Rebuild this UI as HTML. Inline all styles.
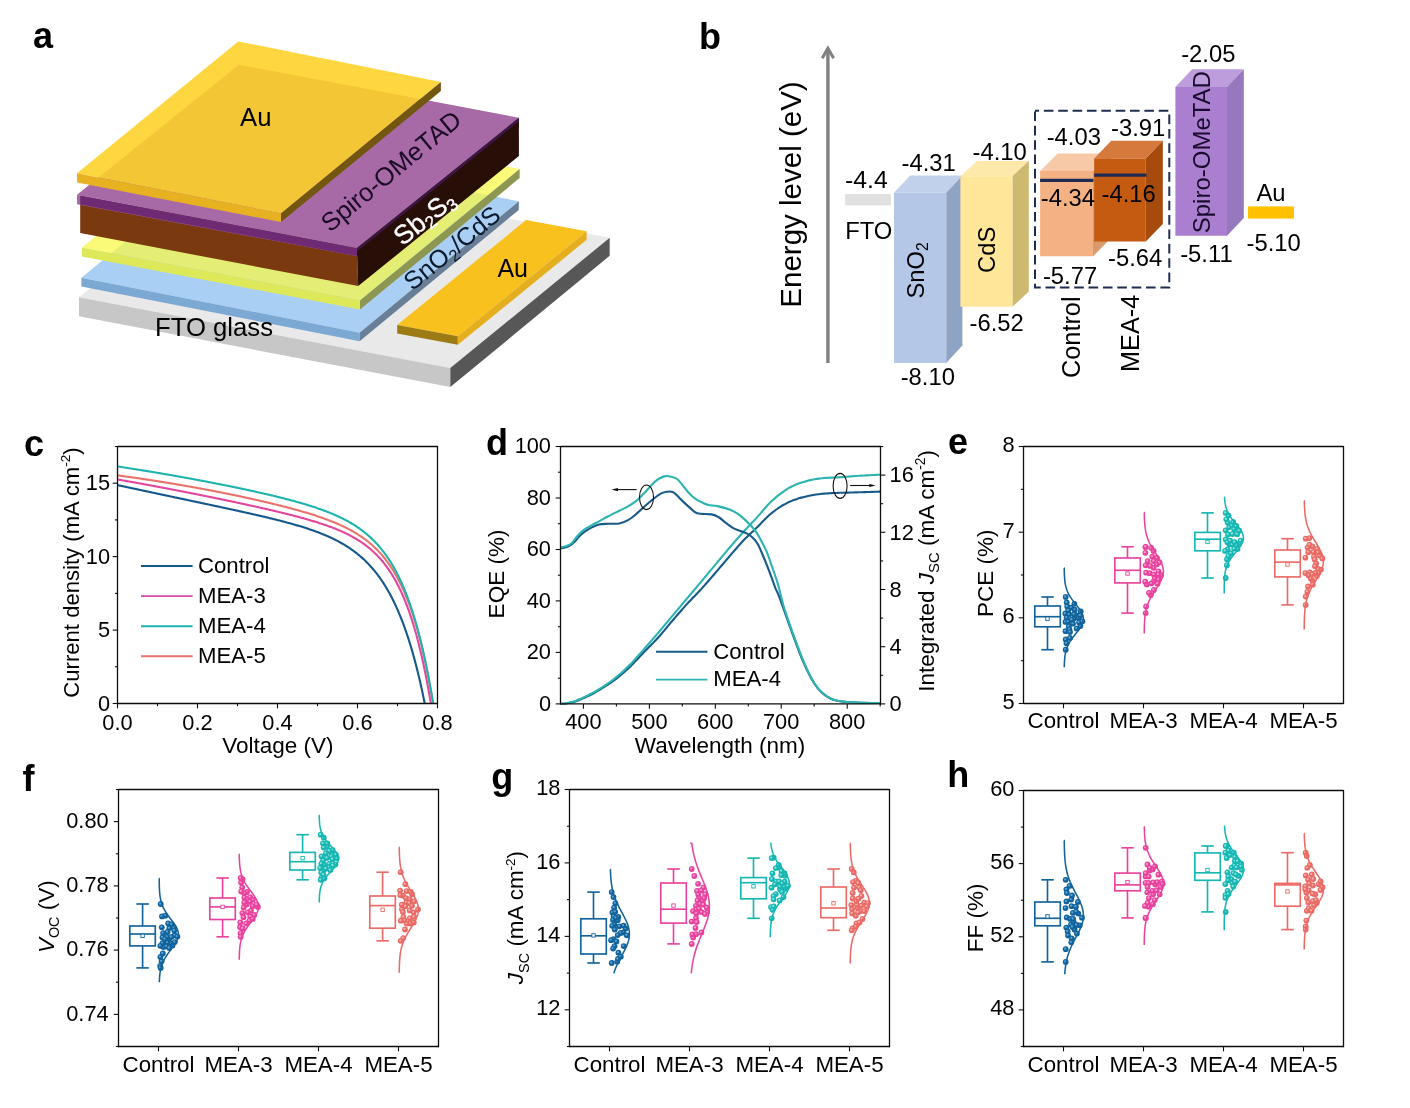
<!DOCTYPE html>
<html lang="en"><head><meta charset="utf-8"><title>Figure</title>
<style>html,body{margin:0;padding:0;background:#fff}body{width:1410px;height:1108px;overflow:hidden}</style>
</head><body>
<svg width="1410" height="1108" viewBox="0 0 1410 1108" font-family='"Liberation Sans", Arial, Helvetica, sans-serif' style="display:block">
<rect width="1410" height="1108" fill="#fff"/>
<g id="panel-a">
<polygon points="79.0,297.3 450.3,368.1 609.7,237.8 238.4,167.0" fill="#e9e9e9" />
<polygon points="79.0,297.3 450.3,368.1 450.3,387.1 79.0,316.3" fill="#c7c7c7" />
<polygon points="450.3,368.1 609.7,237.8 609.7,255.8 450.3,387.1" fill="#575757" />
<polygon points="397.2,325.1 457.8,336.3 586.6,231.3 526.0,220.1" fill="#f9c11e" />
<polygon points="397.2,325.1 457.8,336.3 457.8,344.8 397.2,333.6" fill="#9c7a14" />
<polygon points="457.8,336.3 586.6,231.3 586.6,239.8 457.8,344.8" fill="#e4ae1f" />
<polygon points="81.4,277.8 359.6,332.7 518.8,201.3 240.6,146.4" fill="#a9d0f4" />
<polygon points="81.4,277.8 359.6,332.7 359.6,341.3 81.4,286.4" fill="#7ca8d4" />
<polygon points="359.6,332.7 518.8,201.3 518.8,209.9 359.6,341.3" fill="#687f97" />
<polygon points="82.0,247.5 360.0,300.6 519.6,169.0 241.6,115.9" fill="#f8f84b" fill-opacity="0.75"/>
<polygon points="82.0,247.5 360.0,300.6 360.0,309.6 82.0,256.5" fill="#dde959" />
<polygon points="360.0,300.6 519.6,169.0 519.6,178.0 360.0,309.6" fill="#8d9752" />
<polygon points="80.2,203.0 357.0,254.8 358.2,286.1 80.2,233.0" fill="#7b3910" />
<polygon points="357.0,252.0 518.9,122.5 518.9,156.0 358.2,286.1" fill="#270e06" />
<polygon points="77.0,194.8 357.0,247.9 518.9,117.8 238.9,64.7" fill="#a76aa7" />
<polygon points="77.0,194.8 357.0,247.9 357.0,256.1 77.0,204.2" fill="#a76aa7" />
<polygon points="80.2,195.4 357.0,247.9 357.0,256.1 80.2,204.4" fill="#6e2b74" />
<polygon points="357.0,247.9 518.9,117.8 518.9,126.8 357.0,256.3" fill="#270e06" />
<polygon points="357.0,247.9 518.9,117.8 518.9,121.4 357.0,251.5" fill="#3d1646" />
<polygon points="77.0,173.3 281.0,213.5 440.9,82.0 238.3,41.4" fill="#fdd128" fill-opacity="0.89"/>
<polygon points="77.0,173.3 281.0,213.5 281.0,222.1 77.0,182.5" fill="#e8b122" />
<polygon points="281.0,213.5 440.9,82.0 440.9,91.0 281.0,222.1" fill="#735610" />
<text x="240.0" y="125.7" font-size="25.7" text-anchor="start" fill="#000" >Au</text>
<text x="155.0" y="336.3" font-size="25.7" text-anchor="start" fill="#000" >FTO glass</text>
<text x="497.4" y="277.3" font-size="25.0" text-anchor="start" fill="#000" >Au</text>
<text x="0.0" y="0.0" font-size="25.6" text-anchor="start" fill="#1a0a26" transform="translate(330.0,233.0) rotate(-39.6)" >Spiro-OMeTAD</text>
<text x="0.0" y="0.0" font-size="26.5" text-anchor="start" fill="#fff" transform="translate(402.6,246.4) rotate(-38.3)" stroke="#fff" stroke-width="0.35">Sb<tspan font-size="17.5" dy="4.5">2</tspan><tspan dy="-4.5">&#8203;</tspan>S<tspan font-size="17.5" dy="4.5">3</tspan><tspan dy="-4.5">&#8203;</tspan></text>
<text x="0.0" y="0.0" font-size="25.3" text-anchor="start" fill="#0a1a2c" transform="translate(412.6,291.5) rotate(-39.4)" >SnO<tspan font-size="16.7" dy="4.3">2</tspan><tspan dy="-4.3">&#8203;</tspan>/CdS</text>
</g>
<g id="panel-b">
<line x1="827.9" y1="363" x2="827.9" y2="49.5" stroke="#808080" stroke-width="3.4"/>
<polyline points="822.2,58.2 827.9,48.2 833.6,58.2" fill="none" stroke="#808080" stroke-width="3" stroke-linejoin="miter"/>
<text x="0.0" y="0.0" font-size="29.5" text-anchor="middle" fill="#000" transform="translate(801.0,194.5) rotate(-90.0)" >Energy level (eV)</text>
<rect x="845.2" y="194" width="45.7" height="11.5" fill="#e0e0e0"/>
<text x="845.0" y="188.2" font-size="24.8" text-anchor="start" fill="#000" >-4.4</text>
<text x="845.2" y="239.3" font-size="23.8" text-anchor="start" fill="#000" >FTO</text>
<polygon points="894.0,192.8 946.2,192.8 962.4,175.4 910.2,175.4" fill="#c1d0eb" />
<polygon points="946.2,192.8 962.4,175.4 962.4,345.6 946.2,363.0" fill="#8fa3c5" />
<polygon points="894.0,192.8 946.2,192.8 946.2,363.0 894.0,363.0" fill="#b4c7e7" />
<polygon points="960.4,176.2 1012.4,176.2 1028.8,161.0 976.8,161.0" fill="#fdeaaa" />
<polygon points="1012.4,176.2 1028.8,161.0 1028.8,291.6 1012.4,306.8" fill="#cdb970" />
<polygon points="960.4,176.2 1012.4,176.2 1012.4,306.8 960.4,306.8" fill="#ffe699" />
<polygon points="1040.1,171.1 1093.0,171.1 1110.6,153.5 1057.7,153.5" fill="#f8c9a6" />
<polygon points="1093.0,171.1 1110.6,153.5 1110.6,238.6 1093.0,256.2" fill="#d8996b" />
<polygon points="1040.1,171.1 1093.0,171.1 1093.0,256.2 1040.1,256.2" fill="#f4b183" />
<polygon points="1094.2,158.4 1145.8,158.4 1162.8,140.8 1111.2,140.8" fill="#d5793c" />
<polygon points="1145.8,158.4 1162.8,140.8 1162.8,224.0 1145.8,241.6" fill="#a74b0d" />
<polygon points="1094.2,158.4 1145.8,158.4 1145.8,241.6 1094.2,241.6" fill="#c55a11" />
<polygon points="1175.4,86.9 1227.0,86.9 1243.8,69.3 1192.2,69.3" fill="#bd9ddb" />
<polygon points="1227.0,86.9 1243.8,69.3 1243.8,218.1 1227.0,235.7" fill="#9678be" />
<polygon points="1175.4,86.9 1227.0,86.9 1227.0,235.7 1175.4,235.7" fill="#ab7fd0" />
<line x1="1040.1" y1="180.3" x2="1093.4" y2="180.3" stroke="#1f2a55" stroke-width="3.2"/>
<line x1="1094.2" y1="175.2" x2="1146.4" y2="175.2" stroke="#1f2a55" stroke-width="3.2"/>
<rect x="1247.9" y="206.4" width="46" height="12.2" fill="#ffc000"/>
<rect x="1035" y="110.8" width="134.3" height="176.8" fill="none" stroke="#1f2d4e" stroke-width="2.0" stroke-dasharray="9.6 4.76" stroke-dashoffset="5.5"/>
<text x="901.5" y="170.5" font-size="23.8" text-anchor="start" fill="#000" >-4.31</text>
<text x="972.5" y="159.5" font-size="23.8" text-anchor="start" fill="#000" >-4.10</text>
<text x="969.5" y="331.2" font-size="23.8" text-anchor="start" fill="#000" >-6.52</text>
<text x="900.7" y="384.9" font-size="23.8" text-anchor="start" fill="#000" >-8.10</text>
<text x="1046.7" y="145.3" font-size="23.8" text-anchor="start" fill="#000" >-4.03</text>
<text x="1111.0" y="135.6" font-size="23.8" text-anchor="start" fill="#000" >-3.91</text>
<text x="1040.8" y="205.8" font-size="23.8" text-anchor="start" fill="#000" >-4.34</text>
<text x="1101.6" y="202.0" font-size="23.8" text-anchor="start" fill="#000" >-4.16</text>
<text x="1108.0" y="265.8" font-size="23.8" text-anchor="start" fill="#000" >-5.64</text>
<text x="1042.9" y="283.7" font-size="23.8" text-anchor="start" fill="#000" >-5.77</text>
<text x="1181.2" y="62.1" font-size="23.8" text-anchor="start" fill="#000" >-2.05</text>
<text x="1180.2" y="262.0" font-size="23.8" text-anchor="start" fill="#000" >-5.11</text>
<text x="1246.6" y="250.5" font-size="23.8" text-anchor="start" fill="#000" >-5.10</text>
<text x="1256.5" y="201.2" font-size="23.8" text-anchor="start" fill="#000" >Au</text>
<text x="0.0" y="0.0" font-size="23.8" text-anchor="start" fill="#000" transform="translate(924.0,298.5) rotate(-90.0)" >SnO<tspan font-size="15.7" dy="4.0">2</tspan><tspan dy="-4.0">&#8203;</tspan></text>
<text x="0.0" y="0.0" font-size="23.8" text-anchor="start" fill="#000" transform="translate(994.7,273.0) rotate(-90.0)" >CdS</text>
<text x="0.0" y="0.0" font-size="24.0" text-anchor="start" fill="#1a0a30" transform="translate(1210.4,233.3) rotate(-90.0)" >Spiro-OMeTAD</text>
<text x="0.0" y="0.0" font-size="25.3" text-anchor="start" fill="#000" transform="translate(1080.2,378.0) rotate(-90.0)" >Control</text>
<text x="0.0" y="0.0" font-size="25.3" text-anchor="start" fill="#000" transform="translate(1138.9,372.0) rotate(-90.0)" >MEA-4</text>
</g>
<g id="panel-c">
<path d="M117.50,485.09 L118.30,485.26 L119.10,485.43 L119.91,485.61 L120.71,485.78 L121.51,485.95 L122.31,486.12 L123.11,486.30 L123.92,486.47 L124.72,486.64 L125.52,486.82 L126.32,486.99 L127.12,487.16 L127.93,487.33 L128.73,487.51 L129.53,487.68 L130.33,487.85 L131.13,488.02 L131.94,488.20 L132.74,488.37 L133.54,488.54 L134.34,488.71 L135.14,488.88 L135.95,489.06 L136.75,489.23 L137.55,489.40 L138.35,489.57 L139.15,489.74 L139.96,489.92 L140.76,490.09 L141.56,490.26 L142.36,490.43 L143.16,490.60 L143.97,490.77 L144.77,490.95 L145.57,491.12 L146.37,491.29 L147.17,491.46 L147.98,491.63 L148.78,491.80 L149.58,491.97 L150.38,492.14 L151.18,492.32 L151.99,492.49 L152.79,492.66 L153.59,492.83 L154.39,493.00 L155.19,493.17 L156.00,493.34 L156.80,493.51 L157.60,493.68 L158.40,493.86 L159.20,494.03 L160.01,494.20 L160.81,494.37 L161.61,494.54 L162.41,494.71 L163.21,494.88 L164.02,495.05 L164.82,495.22 L165.62,495.39 L166.42,495.56 L167.22,495.73 L168.03,495.90 L168.83,496.07 L169.63,496.24 L170.43,496.41 L171.23,496.58 L172.04,496.76 L172.84,496.93 L173.64,497.10 L174.44,497.27 L175.24,497.44 L176.05,497.61 L176.85,497.78 L177.65,497.95 L178.45,498.12 L179.25,498.29 L180.06,498.46 L180.86,498.63 L181.66,498.80 L182.46,498.97 L183.26,499.14 L184.07,499.31 L184.87,499.48 L185.67,499.65 L186.47,499.82 L187.27,499.99 L188.08,500.16 L188.88,500.33 L189.68,500.50 L190.48,500.67 L191.28,500.84 L192.09,501.01 L192.89,501.18 L193.69,501.35 L194.49,501.52 L195.29,501.69 L196.10,501.86 L196.90,502.03 L197.70,502.20 L198.50,502.37 L199.30,502.54 L200.11,502.71 L200.91,502.88 L201.71,503.06 L202.51,503.23 L203.31,503.40 L204.12,503.57 L204.92,503.74 L205.72,503.91 L206.52,504.08 L207.32,504.25 L208.13,504.42 L208.93,504.59 L209.73,504.76 L210.53,504.93 L211.33,505.11 L212.14,505.28 L212.94,505.45 L213.74,505.62 L214.54,505.79 L215.34,505.96 L216.15,506.13 L216.95,506.31 L217.75,506.48 L218.55,506.65 L219.35,506.82 L220.16,506.99 L220.96,507.17 L221.76,507.34 L222.56,507.51 L223.36,507.68 L224.17,507.86 L224.97,508.03 L225.77,508.20 L226.57,508.38 L227.37,508.55 L228.18,508.72 L228.98,508.90 L229.78,509.07 L230.58,509.24 L231.38,509.42 L232.19,509.59 L232.99,509.77 L233.79,509.94 L234.59,510.12 L235.39,510.29 L236.20,510.47 L237.00,510.64 L237.80,510.82 L238.60,511.00 L239.40,511.17 L240.21,511.35 L241.01,511.53 L241.81,511.70 L242.61,511.88 L243.41,512.06 L244.22,512.24 L245.02,512.42 L245.82,512.60 L246.62,512.77 L247.42,512.95 L248.23,513.13 L249.03,513.31 L249.83,513.49 L250.63,513.68 L251.43,513.86 L252.24,514.04 L253.04,514.22 L253.84,514.40 L254.64,514.59 L255.44,514.77 L256.25,514.95 L257.05,515.14 L257.85,515.32 L258.65,515.51 L259.45,515.69 L260.26,515.88 L261.06,516.07 L261.86,516.25 L262.66,516.44 L263.46,516.63 L264.27,516.82 L265.07,517.01 L265.87,517.20 L266.67,517.39 L267.47,517.58 L268.28,517.78 L269.08,517.97 L269.88,518.16 L270.68,518.36 L271.48,518.56 L272.29,518.75 L273.09,518.95 L273.89,519.15 L274.69,519.35 L275.49,519.55 L276.30,519.75 L277.10,519.95 L277.90,520.15 L278.70,520.35 L279.51,520.56 L280.31,520.77 L281.11,520.97 L281.91,521.18 L282.71,521.39 L283.52,521.60 L284.32,521.81 L285.12,522.02 L285.92,522.24 L286.72,522.45 L287.53,522.67 L288.33,522.89 L289.13,523.11 L289.93,523.33 L290.73,523.55 L291.54,523.77 L292.34,524.00 L293.14,524.22 L293.94,524.45 L294.74,524.68 L295.55,524.91 L296.35,525.15 L297.15,525.38 L297.95,525.62 L298.75,525.86 L299.56,526.10 L300.36,526.34 L301.16,526.58 L301.96,526.83 L302.76,527.08 L303.57,527.33 L304.37,527.58 L305.17,527.84 L305.97,528.10 L306.77,528.36 L307.58,528.62 L308.38,528.89 L309.18,529.15 L309.98,529.43 L310.78,529.70 L311.59,529.98 L312.39,530.25 L313.19,530.54 L313.99,530.82 L314.79,531.11 L315.60,531.40 L316.40,531.70 L317.20,531.99 L318.00,532.30 L318.80,532.60 L319.61,532.91 L320.41,533.22 L321.21,533.54 L322.01,533.86 L322.81,534.18 L323.62,534.51 L324.42,534.84 L325.22,535.18 L326.02,535.52 L326.82,535.87 L327.63,536.22 L328.43,536.57 L329.23,536.93 L330.03,537.30 L330.83,537.67 L331.64,538.04 L332.44,538.42 L333.24,538.81 L334.04,539.20 L334.84,539.60 L335.65,540.00 L336.45,540.41 L337.25,540.83 L338.05,541.25 L338.85,541.68 L339.66,542.11 L340.46,542.56 L341.26,543.01 L342.06,543.46 L342.86,543.93 L343.67,544.40 L344.47,544.88 L345.27,545.37 L346.07,545.86 L346.87,546.37 L347.68,546.88 L348.48,547.40 L349.28,547.94 L350.08,548.48 L350.88,549.03 L351.69,549.59 L352.49,550.16 L353.29,550.74 L354.09,551.33 L354.89,551.93 L355.70,552.54 L356.50,553.16 L357.30,553.80 L358.10,554.45 L358.90,555.11 L359.71,555.78 L360.51,556.46 L361.31,557.16 L362.11,557.87 L362.91,558.60 L363.72,559.34 L364.52,560.09 L365.32,560.86 L366.12,561.65 L366.92,562.45 L367.73,563.26 L368.53,564.10 L369.33,564.95 L370.13,565.81 L370.93,566.70 L371.74,567.60 L372.54,568.52 L373.34,569.46 L374.14,570.42 L374.94,571.40 L375.75,572.40 L376.55,573.42 L377.35,574.46 L378.15,575.53 L378.95,576.62 L379.76,577.73 L380.56,578.86 L381.36,580.02 L382.16,581.21 L382.96,582.42 L383.77,583.65 L384.57,584.92 L385.37,586.21 L386.17,587.53 L386.97,588.87 L387.78,590.25 L388.58,591.66 L389.38,593.10 L390.18,594.57 L390.98,596.07 L391.79,597.61 L392.59,599.19 L393.39,600.79 L394.19,602.44 L394.99,604.12 L395.80,605.84 L396.60,607.60 L397.40,609.39 L398.20,611.23 L399.00,613.11 L399.81,615.04 L400.61,617.01 L401.41,619.02 L402.21,621.08 L403.01,623.19 L403.82,625.34 L404.62,627.55 L405.42,629.81 L406.22,632.12 L407.02,634.48 L407.83,636.90 L408.63,639.37 L409.43,641.90 L410.23,644.50 L411.03,647.15 L411.84,649.86 L412.64,652.64 L413.44,655.49 L414.24,658.40 L415.04,661.38 L415.85,664.43 L416.65,667.55 L417.45,670.75 L418.25,674.02 L419.05,677.37 L419.86,680.80 L420.66,684.31 L421.46,687.91 L422.26,691.59 L423.06,695.36 L423.87,699.22 L424.67,703.17 L424.75,703.50" fill="none" stroke="#15598c" stroke-width="2.1" stroke-linejoin="round"/>
<path d="M117.50,479.43 L118.30,479.58 L119.10,479.72 L119.91,479.86 L120.71,480.00 L121.51,480.14 L122.31,480.29 L123.11,480.43 L123.92,480.57 L124.72,480.71 L125.52,480.86 L126.32,481.00 L127.12,481.14 L127.93,481.29 L128.73,481.43 L129.53,481.58 L130.33,481.72 L131.13,481.86 L131.94,482.01 L132.74,482.15 L133.54,482.30 L134.34,482.44 L135.14,482.59 L135.95,482.73 L136.75,482.88 L137.55,483.03 L138.35,483.17 L139.15,483.32 L139.96,483.46 L140.76,483.61 L141.56,483.76 L142.36,483.90 L143.16,484.05 L143.97,484.20 L144.77,484.35 L145.57,484.49 L146.37,484.64 L147.17,484.79 L147.98,484.94 L148.78,485.09 L149.58,485.24 L150.38,485.38 L151.18,485.53 L151.99,485.68 L152.79,485.83 L153.59,485.98 L154.39,486.13 L155.19,486.28 L156.00,486.43 L156.80,486.58 L157.60,486.73 L158.40,486.88 L159.20,487.03 L160.01,487.18 L160.81,487.33 L161.61,487.48 L162.41,487.64 L163.21,487.79 L164.02,487.94 L164.82,488.09 L165.62,488.24 L166.42,488.40 L167.22,488.55 L168.03,488.70 L168.83,488.85 L169.63,489.01 L170.43,489.16 L171.23,489.31 L172.04,489.47 L172.84,489.62 L173.64,489.78 L174.44,489.93 L175.24,490.08 L176.05,490.24 L176.85,490.39 L177.65,490.55 L178.45,490.70 L179.25,490.86 L180.06,491.01 L180.86,491.17 L181.66,491.33 L182.46,491.48 L183.26,491.64 L184.07,491.79 L184.87,491.95 L185.67,492.11 L186.47,492.27 L187.27,492.42 L188.08,492.58 L188.88,492.74 L189.68,492.90 L190.48,493.05 L191.28,493.21 L192.09,493.37 L192.89,493.53 L193.69,493.69 L194.49,493.85 L195.29,494.01 L196.10,494.17 L196.90,494.32 L197.70,494.48 L198.50,494.64 L199.30,494.80 L200.11,494.97 L200.91,495.13 L201.71,495.29 L202.51,495.45 L203.31,495.61 L204.12,495.77 L204.92,495.93 L205.72,496.09 L206.52,496.26 L207.32,496.42 L208.13,496.58 L208.93,496.74 L209.73,496.91 L210.53,497.07 L211.33,497.23 L212.14,497.40 L212.94,497.56 L213.74,497.72 L214.54,497.89 L215.34,498.05 L216.15,498.22 L216.95,498.38 L217.75,498.55 L218.55,498.71 L219.35,498.88 L220.16,499.04 L220.96,499.21 L221.76,499.37 L222.56,499.54 L223.36,499.71 L224.17,499.87 L224.97,500.04 L225.77,500.21 L226.57,500.38 L227.37,500.54 L228.18,500.71 L228.98,500.88 L229.78,501.05 L230.58,501.22 L231.38,501.39 L232.19,501.56 L232.99,501.73 L233.79,501.90 L234.59,502.07 L235.39,502.24 L236.20,502.41 L237.00,502.58 L237.80,502.75 L238.60,502.92 L239.40,503.09 L240.21,503.27 L241.01,503.44 L241.81,503.61 L242.61,503.78 L243.41,503.96 L244.22,504.13 L245.02,504.31 L245.82,504.48 L246.62,504.65 L247.42,504.83 L248.23,505.00 L249.03,505.18 L249.83,505.36 L250.63,505.53 L251.43,505.71 L252.24,505.89 L253.04,506.06 L253.84,506.24 L254.64,506.42 L255.44,506.60 L256.25,506.77 L257.05,506.95 L257.85,507.13 L258.65,507.31 L259.45,507.49 L260.26,507.67 L261.06,507.86 L261.86,508.04 L262.66,508.22 L263.46,508.40 L264.27,508.58 L265.07,508.77 L265.87,508.95 L266.67,509.14 L267.47,509.32 L268.28,509.51 L269.08,509.69 L269.88,509.88 L270.68,510.06 L271.48,510.25 L272.29,510.44 L273.09,510.63 L273.89,510.82 L274.69,511.01 L275.49,511.20 L276.30,511.39 L277.10,511.58 L277.90,511.77 L278.70,511.96 L279.51,512.16 L280.31,512.35 L281.11,512.54 L281.91,512.74 L282.71,512.94 L283.52,513.13 L284.32,513.33 L285.12,513.53 L285.92,513.73 L286.72,513.93 L287.53,514.13 L288.33,514.33 L289.13,514.53 L289.93,514.73 L290.73,514.94 L291.54,515.14 L292.34,515.35 L293.14,515.56 L293.94,515.76 L294.74,515.97 L295.55,516.18 L296.35,516.39 L297.15,516.61 L297.95,516.82 L298.75,517.03 L299.56,517.25 L300.36,517.47 L301.16,517.69 L301.96,517.90 L302.76,518.13 L303.57,518.35 L304.37,518.57 L305.17,518.80 L305.97,519.02 L306.77,519.25 L307.58,519.48 L308.38,519.71 L309.18,519.94 L309.98,520.18 L310.78,520.41 L311.59,520.65 L312.39,520.89 L313.19,521.13 L313.99,521.37 L314.79,521.62 L315.60,521.87 L316.40,522.12 L317.20,522.37 L318.00,522.62 L318.80,522.88 L319.61,523.13 L320.41,523.39 L321.21,523.66 L322.01,523.92 L322.81,524.19 L323.62,524.46 L324.42,524.73 L325.22,525.01 L326.02,525.29 L326.82,525.57 L327.63,525.86 L328.43,526.14 L329.23,526.44 L330.03,526.73 L330.83,527.03 L331.64,527.33 L332.44,527.64 L333.24,527.94 L334.04,528.26 L334.84,528.57 L335.65,528.89 L336.45,529.22 L337.25,529.55 L338.05,529.88 L338.85,530.22 L339.66,530.56 L340.46,530.91 L341.26,531.26 L342.06,531.62 L342.86,531.98 L343.67,532.35 L344.47,532.73 L345.27,533.11 L346.07,533.49 L346.87,533.88 L347.68,534.28 L348.48,534.68 L349.28,535.10 L350.08,535.51 L350.88,535.94 L351.69,536.37 L352.49,536.81 L353.29,537.26 L354.09,537.71 L354.89,538.17 L355.70,538.64 L356.50,539.12 L357.30,539.61 L358.10,540.11 L358.90,540.62 L359.71,541.13 L360.51,541.66 L361.31,542.20 L362.11,542.75 L362.91,543.31 L363.72,543.87 L364.52,544.46 L365.32,545.05 L366.12,545.65 L366.92,546.27 L367.73,546.90 L368.53,547.55 L369.33,548.21 L370.13,548.88 L370.93,549.57 L371.74,550.27 L372.54,550.99 L373.34,551.72 L374.14,552.47 L374.94,553.24 L375.75,554.02 L376.55,554.82 L377.35,555.64 L378.15,556.48 L378.95,557.34 L379.76,558.22 L380.56,559.12 L381.36,560.05 L382.16,560.99 L382.96,561.96 L383.77,562.95 L384.57,563.96 L385.37,565.00 L386.17,566.07 L386.97,567.16 L387.78,568.28 L388.58,569.43 L389.38,570.60 L390.18,571.81 L390.98,573.04 L391.79,574.31 L392.59,575.61 L393.39,576.95 L394.19,578.31 L394.99,579.72 L395.80,581.16 L396.60,582.64 L397.40,584.16 L398.20,585.71 L399.00,587.31 L399.81,588.96 L400.61,590.64 L401.41,592.37 L402.21,594.15 L403.01,595.97 L403.82,597.85 L404.62,599.78 L405.42,601.75 L406.22,603.79 L407.02,605.87 L407.83,608.02 L408.63,610.22 L409.43,612.49 L410.23,614.82 L411.03,617.21 L411.84,619.67 L412.64,622.20 L413.44,624.79 L414.24,627.47 L415.04,630.21 L415.85,633.04 L416.65,635.94 L417.45,638.92 L418.25,641.99 L419.05,645.15 L419.86,648.40 L420.66,651.74 L421.46,655.17 L422.26,658.70 L423.06,662.34 L423.87,666.08 L424.67,669.92 L425.47,673.88 L426.27,677.95 L427.07,682.14 L427.88,686.44 L428.68,690.88 L429.48,695.44 L430.28,700.13 L430.86,703.50" fill="none" stroke="#e2479d" stroke-width="2.1" stroke-linejoin="round"/>
<path d="M117.50,475.36 L118.30,475.47 L119.10,475.58 L119.91,475.69 L120.71,475.79 L121.51,475.90 L122.31,476.01 L123.11,476.12 L123.92,476.23 L124.72,476.34 L125.52,476.45 L126.32,476.56 L127.12,476.68 L127.93,476.79 L128.73,476.90 L129.53,477.01 L130.33,477.13 L131.13,477.24 L131.94,477.35 L132.74,477.47 L133.54,477.58 L134.34,477.70 L135.14,477.81 L135.95,477.93 L136.75,478.04 L137.55,478.16 L138.35,478.28 L139.15,478.40 L139.96,478.51 L140.76,478.63 L141.56,478.75 L142.36,478.87 L143.16,478.99 L143.97,479.11 L144.77,479.23 L145.57,479.35 L146.37,479.47 L147.17,479.59 L147.98,479.71 L148.78,479.84 L149.58,479.96 L150.38,480.08 L151.18,480.20 L151.99,480.33 L152.79,480.45 L153.59,480.58 L154.39,480.70 L155.19,480.83 L156.00,480.95 L156.80,481.08 L157.60,481.20 L158.40,481.33 L159.20,481.46 L160.01,481.59 L160.81,481.71 L161.61,481.84 L162.41,481.97 L163.21,482.10 L164.02,482.23 L164.82,482.36 L165.62,482.49 L166.42,482.62 L167.22,482.75 L168.03,482.88 L168.83,483.01 L169.63,483.15 L170.43,483.28 L171.23,483.41 L172.04,483.55 L172.84,483.68 L173.64,483.81 L174.44,483.95 L175.24,484.08 L176.05,484.22 L176.85,484.36 L177.65,484.49 L178.45,484.63 L179.25,484.77 L180.06,484.90 L180.86,485.04 L181.66,485.18 L182.46,485.32 L183.26,485.46 L184.07,485.60 L184.87,485.74 L185.67,485.88 L186.47,486.02 L187.27,486.16 L188.08,486.30 L188.88,486.44 L189.68,486.58 L190.48,486.73 L191.28,486.87 L192.09,487.01 L192.89,487.16 L193.69,487.30 L194.49,487.45 L195.29,487.59 L196.10,487.74 L196.90,487.88 L197.70,488.03 L198.50,488.18 L199.30,488.32 L200.11,488.47 L200.91,488.62 L201.71,488.77 L202.51,488.92 L203.31,489.07 L204.12,489.22 L204.92,489.37 L205.72,489.52 L206.52,489.67 L207.32,489.82 L208.13,489.97 L208.93,490.12 L209.73,490.28 L210.53,490.43 L211.33,490.58 L212.14,490.74 L212.94,490.89 L213.74,491.04 L214.54,491.20 L215.34,491.36 L216.15,491.51 L216.95,491.67 L217.75,491.82 L218.55,491.98 L219.35,492.14 L220.16,492.30 L220.96,492.46 L221.76,492.62 L222.56,492.78 L223.36,492.94 L224.17,493.10 L224.97,493.26 L225.77,493.42 L226.57,493.58 L227.37,493.74 L228.18,493.90 L228.98,494.07 L229.78,494.23 L230.58,494.39 L231.38,494.56 L232.19,494.72 L232.99,494.89 L233.79,495.06 L234.59,495.22 L235.39,495.39 L236.20,495.56 L237.00,495.72 L237.80,495.89 L238.60,496.06 L239.40,496.23 L240.21,496.40 L241.01,496.57 L241.81,496.74 L242.61,496.91 L243.41,497.08 L244.22,497.26 L245.02,497.43 L245.82,497.60 L246.62,497.78 L247.42,497.95 L248.23,498.13 L249.03,498.30 L249.83,498.48 L250.63,498.65 L251.43,498.83 L252.24,499.01 L253.04,499.19 L253.84,499.36 L254.64,499.54 L255.44,499.72 L256.25,499.90 L257.05,500.08 L257.85,500.27 L258.65,500.45 L259.45,500.63 L260.26,500.81 L261.06,501.00 L261.86,501.18 L262.66,501.37 L263.46,501.55 L264.27,501.74 L265.07,501.93 L265.87,502.12 L266.67,502.30 L267.47,502.49 L268.28,502.68 L269.08,502.87 L269.88,503.06 L270.68,503.26 L271.48,503.45 L272.29,503.64 L273.09,503.84 L273.89,504.03 L274.69,504.23 L275.49,504.42 L276.30,504.62 L277.10,504.82 L277.90,505.02 L278.70,505.22 L279.51,505.42 L280.31,505.62 L281.11,505.82 L281.91,506.02 L282.71,506.23 L283.52,506.43 L284.32,506.64 L285.12,506.85 L285.92,507.05 L286.72,507.26 L287.53,507.47 L288.33,507.68 L289.13,507.89 L289.93,508.11 L290.73,508.32 L291.54,508.53 L292.34,508.75 L293.14,508.97 L293.94,509.19 L294.74,509.41 L295.55,509.63 L296.35,509.85 L297.15,510.07 L297.95,510.30 L298.75,510.52 L299.56,510.75 L300.36,510.98 L301.16,511.21 L301.96,511.44 L302.76,511.67 L303.57,511.90 L304.37,512.14 L305.17,512.38 L305.97,512.61 L306.77,512.85 L307.58,513.10 L308.38,513.34 L309.18,513.59 L309.98,513.83 L310.78,514.08 L311.59,514.33 L312.39,514.59 L313.19,514.84 L313.99,515.10 L314.79,515.36 L315.60,515.62 L316.40,515.88 L317.20,516.14 L318.00,516.41 L318.80,516.68 L319.61,516.95 L320.41,517.23 L321.21,517.51 L322.01,517.79 L322.81,518.07 L323.62,518.35 L324.42,518.64 L325.22,518.93 L326.02,519.22 L326.82,519.52 L327.63,519.82 L328.43,520.12 L329.23,520.43 L330.03,520.74 L330.83,521.05 L331.64,521.37 L332.44,521.68 L333.24,522.01 L334.04,522.34 L334.84,522.67 L335.65,523.00 L336.45,523.34 L337.25,523.68 L338.05,524.03 L338.85,524.38 L339.66,524.74 L340.46,525.10 L341.26,525.47 L342.06,525.84 L342.86,526.21 L343.67,526.59 L344.47,526.98 L345.27,527.37 L346.07,527.77 L346.87,528.17 L347.68,528.58 L348.48,529.00 L349.28,529.42 L350.08,529.85 L350.88,530.29 L351.69,530.73 L352.49,531.18 L353.29,531.64 L354.09,532.10 L354.89,532.57 L355.70,533.05 L356.50,533.54 L357.30,534.04 L358.10,534.54 L358.90,535.06 L359.71,535.58 L360.51,536.11 L361.31,536.66 L362.11,537.21 L362.91,537.77 L363.72,538.35 L364.52,538.93 L365.32,539.53 L366.12,540.13 L366.92,540.75 L367.73,541.39 L368.53,542.03 L369.33,542.69 L370.13,543.36 L370.93,544.04 L371.74,544.74 L372.54,545.45 L373.34,546.18 L374.14,546.92 L374.94,547.68 L375.75,548.46 L376.55,549.25 L377.35,550.06 L378.15,550.89 L378.95,551.73 L379.76,552.60 L380.56,553.48 L381.36,554.39 L382.16,555.31 L382.96,556.26 L383.77,557.23 L384.57,558.22 L385.37,559.23 L386.17,560.27 L386.97,561.33 L387.78,562.42 L388.58,563.54 L389.38,564.68 L390.18,565.85 L390.98,567.04 L391.79,568.27 L392.59,569.53 L393.39,570.82 L394.19,572.14 L394.99,573.49 L395.80,574.88 L396.60,576.30 L397.40,577.76 L398.20,579.26 L399.00,580.79 L399.81,582.36 L400.61,583.98 L401.41,585.63 L402.21,587.33 L403.01,589.08 L403.82,590.87 L404.62,592.70 L405.42,594.59 L406.22,596.52 L407.02,598.51 L407.83,600.55 L408.63,602.64 L409.43,604.79 L410.23,607.00 L411.03,609.27 L411.84,611.60 L412.64,613.99 L413.44,616.45 L414.24,618.98 L415.04,621.57 L415.85,624.24 L416.65,626.98 L417.45,629.79 L418.25,632.69 L419.05,635.66 L419.86,638.72 L420.66,641.86 L421.46,645.09 L422.26,648.41 L423.06,651.82 L423.87,655.33 L424.67,658.94 L425.47,662.65 L426.27,666.46 L427.07,670.38 L427.88,674.42 L428.68,678.57 L429.48,682.83 L430.28,687.22 L431.08,691.74 L431.89,696.38 L432.69,701.16 L433.09,703.50" fill="none" stroke="#e9726b" stroke-width="2.1" stroke-linejoin="round"/>
<path d="M117.50,466.46 L118.30,466.58 L119.10,466.70 L119.91,466.82 L120.71,466.95 L121.51,467.07 L122.31,467.19 L123.11,467.31 L123.92,467.44 L124.72,467.56 L125.52,467.68 L126.32,467.81 L127.12,467.93 L127.93,468.06 L128.73,468.18 L129.53,468.31 L130.33,468.43 L131.13,468.56 L131.94,468.68 L132.74,468.81 L133.54,468.93 L134.34,469.06 L135.14,469.19 L135.95,469.32 L136.75,469.44 L137.55,469.57 L138.35,469.70 L139.15,469.83 L139.96,469.96 L140.76,470.08 L141.56,470.21 L142.36,470.34 L143.16,470.47 L143.97,470.60 L144.77,470.73 L145.57,470.86 L146.37,470.99 L147.17,471.13 L147.98,471.26 L148.78,471.39 L149.58,471.52 L150.38,471.65 L151.18,471.79 L151.99,471.92 L152.79,472.05 L153.59,472.18 L154.39,472.32 L155.19,472.45 L156.00,472.59 L156.80,472.72 L157.60,472.86 L158.40,472.99 L159.20,473.13 L160.01,473.26 L160.81,473.40 L161.61,473.53 L162.41,473.67 L163.21,473.81 L164.02,473.95 L164.82,474.08 L165.62,474.22 L166.42,474.36 L167.22,474.50 L168.03,474.64 L168.83,474.77 L169.63,474.91 L170.43,475.05 L171.23,475.19 L172.04,475.33 L172.84,475.47 L173.64,475.61 L174.44,475.75 L175.24,475.90 L176.05,476.04 L176.85,476.18 L177.65,476.32 L178.45,476.46 L179.25,476.61 L180.06,476.75 L180.86,476.89 L181.66,477.04 L182.46,477.18 L183.26,477.32 L184.07,477.47 L184.87,477.61 L185.67,477.76 L186.47,477.90 L187.27,478.05 L188.08,478.20 L188.88,478.34 L189.68,478.49 L190.48,478.64 L191.28,478.78 L192.09,478.93 L192.89,479.08 L193.69,479.23 L194.49,479.37 L195.29,479.52 L196.10,479.67 L196.90,479.82 L197.70,479.97 L198.50,480.12 L199.30,480.27 L200.11,480.42 L200.91,480.57 L201.71,480.72 L202.51,480.88 L203.31,481.03 L204.12,481.18 L204.92,481.33 L205.72,481.49 L206.52,481.64 L207.32,481.79 L208.13,481.95 L208.93,482.10 L209.73,482.25 L210.53,482.41 L211.33,482.56 L212.14,482.72 L212.94,482.88 L213.74,483.03 L214.54,483.19 L215.34,483.35 L216.15,483.50 L216.95,483.66 L217.75,483.82 L218.55,483.98 L219.35,484.13 L220.16,484.29 L220.96,484.45 L221.76,484.61 L222.56,484.77 L223.36,484.93 L224.17,485.09 L224.97,485.25 L225.77,485.42 L226.57,485.58 L227.37,485.74 L228.18,485.90 L228.98,486.07 L229.78,486.23 L230.58,486.39 L231.38,486.56 L232.19,486.72 L232.99,486.89 L233.79,487.05 L234.59,487.22 L235.39,487.38 L236.20,487.55 L237.00,487.72 L237.80,487.89 L238.60,488.05 L239.40,488.22 L240.21,488.39 L241.01,488.56 L241.81,488.73 L242.61,488.90 L243.41,489.07 L244.22,489.24 L245.02,489.41 L245.82,489.58 L246.62,489.76 L247.42,489.93 L248.23,490.10 L249.03,490.28 L249.83,490.45 L250.63,490.63 L251.43,490.80 L252.24,490.98 L253.04,491.15 L253.84,491.33 L254.64,491.51 L255.44,491.69 L256.25,491.86 L257.05,492.04 L257.85,492.22 L258.65,492.40 L259.45,492.58 L260.26,492.76 L261.06,492.95 L261.86,493.13 L262.66,493.31 L263.46,493.50 L264.27,493.68 L265.07,493.87 L265.87,494.05 L266.67,494.24 L267.47,494.43 L268.28,494.61 L269.08,494.80 L269.88,494.99 L270.68,495.18 L271.48,495.37 L272.29,495.56 L273.09,495.76 L273.89,495.95 L274.69,496.14 L275.49,496.34 L276.30,496.53 L277.10,496.73 L277.90,496.93 L278.70,497.12 L279.51,497.32 L280.31,497.52 L281.11,497.72 L281.91,497.93 L282.71,498.13 L283.52,498.33 L284.32,498.54 L285.12,498.74 L285.92,498.95 L286.72,499.16 L287.53,499.36 L288.33,499.57 L289.13,499.79 L289.93,500.00 L290.73,500.21 L291.54,500.43 L292.34,500.64 L293.14,500.86 L293.94,501.08 L294.74,501.30 L295.55,501.52 L296.35,501.74 L297.15,501.96 L297.95,502.19 L298.75,502.42 L299.56,502.65 L300.36,502.88 L301.16,503.11 L301.96,503.34 L302.76,503.57 L303.57,503.81 L304.37,504.05 L305.17,504.29 L305.97,504.53 L306.77,504.77 L307.58,505.02 L308.38,505.27 L309.18,505.52 L309.98,505.77 L310.78,506.02 L311.59,506.28 L312.39,506.53 L313.19,506.79 L313.99,507.06 L314.79,507.32 L315.60,507.59 L316.40,507.86 L317.20,508.13 L318.00,508.41 L318.80,508.68 L319.61,508.96 L320.41,509.25 L321.21,509.53 L322.01,509.82 L322.81,510.11 L323.62,510.41 L324.42,510.71 L325.22,511.01 L326.02,511.31 L326.82,511.62 L327.63,511.93 L328.43,512.25 L329.23,512.57 L330.03,512.89 L330.83,513.22 L331.64,513.55 L332.44,513.88 L333.24,514.22 L334.04,514.57 L334.84,514.91 L335.65,515.27 L336.45,515.62 L337.25,515.99 L338.05,516.35 L338.85,516.72 L339.66,517.10 L340.46,517.49 L341.26,517.87 L342.06,518.27 L342.86,518.67 L343.67,519.07 L344.47,519.48 L345.27,519.90 L346.07,520.33 L346.87,520.76 L347.68,521.20 L348.48,521.64 L349.28,522.09 L350.08,522.55 L350.88,523.02 L351.69,523.49 L352.49,523.98 L353.29,524.47 L354.09,524.97 L354.89,525.48 L355.70,525.99 L356.50,526.52 L357.30,527.05 L358.10,527.60 L358.90,528.15 L359.71,528.72 L360.51,529.30 L361.31,529.88 L362.11,530.48 L362.91,531.09 L363.72,531.71 L364.52,532.34 L365.32,532.99 L366.12,533.64 L366.92,534.31 L367.73,535.00 L368.53,535.70 L369.33,536.41 L370.13,537.13 L370.93,537.87 L371.74,538.63 L372.54,539.40 L373.34,540.19 L374.14,541.00 L374.94,541.82 L375.75,542.66 L376.55,543.52 L377.35,544.39 L378.15,545.29 L378.95,546.20 L379.76,547.14 L380.56,548.09 L381.36,549.07 L382.16,550.07 L382.96,551.09 L383.77,552.13 L384.57,553.20 L385.37,554.30 L386.17,555.41 L386.97,556.56 L387.78,557.73 L388.58,558.92 L389.38,560.15 L390.18,561.40 L390.98,562.69 L391.79,564.00 L392.59,565.35 L393.39,566.72 L394.19,568.13 L394.99,569.58 L395.80,571.06 L396.60,572.57 L397.40,574.12 L398.20,575.71 L399.00,577.34 L399.81,579.01 L400.61,580.72 L401.41,582.48 L402.21,584.27 L403.01,586.11 L403.82,588.00 L404.62,589.94 L405.42,591.92 L406.22,593.95 L407.02,596.04 L407.83,598.17 L408.63,600.37 L409.43,602.61 L410.23,604.92 L411.03,607.28 L411.84,609.71 L412.64,612.19 L413.44,614.75 L414.24,617.36 L415.04,620.05 L415.85,622.80 L416.65,625.63 L417.45,628.53 L418.25,631.51 L419.05,634.56 L419.86,637.70 L420.66,640.91 L421.46,644.21 L422.26,647.60 L423.06,651.08 L423.87,654.65 L424.67,658.31 L425.47,662.08 L426.27,665.94 L427.07,669.90 L427.88,673.97 L428.68,678.15 L429.48,682.44 L430.28,686.85 L431.08,691.37 L431.89,696.02 L432.69,700.79 L433.15,703.50" fill="none" stroke="#1eb4ae" stroke-width="2.1" stroke-linejoin="round"/>
<line x1="117.5" y1="445.9" x2="117.5" y2="704.1" stroke="#0d0d0d" stroke-width="1.3"/>
<line x1="437.5" y1="445.9" x2="437.5" y2="704.1" stroke="#0d0d0d" stroke-width="1.3"/>
<line x1="117.5" y1="446.5" x2="437.5" y2="446.5" stroke="#0d0d0d" stroke-width="1.3"/>
<line x1="117.5" y1="703.5" x2="437.5" y2="703.5" stroke="#0d0d0d" stroke-width="1.3"/>
<line x1="117.5" y1="703.5" x2="117.5" y2="708.3" stroke="#0d0d0d" stroke-width="1.1"/>
<text x="117.5" y="729.5" font-size="21.8" text-anchor="middle" fill="#000" >0.0</text>
<line x1="157.5" y1="703.5" x2="157.5" y2="706.1" stroke="#0d0d0d" stroke-width="1.1"/>
<line x1="197.5" y1="703.5" x2="197.5" y2="708.3" stroke="#0d0d0d" stroke-width="1.1"/>
<text x="197.5" y="729.5" font-size="21.8" text-anchor="middle" fill="#000" >0.2</text>
<line x1="237.5" y1="703.5" x2="237.5" y2="706.1" stroke="#0d0d0d" stroke-width="1.1"/>
<line x1="277.5" y1="703.5" x2="277.5" y2="708.3" stroke="#0d0d0d" stroke-width="1.1"/>
<text x="277.5" y="729.5" font-size="21.8" text-anchor="middle" fill="#000" >0.4</text>
<line x1="317.5" y1="703.5" x2="317.5" y2="706.1" stroke="#0d0d0d" stroke-width="1.1"/>
<line x1="357.5" y1="703.5" x2="357.5" y2="708.3" stroke="#0d0d0d" stroke-width="1.1"/>
<text x="357.5" y="729.5" font-size="21.8" text-anchor="middle" fill="#000" >0.6</text>
<line x1="397.5" y1="703.5" x2="397.5" y2="706.1" stroke="#0d0d0d" stroke-width="1.1"/>
<line x1="437.5" y1="703.5" x2="437.5" y2="708.3" stroke="#0d0d0d" stroke-width="1.1"/>
<text x="437.5" y="729.5" font-size="21.8" text-anchor="middle" fill="#000" >0.8</text>
<line x1="117.5" y1="703.5" x2="112.7" y2="703.5" stroke="#0d0d0d" stroke-width="1.1"/>
<text x="110.1" y="710.7" font-size="21.8" text-anchor="end" fill="#000" >0</text>
<line x1="117.5" y1="666.8" x2="114.9" y2="666.8" stroke="#0d0d0d" stroke-width="1.1"/>
<line x1="117.5" y1="630.1" x2="112.7" y2="630.1" stroke="#0d0d0d" stroke-width="1.1"/>
<text x="110.1" y="637.3" font-size="21.8" text-anchor="end" fill="#000" >5</text>
<line x1="117.5" y1="593.4" x2="114.9" y2="593.4" stroke="#0d0d0d" stroke-width="1.1"/>
<line x1="117.5" y1="556.6" x2="112.7" y2="556.6" stroke="#0d0d0d" stroke-width="1.1"/>
<text x="110.1" y="563.8" font-size="21.8" text-anchor="end" fill="#000" >10</text>
<line x1="117.5" y1="519.9" x2="114.9" y2="519.9" stroke="#0d0d0d" stroke-width="1.1"/>
<line x1="117.5" y1="483.2" x2="112.7" y2="483.2" stroke="#0d0d0d" stroke-width="1.1"/>
<text x="110.1" y="490.4" font-size="21.8" text-anchor="end" fill="#000" >15</text>
<line x1="117.5" y1="446.5" x2="114.9" y2="446.5" stroke="#0d0d0d" stroke-width="1.1"/>
<text x="277.8" y="752.8" font-size="22.5" text-anchor="middle" fill="#000" >Voltage (V)</text>
<text x="0.0" y="0.0" font-size="22.1" text-anchor="middle" fill="#000" transform="translate(78.7,572.5) rotate(-90.0)" >Current density (mA cm<tspan font-size="13.7" dy="-8.8">-2</tspan><tspan dy="8.8">&#8203;</tspan>)</text>
<line x1="141" y1="566.0" x2="192.6" y2="566.0" stroke="#15598c" stroke-width="1.9"/>
<text x="198.0" y="573.0" font-size="22.2" text-anchor="start" fill="#000" >Control</text>
<line x1="141" y1="596.1" x2="192.6" y2="596.1" stroke="#e2479d" stroke-width="1.9"/>
<text x="198.0" y="603.1" font-size="22.2" text-anchor="start" fill="#000" >MEA-3</text>
<line x1="141" y1="626.2" x2="192.6" y2="626.2" stroke="#1eb4ae" stroke-width="1.9"/>
<text x="198.0" y="633.2" font-size="22.2" text-anchor="start" fill="#000" >MEA-4</text>
<line x1="141" y1="656.3" x2="192.6" y2="656.3" stroke="#e9726b" stroke-width="1.9"/>
<text x="198.0" y="663.3" font-size="22.2" text-anchor="start" fill="#000" >MEA-5</text>
</g>
<g id="panel-d">
<clipPath id="clipd"><rect x="560.5" y="446.5" width="320.0" height="258.4"/></clipPath>
<g clip-path="url(#clipd)">
<path d="M560.50,703.90 C560.95,703.88 562.29,703.84 563.19,703.77 C564.09,703.70 564.98,703.59 565.88,703.47 C566.77,703.35 567.67,703.21 568.57,703.06 C569.46,702.91 570.36,702.76 571.26,702.58 C572.15,702.40 573.05,702.22 573.95,701.98 C574.84,701.73 575.74,701.43 576.63,701.11 C577.53,700.78 578.43,700.42 579.32,700.04 C580.22,699.67 581.12,699.26 582.01,698.86 C582.91,698.46 583.81,698.04 584.70,697.63 C585.60,697.22 586.49,696.83 587.39,696.41 C588.29,695.99 589.18,695.56 590.08,695.11 C590.98,694.65 591.87,694.18 592.77,693.70 C593.67,693.22 594.56,692.73 595.46,692.23 C596.35,691.72 597.25,691.21 598.15,690.68 C599.04,690.16 599.94,689.64 600.84,689.10 C601.73,688.56 602.63,688.02 603.53,687.46 C604.42,686.90 605.32,686.33 606.21,685.74 C607.11,685.16 608.01,684.56 608.90,683.95 C609.80,683.34 610.70,682.72 611.59,682.08 C612.49,681.45 613.39,680.80 614.28,680.13 C615.18,679.47 616.07,678.79 616.97,678.10 C617.87,677.40 618.76,676.69 619.66,675.96 C620.56,675.23 621.45,674.48 622.35,673.71 C623.25,672.95 624.14,672.17 625.04,671.38 C625.93,670.58 626.83,669.78 627.73,668.95 C628.62,668.13 629.52,667.30 630.42,666.43 C631.31,665.56 632.21,664.66 633.11,663.74 C634.00,662.81 634.90,661.86 635.79,660.90 C636.69,659.94 637.59,658.96 638.48,657.99 C639.38,657.02 640.28,656.04 641.17,655.08 C642.07,654.12 642.96,653.17 643.86,652.24 C644.76,651.31 645.65,650.40 646.55,649.50 C647.45,648.59 648.34,647.71 649.24,646.81 C650.14,645.91 651.03,645.03 651.93,644.12 C652.82,643.22 653.72,642.31 654.62,641.38 C655.51,640.45 656.41,639.51 657.31,638.54 C658.20,637.56 659.10,636.56 660.00,635.54 C660.89,634.52 661.79,633.46 662.68,632.40 C663.58,631.34 664.48,630.26 665.37,629.18 C666.27,628.10 667.17,627.00 668.06,625.92 C668.96,624.84 669.86,623.76 670.75,622.69 C671.65,621.63 672.54,620.59 673.44,619.54 C674.34,618.49 675.23,617.45 676.13,616.41 C677.03,615.36 677.92,614.32 678.82,613.28 C679.72,612.25 680.61,611.21 681.51,610.19 C682.40,609.16 683.30,608.14 684.20,607.14 C685.09,606.13 685.99,605.13 686.89,604.14 C687.78,603.16 688.68,602.20 689.58,601.25 C690.47,600.30 691.37,599.37 692.26,598.44 C693.16,597.51 694.06,596.60 694.95,595.67 C695.85,594.74 696.75,593.82 697.64,592.88 C698.54,591.94 699.44,591.00 700.33,590.03 C701.23,589.06 702.12,588.06 703.02,587.07 C703.92,586.07 704.81,585.05 705.71,584.03 C706.61,583.01 707.50,581.98 708.40,580.95 C709.30,579.92 710.19,578.88 711.09,577.84 C711.98,576.80 712.88,575.76 713.78,574.72 C714.67,573.68 715.57,572.64 716.47,571.60 C717.36,570.55 718.26,569.50 719.16,568.44 C720.05,567.39 720.95,566.33 721.84,565.27 C722.74,564.21 723.64,563.15 724.53,562.10 C725.43,561.04 726.33,559.99 727.22,558.95 C728.12,557.90 729.02,556.87 729.91,555.83 C730.81,554.78 731.70,553.73 732.60,552.69 C733.50,551.64 734.39,550.58 735.29,549.54 C736.19,548.50 737.08,547.46 737.98,546.44 C738.88,545.42 739.77,544.41 740.67,543.43 C741.56,542.44 742.46,541.48 743.36,540.54 C744.25,539.60 745.15,538.70 746.05,537.81 C746.94,536.92 747.84,536.06 748.74,535.21 C749.63,534.35 750.53,533.51 751.42,532.67 C752.32,531.82 753.22,530.99 754.11,530.14 C755.01,529.29 755.91,528.45 756.80,527.57 C757.70,526.70 758.60,525.81 759.49,524.90 C760.39,523.99 761.28,523.03 762.18,522.10 C763.08,521.17 763.97,520.21 764.87,519.31 C765.77,518.40 766.66,517.50 767.56,516.67 C768.46,515.83 769.35,515.06 770.25,514.29 C771.14,513.53 772.04,512.79 772.94,512.07 C773.83,511.36 774.73,510.65 775.63,509.98 C776.52,509.32 777.42,508.67 778.32,508.06 C779.21,507.45 780.11,506.89 781.00,506.34 C781.90,505.79 782.80,505.27 783.69,504.77 C784.59,504.27 785.49,503.78 786.38,503.32 C787.28,502.86 788.18,502.42 789.07,502.01 C789.97,501.60 790.86,501.21 791.76,500.85 C792.66,500.49 793.55,500.16 794.45,499.84 C795.35,499.52 796.24,499.22 797.14,498.93 C798.04,498.64 798.93,498.36 799.83,498.11 C800.72,497.85 801.62,497.60 802.52,497.37 C803.41,497.14 804.31,496.93 805.21,496.71 C806.10,496.50 807.00,496.28 807.89,496.08 C808.79,495.88 809.69,495.68 810.58,495.49 C811.48,495.30 812.38,495.12 813.27,494.96 C814.17,494.80 815.07,494.65 815.96,494.51 C816.86,494.38 817.75,494.28 818.65,494.17 C819.55,494.07 820.44,493.99 821.34,493.90 C822.24,493.82 823.13,493.74 824.03,493.66 C824.93,493.59 825.82,493.52 826.72,493.46 C827.61,493.39 828.51,493.34 829.41,493.28 C830.30,493.23 831.20,493.18 832.10,493.14 C832.99,493.09 833.89,493.06 834.79,493.02 C835.68,492.98 836.58,492.95 837.47,492.91 C838.37,492.88 839.27,492.85 840.16,492.82 C841.06,492.79 841.96,492.76 842.85,492.74 C843.75,492.71 844.65,492.69 845.54,492.66 C846.44,492.64 847.33,492.61 848.23,492.59 C849.13,492.57 850.02,492.54 850.92,492.52 C851.82,492.50 852.71,492.47 853.61,492.45 C854.51,492.43 855.40,492.40 856.30,492.38 C857.19,492.35 858.09,492.32 858.99,492.29 C859.88,492.27 860.78,492.24 861.68,492.21 C862.57,492.18 863.47,492.15 864.37,492.12 C865.26,492.09 866.16,492.07 867.05,492.04 C867.95,492.01 868.85,491.98 869.74,491.95 C870.64,491.92 871.54,491.89 872.43,491.86 C873.33,491.83 874.23,491.81 875.12,491.78 C876.02,491.75 876.91,491.72 877.81,491.69 C878.71,491.66 880.05,491.61 880.50,491.60" fill="none" stroke="#175a8a" stroke-width="2.1" stroke-linejoin="round"/>
<path d="M560.50,703.90 C560.95,703.86 562.29,703.75 563.19,703.63 C564.09,703.52 564.98,703.38 565.88,703.22 C566.77,703.07 567.67,702.89 568.57,702.70 C569.46,702.52 570.36,702.32 571.26,702.10 C572.15,701.88 573.05,701.66 573.95,701.38 C574.84,701.11 575.74,700.78 576.63,700.44 C577.53,700.10 578.43,699.72 579.32,699.33 C580.22,698.94 581.12,698.53 582.01,698.12 C582.91,697.70 583.81,697.28 584.70,696.85 C585.60,696.43 586.49,696.02 587.39,695.59 C588.29,695.15 589.18,694.71 590.08,694.24 C590.98,693.78 591.87,693.30 592.77,692.81 C593.67,692.32 594.56,691.82 595.46,691.30 C596.35,690.79 597.25,690.26 598.15,689.73 C599.04,689.19 599.94,688.65 600.84,688.09 C601.73,687.54 602.63,686.97 603.53,686.39 C604.42,685.82 605.32,685.22 606.21,684.62 C607.11,684.01 608.01,683.39 608.90,682.75 C609.80,682.12 610.70,681.47 611.59,680.80 C612.49,680.14 613.39,679.46 614.28,678.76 C615.18,678.06 616.07,677.35 616.97,676.61 C617.87,675.87 618.76,675.11 619.66,674.33 C620.56,673.55 621.45,672.75 622.35,671.93 C623.25,671.11 624.14,670.28 625.04,669.43 C625.93,668.58 626.83,667.72 627.73,666.84 C628.62,665.97 629.52,665.09 630.42,664.18 C631.31,663.27 632.21,662.33 633.11,661.37 C634.00,660.42 634.90,659.43 635.79,658.44 C636.69,657.45 637.59,656.44 638.48,655.43 C639.38,654.42 640.28,653.40 641.17,652.38 C642.07,651.37 642.96,650.36 643.86,649.34 C644.76,648.33 645.65,647.32 646.55,646.31 C647.45,645.29 648.34,644.26 649.24,643.24 C650.14,642.21 651.03,641.18 651.93,640.14 C652.82,639.10 653.72,638.06 654.62,637.02 C655.51,635.98 656.41,634.93 657.31,633.88 C658.20,632.83 659.10,631.77 660.00,630.71 C660.89,629.65 661.79,628.58 662.68,627.51 C663.58,626.44 664.48,625.36 665.37,624.29 C666.27,623.21 667.17,622.13 668.06,621.05 C668.96,619.98 669.86,618.90 670.75,617.83 C671.65,616.75 672.54,615.69 673.44,614.62 C674.34,613.55 675.23,612.49 676.13,611.42 C677.03,610.36 677.92,609.29 678.82,608.23 C679.72,607.17 680.61,606.10 681.51,605.04 C682.40,603.98 683.30,602.92 684.20,601.85 C685.09,600.79 685.99,599.72 686.89,598.66 C687.78,597.60 688.68,596.53 689.58,595.47 C690.47,594.40 691.37,593.34 692.26,592.27 C693.16,591.21 694.06,590.15 694.95,589.08 C695.85,588.02 696.75,586.95 697.64,585.88 C698.54,584.82 699.44,583.75 700.33,582.68 C701.23,581.62 702.12,580.55 703.02,579.47 C703.92,578.40 704.81,577.33 705.71,576.26 C706.61,575.18 707.50,574.11 708.40,573.03 C709.30,571.95 710.19,570.88 711.09,569.80 C711.98,568.72 712.88,567.65 713.78,566.57 C714.67,565.49 715.57,564.42 716.47,563.34 C717.36,562.26 718.26,561.17 719.16,560.09 C720.05,559.01 720.95,557.92 721.84,556.84 C722.74,555.75 723.64,554.67 724.53,553.60 C725.43,552.52 726.33,551.45 727.22,550.39 C728.12,549.33 729.02,548.28 729.91,547.24 C730.81,546.19 731.70,545.15 732.60,544.12 C733.50,543.08 734.39,542.05 735.29,541.03 C736.19,540.00 737.08,538.98 737.98,537.97 C738.88,536.95 739.77,535.94 740.67,534.94 C741.56,533.94 742.46,532.94 743.36,531.95 C744.25,530.96 745.15,529.98 746.05,529.01 C746.94,528.04 747.84,527.09 748.74,526.14 C749.63,525.19 750.53,524.25 751.42,523.31 C752.32,522.36 753.22,521.42 754.11,520.47 C755.01,519.52 755.91,518.57 756.80,517.59 C757.70,516.61 758.60,515.62 759.49,514.60 C760.39,513.57 761.28,512.50 762.18,511.45 C763.08,510.40 763.97,509.32 764.87,508.30 C765.77,507.27 766.66,506.25 767.56,505.29 C768.46,504.34 769.35,503.45 770.25,502.58 C771.14,501.70 772.04,500.86 772.94,500.04 C773.83,499.22 774.73,498.42 775.63,497.65 C776.52,496.88 777.42,496.13 778.32,495.41 C779.21,494.69 780.11,494.00 781.00,493.32 C781.90,492.65 782.80,491.99 783.69,491.36 C784.59,490.73 785.49,490.11 786.38,489.54 C787.28,488.97 788.18,488.44 789.07,487.93 C789.97,487.43 790.86,486.98 791.76,486.53 C792.66,486.07 793.55,485.64 794.45,485.23 C795.35,484.81 796.24,484.42 797.14,484.05 C798.04,483.69 798.93,483.34 799.83,483.03 C800.72,482.71 801.62,482.43 802.52,482.16 C803.41,481.88 804.31,481.63 805.21,481.39 C806.10,481.14 807.00,480.91 807.89,480.70 C808.79,480.48 809.69,480.28 810.58,480.10 C811.48,479.91 812.38,479.74 813.27,479.58 C814.17,479.41 815.07,479.25 815.96,479.09 C816.86,478.94 817.75,478.79 818.65,478.65 C819.55,478.52 820.44,478.39 821.34,478.28 C822.24,478.17 823.13,478.09 824.03,478.01 C824.93,477.94 825.82,477.89 826.72,477.84 C827.61,477.79 828.51,477.74 829.41,477.70 C830.30,477.66 831.20,477.63 832.10,477.59 C832.99,477.56 833.89,477.52 834.79,477.49 C835.68,477.45 836.58,477.41 837.47,477.36 C838.37,477.31 839.27,477.26 840.16,477.20 C841.06,477.15 841.96,477.08 842.85,477.02 C843.75,476.95 844.65,476.88 845.54,476.81 C846.44,476.74 847.33,476.67 848.23,476.59 C849.13,476.52 850.02,476.45 850.92,476.37 C851.82,476.30 852.71,476.23 853.61,476.16 C854.51,476.09 855.40,476.03 856.30,475.96 C857.19,475.90 858.09,475.84 858.99,475.79 C859.88,475.73 860.78,475.68 861.68,475.63 C862.57,475.58 863.47,475.53 864.37,475.48 C865.26,475.42 866.16,475.38 867.05,475.33 C867.95,475.28 868.85,475.23 869.74,475.19 C870.64,475.14 871.54,475.10 872.43,475.05 C873.33,475.01 874.23,474.97 875.12,474.93 C876.02,474.89 876.91,474.85 877.81,474.81 C878.71,474.77 880.05,474.72 880.50,474.70" fill="none" stroke="#2db3b0" stroke-width="2.1" stroke-linejoin="round"/>
<path d="M560.40,548.30 C561.31,548.11 564.25,547.63 565.88,547.15 C567.52,546.67 568.77,546.31 570.22,545.42 C571.66,544.52 573.10,543.25 574.55,541.81 C575.99,540.36 577.20,538.44 578.88,536.75 C580.57,535.07 582.49,533.26 584.66,531.70 C586.82,530.13 589.47,528.57 591.88,527.36 C594.28,526.16 596.45,525.08 599.10,524.48 C601.74,523.87 604.39,523.92 607.76,523.75 C611.13,523.59 615.94,524.07 619.31,523.47 C622.68,522.86 625.09,521.78 627.98,520.14 C630.87,518.51 633.75,516.05 636.64,513.65 C639.53,511.24 642.42,508.23 645.31,505.70 C648.19,503.18 651.32,500.53 653.97,498.48 C656.62,496.44 659.03,494.56 661.19,493.43 C663.36,492.30 665.04,491.94 666.97,491.70 C668.89,491.46 671.06,491.34 672.74,491.99 C674.43,492.64 675.39,494.03 677.08,495.60 C678.76,497.16 680.69,499.33 682.85,501.37 C685.02,503.42 687.67,505.87 690.07,507.87 C692.48,509.87 693.71,512.27 697.29,513.36 C700.87,514.44 707.97,513.72 711.55,514.37 C715.13,515.02 716.37,515.81 718.77,517.26 C721.18,518.70 723.59,521.23 725.99,523.03 C728.40,524.84 730.81,526.76 733.21,528.09 C735.62,529.41 738.27,530.13 740.43,530.97 C742.60,531.82 744.28,532.13 746.21,533.14 C748.13,534.15 750.06,535.23 751.99,537.04 C753.91,538.84 755.84,540.65 757.76,543.97 C759.69,547.29 761.61,552.39 763.54,556.97 C765.46,561.54 767.39,566.35 769.31,571.41 C771.24,576.46 773.60,583.45 775.09,587.29 C776.58,591.13 776.90,590.96 778.27,594.44 C779.64,597.92 780.79,601.18 783.32,608.16 C785.85,615.14 790.30,627.82 793.43,636.32 C796.56,644.81 799.21,652.27 802.09,659.13 C804.98,665.99 808.11,672.56 810.76,677.47 C813.41,682.38 815.33,685.44 817.98,688.59 C820.63,691.74 823.75,694.44 826.64,696.39 C829.53,698.34 831.94,699.35 835.31,700.29 C838.68,701.23 842.29,701.61 846.86,702.02 C851.43,702.43 857.21,702.58 862.74,702.74 C868.28,702.91 877.18,702.98 880.07,703.03" fill="none" stroke="#175a8a" stroke-width="2.1" stroke-linejoin="round"/>
<path d="M560.40,547.58 C561.31,547.34 564.01,546.86 565.88,546.14 C567.76,545.42 569.74,544.93 571.66,543.25 C573.59,541.56 575.51,538.19 577.44,536.03 C579.36,533.86 580.81,532.06 583.21,530.25 C585.62,528.45 589.23,526.69 591.88,525.20 C594.52,523.71 596.45,522.74 599.10,521.30 C601.74,519.86 604.39,518.29 607.76,516.53 C611.13,514.78 615.94,512.44 619.31,510.76 C622.68,509.07 625.09,508.11 627.98,506.43 C630.87,504.74 633.75,503.06 636.64,500.65 C639.53,498.24 642.42,494.99 645.31,491.99 C648.19,488.98 651.56,484.89 653.97,482.60 C656.38,480.31 657.82,479.35 659.75,478.27 C661.67,477.18 663.60,476.34 665.52,476.10 C667.45,475.86 669.37,476.34 671.30,476.82 C673.23,477.30 675.15,477.55 677.08,478.99 C679.00,480.43 680.93,483.20 682.85,485.49 C684.78,487.77 686.46,490.42 688.63,492.71 C690.79,494.99 693.47,497.52 695.85,499.21 C698.23,500.89 700.75,501.85 702.89,502.82 C705.02,503.78 706.26,504.43 708.66,504.98 C711.07,505.54 713.96,505.42 717.33,506.14 C720.70,506.86 725.51,508.06 728.88,509.31 C732.25,510.57 734.66,511.72 737.55,513.65 C740.43,515.57 743.32,518.10 746.21,520.87 C749.10,523.63 752.47,527.12 754.87,530.25 C757.28,533.38 758.72,536.15 760.65,539.64 C762.58,543.13 764.50,546.62 766.43,551.19 C768.35,555.76 770.28,561.54 772.20,567.08 C774.13,572.61 775.98,577.56 777.98,584.40 C779.98,591.25 781.52,599.51 784.19,608.16 C786.86,616.81 790.93,627.82 794.01,636.32 C797.09,644.81 799.83,652.27 802.67,659.13 C805.51,665.99 808.45,672.56 811.05,677.47 C813.65,682.38 815.62,685.44 818.27,688.59 C820.91,691.74 824.04,694.44 826.93,696.39 C829.82,698.34 832.27,699.35 835.60,700.29 C838.92,701.23 842.33,701.61 846.86,702.02 C851.38,702.43 857.21,702.58 862.74,702.74 C868.28,702.91 877.18,702.98 880.07,703.03" fill="none" stroke="#2db3b0" stroke-width="2.1" stroke-linejoin="round"/>
</g>
<line x1="560.5" y1="445.9" x2="560.5" y2="704.5" stroke="#0d0d0d" stroke-width="1.3"/>
<line x1="880.5" y1="445.9" x2="880.5" y2="704.5" stroke="#0d0d0d" stroke-width="1.3"/>
<line x1="560.5" y1="446.5" x2="880.5" y2="446.5" stroke="#0d0d0d" stroke-width="1.3"/>
<line x1="560.5" y1="703.9" x2="880.5" y2="703.9" stroke="#0d0d0d" stroke-width="1.3"/>
<line x1="583.4" y1="703.9" x2="583.4" y2="708.7" stroke="#0d0d0d" stroke-width="1.1"/>
<text x="583.4" y="729.3" font-size="21.8" text-anchor="middle" fill="#000" >400</text>
<line x1="616.4" y1="703.9" x2="616.4" y2="706.5" stroke="#0d0d0d" stroke-width="1.1"/>
<line x1="649.4" y1="703.9" x2="649.4" y2="708.7" stroke="#0d0d0d" stroke-width="1.1"/>
<text x="649.4" y="729.3" font-size="21.8" text-anchor="middle" fill="#000" >500</text>
<line x1="682.3" y1="703.9" x2="682.3" y2="706.5" stroke="#0d0d0d" stroke-width="1.1"/>
<line x1="715.3" y1="703.9" x2="715.3" y2="708.7" stroke="#0d0d0d" stroke-width="1.1"/>
<text x="715.3" y="729.3" font-size="21.8" text-anchor="middle" fill="#000" >600</text>
<line x1="748.3" y1="703.9" x2="748.3" y2="706.5" stroke="#0d0d0d" stroke-width="1.1"/>
<line x1="781.2" y1="703.9" x2="781.2" y2="708.7" stroke="#0d0d0d" stroke-width="1.1"/>
<text x="781.2" y="729.3" font-size="21.8" text-anchor="middle" fill="#000" >700</text>
<line x1="814.2" y1="703.9" x2="814.2" y2="706.5" stroke="#0d0d0d" stroke-width="1.1"/>
<line x1="847.2" y1="703.9" x2="847.2" y2="708.7" stroke="#0d0d0d" stroke-width="1.1"/>
<text x="847.2" y="729.3" font-size="21.8" text-anchor="middle" fill="#000" >800</text>
<line x1="880.2" y1="703.9" x2="880.2" y2="706.5" stroke="#0d0d0d" stroke-width="1.1"/>
<line x1="560.5" y1="703.9" x2="555.7" y2="703.9" stroke="#0d0d0d" stroke-width="1.1"/>
<text x="551.0" y="710.6" font-size="21.8" text-anchor="end" fill="#000" >0</text>
<line x1="560.5" y1="678.2" x2="557.9" y2="678.2" stroke="#0d0d0d" stroke-width="1.1"/>
<line x1="560.5" y1="652.4" x2="555.7" y2="652.4" stroke="#0d0d0d" stroke-width="1.1"/>
<text x="551.0" y="659.1" font-size="21.8" text-anchor="end" fill="#000" >20</text>
<line x1="560.5" y1="626.7" x2="557.9" y2="626.7" stroke="#0d0d0d" stroke-width="1.1"/>
<line x1="560.5" y1="600.9" x2="555.7" y2="600.9" stroke="#0d0d0d" stroke-width="1.1"/>
<text x="551.0" y="607.6" font-size="21.8" text-anchor="end" fill="#000" >40</text>
<line x1="560.5" y1="575.2" x2="557.9" y2="575.2" stroke="#0d0d0d" stroke-width="1.1"/>
<line x1="560.5" y1="549.5" x2="555.7" y2="549.5" stroke="#0d0d0d" stroke-width="1.1"/>
<text x="551.0" y="556.2" font-size="21.8" text-anchor="end" fill="#000" >60</text>
<line x1="560.5" y1="523.7" x2="557.9" y2="523.7" stroke="#0d0d0d" stroke-width="1.1"/>
<line x1="560.5" y1="498.0" x2="555.7" y2="498.0" stroke="#0d0d0d" stroke-width="1.1"/>
<text x="551.0" y="504.7" font-size="21.8" text-anchor="end" fill="#000" >80</text>
<line x1="560.5" y1="472.2" x2="557.9" y2="472.2" stroke="#0d0d0d" stroke-width="1.1"/>
<line x1="560.5" y1="446.5" x2="555.7" y2="446.5" stroke="#0d0d0d" stroke-width="1.1"/>
<text x="551.0" y="453.2" font-size="21.8" text-anchor="end" fill="#000" >100</text>
<line x1="880.5" y1="703.9" x2="885.3" y2="703.9" stroke="#0d0d0d" stroke-width="1.1"/>
<text x="889.6" y="711.2" font-size="21.8" text-anchor="start" fill="#000" >0</text>
<line x1="880.5" y1="675.3" x2="883.1" y2="675.3" stroke="#0d0d0d" stroke-width="1.1"/>
<line x1="880.5" y1="646.7" x2="885.3" y2="646.7" stroke="#0d0d0d" stroke-width="1.1"/>
<text x="889.6" y="654.0" font-size="21.8" text-anchor="start" fill="#000" >4</text>
<line x1="880.5" y1="618.1" x2="883.1" y2="618.1" stroke="#0d0d0d" stroke-width="1.1"/>
<line x1="880.5" y1="589.5" x2="885.3" y2="589.5" stroke="#0d0d0d" stroke-width="1.1"/>
<text x="889.6" y="596.8" font-size="21.8" text-anchor="start" fill="#000" >8</text>
<line x1="880.5" y1="560.9" x2="883.1" y2="560.9" stroke="#0d0d0d" stroke-width="1.1"/>
<line x1="880.5" y1="532.3" x2="885.3" y2="532.3" stroke="#0d0d0d" stroke-width="1.1"/>
<text x="889.6" y="539.6" font-size="21.8" text-anchor="start" fill="#000" >12</text>
<line x1="880.5" y1="503.7" x2="883.1" y2="503.7" stroke="#0d0d0d" stroke-width="1.1"/>
<line x1="880.5" y1="475.1" x2="885.3" y2="475.1" stroke="#0d0d0d" stroke-width="1.1"/>
<text x="889.6" y="482.4" font-size="21.8" text-anchor="start" fill="#000" >16</text>
<line x1="880.5" y1="446.5" x2="883.1" y2="446.5" stroke="#0d0d0d" stroke-width="1.1"/>
<text x="720.0" y="752.8" font-size="22.5" text-anchor="middle" fill="#000" >Wavelength (nm)</text>
<text x="0.0" y="0.0" font-size="22.5" text-anchor="middle" fill="#000" transform="translate(503.8,574.0) rotate(-90.0)" >EQE (%)</text>
<text x="0.0" y="0.0" font-size="22.5" text-anchor="middle" fill="#000" transform="translate(933.5,570.9) rotate(-90.0)" >Integrated <tspan font-style="italic">J</tspan><tspan font-size="14.9" dy="5.6">SC</tspan><tspan dy="-5.6">&#8203;</tspan> (mA cm<tspan font-size="13.9" dy="-9.0">-2</tspan><tspan dy="9.0">&#8203;</tspan>)</text>
<line x1="656" y1="651.8" x2="707.4" y2="651.8" stroke="#175a8a" stroke-width="1.9"/>
<text x="713.2" y="658.5" font-size="22.2" text-anchor="start" fill="#000" >Control</text>
<line x1="656" y1="679.6" x2="707.4" y2="679.6" stroke="#2db3b0" stroke-width="1.9"/>
<text x="713.2" y="686.3" font-size="22.2" text-anchor="start" fill="#000" >MEA-4</text>
<ellipse cx="646.5" cy="497.3" rx="7" ry="12.3" fill="none" stroke="#111" stroke-width="1.1"/>
<line x1="614" y1="489.6" x2="636.6" y2="489.6" stroke="#111" stroke-width="1.1"/>
<polygon points="611.5,489.6 618.0,488.0 618.0,491.2" fill="#111" />
<ellipse cx="840.1" cy="485.9" rx="7" ry="12.5" fill="none" stroke="#111" stroke-width="1.1"/>
<line x1="850.2" y1="485.5" x2="873" y2="485.5" stroke="#111" stroke-width="1.1"/>
<polygon points="875.8,485.5 869.3,483.9 869.3,487.1" fill="#111" />
</g>
<g id="panel-e">
<g stroke="#12639b" stroke-width="1.65" fill="none">
<line x1="1047.5" y1="597.0" x2="1047.5" y2="606.0"/>
<line x1="1047.5" y1="626.8" x2="1047.5" y2="649.7"/>
<line x1="1041.3" y1="597.0" x2="1053.8" y2="597.0"/>
<line x1="1041.3" y1="649.7" x2="1053.8" y2="649.7"/>
<rect x="1034.8" y="606.0" width="25.5" height="20.8"/>
<line x1="1034.8" y1="616.7" x2="1060.3" y2="616.7"/>
<rect x="1045.8" y="617.0" width="3.4" height="3.4" stroke-width="0.9" fill="#fff"/>
</g>
<circle cx="1074.4" cy="603.8" r="2.9" fill="#12639b"/>
<circle cx="1073.9" cy="603.3" r="1.15" fill="#5aa5d8"/>
<circle cx="1073.0" cy="623.7" r="2.9" fill="#12639b"/>
<circle cx="1072.5" cy="623.2" r="1.15" fill="#5aa5d8"/>
<circle cx="1066.7" cy="602.5" r="2.9" fill="#12639b"/>
<circle cx="1066.2" cy="602.0" r="1.15" fill="#5aa5d8"/>
<circle cx="1074.3" cy="618.2" r="2.9" fill="#12639b"/>
<circle cx="1073.8" cy="617.7" r="1.15" fill="#5aa5d8"/>
<circle cx="1070.0" cy="638.0" r="2.9" fill="#12639b"/>
<circle cx="1069.5" cy="637.5" r="1.15" fill="#5aa5d8"/>
<circle cx="1065.5" cy="631.2" r="2.9" fill="#12639b"/>
<circle cx="1065.0" cy="630.7" r="1.15" fill="#5aa5d8"/>
<circle cx="1076.5" cy="615.4" r="2.9" fill="#12639b"/>
<circle cx="1076.0" cy="614.9" r="1.15" fill="#5aa5d8"/>
<circle cx="1065.3" cy="613.6" r="2.9" fill="#12639b"/>
<circle cx="1064.8" cy="613.1" r="1.15" fill="#5aa5d8"/>
<circle cx="1074.1" cy="614.2" r="2.9" fill="#12639b"/>
<circle cx="1073.6" cy="613.7" r="1.15" fill="#5aa5d8"/>
<circle cx="1068.8" cy="626.5" r="2.9" fill="#12639b"/>
<circle cx="1068.3" cy="626.0" r="1.15" fill="#5aa5d8"/>
<circle cx="1065.5" cy="621.9" r="2.9" fill="#12639b"/>
<circle cx="1065.0" cy="621.4" r="1.15" fill="#5aa5d8"/>
<circle cx="1074.7" cy="609.7" r="2.9" fill="#12639b"/>
<circle cx="1074.2" cy="609.2" r="1.15" fill="#5aa5d8"/>
<circle cx="1071.1" cy="607.7" r="2.9" fill="#12639b"/>
<circle cx="1070.6" cy="607.2" r="1.15" fill="#5aa5d8"/>
<circle cx="1080.7" cy="611.4" r="2.9" fill="#12639b"/>
<circle cx="1080.2" cy="610.9" r="1.15" fill="#5aa5d8"/>
<circle cx="1069.4" cy="629.5" r="2.9" fill="#12639b"/>
<circle cx="1068.9" cy="629.0" r="1.15" fill="#5aa5d8"/>
<circle cx="1078.9" cy="617.8" r="2.9" fill="#12639b"/>
<circle cx="1078.4" cy="617.3" r="1.15" fill="#5aa5d8"/>
<circle cx="1080.4" cy="626.0" r="2.9" fill="#12639b"/>
<circle cx="1079.9" cy="625.5" r="1.15" fill="#5aa5d8"/>
<circle cx="1065.7" cy="639.4" r="2.9" fill="#12639b"/>
<circle cx="1065.2" cy="638.9" r="1.15" fill="#5aa5d8"/>
<circle cx="1069.2" cy="614.3" r="2.9" fill="#12639b"/>
<circle cx="1068.7" cy="613.8" r="1.15" fill="#5aa5d8"/>
<circle cx="1079.1" cy="622.5" r="2.9" fill="#12639b"/>
<circle cx="1078.6" cy="622.0" r="1.15" fill="#5aa5d8"/>
<circle cx="1068.2" cy="621.6" r="2.9" fill="#12639b"/>
<circle cx="1067.7" cy="621.1" r="1.15" fill="#5aa5d8"/>
<circle cx="1067.3" cy="606.4" r="2.9" fill="#12639b"/>
<circle cx="1066.8" cy="605.9" r="1.15" fill="#5aa5d8"/>
<circle cx="1070.0" cy="632.1" r="2.9" fill="#12639b"/>
<circle cx="1069.5" cy="631.6" r="1.15" fill="#5aa5d8"/>
<circle cx="1082.4" cy="621.3" r="2.9" fill="#12639b"/>
<circle cx="1081.9" cy="620.8" r="1.15" fill="#5aa5d8"/>
<circle cx="1076.6" cy="628.6" r="2.9" fill="#12639b"/>
<circle cx="1076.1" cy="628.1" r="1.15" fill="#5aa5d8"/>
<circle cx="1068.2" cy="610.4" r="2.9" fill="#12639b"/>
<circle cx="1067.7" cy="609.9" r="1.15" fill="#5aa5d8"/>
<circle cx="1066.5" cy="643.3" r="2.9" fill="#12639b"/>
<circle cx="1066.0" cy="642.8" r="1.15" fill="#5aa5d8"/>
<circle cx="1066.6" cy="617.6" r="2.9" fill="#12639b"/>
<circle cx="1066.1" cy="617.1" r="1.15" fill="#5aa5d8"/>
<circle cx="1071.8" cy="619.7" r="2.9" fill="#12639b"/>
<circle cx="1071.3" cy="619.2" r="1.15" fill="#5aa5d8"/>
<circle cx="1080.3" cy="615.4" r="2.9" fill="#12639b"/>
<circle cx="1079.8" cy="614.9" r="1.15" fill="#5aa5d8"/>
<circle cx="1065.7" cy="597.0" r="2.9" fill="#12639b"/>
<circle cx="1065.2" cy="596.5" r="1.15" fill="#5aa5d8"/>
<circle cx="1065.7" cy="649.7" r="2.9" fill="#12639b"/>
<circle cx="1065.2" cy="649.2" r="1.15" fill="#5aa5d8"/>
<path d="M1064.2,567.9 L1064.24,567.90 L1064.26,569.58 L1064.29,571.27 L1064.33,572.95 L1064.39,574.63 L1064.47,576.32 L1064.57,578.00 L1064.71,579.68 L1064.89,581.36 L1065.13,583.05 L1065.42,584.73 L1065.79,586.41 L1066.24,588.10 L1066.79,589.78 L1067.44,591.46 L1068.20,593.15 L1069.08,594.83 L1070.06,596.51 L1071.16,598.19 L1072.34,599.88 L1073.61,601.56 L1074.93,603.24 L1076.27,604.93 L1077.59,606.61 L1078.87,608.29 L1080.06,609.98 L1081.12,611.66 L1082.01,613.34 L1082.70,615.03 L1083.16,616.71 L1083.38,618.39 L1083.35,620.07 L1083.06,621.76 L1082.53,623.44 L1081.78,625.12 L1080.84,626.81 L1079.74,628.49 L1078.53,630.17 L1077.23,631.86 L1075.89,633.54 L1074.56,635.22 L1073.25,636.91 L1072.01,638.59 L1070.84,640.27 L1069.78,641.95 L1068.82,643.64 L1067.98,645.32 L1067.25,647.00 L1066.63,648.69 L1066.11,650.37 L1065.68,652.05 L1065.33,653.74 L1065.06,655.42 L1064.84,657.10 L1064.67,658.78 L1064.54,660.47 L1064.44,662.15 L1064.37,663.83 L1064.32,665.52 L1064.28,667.20" fill="none" stroke="#12639b" stroke-width="1.55"/>
<g stroke="#e8429e" stroke-width="1.65" fill="none">
<line x1="1127.5" y1="546.8" x2="1127.5" y2="558.0"/>
<line x1="1127.5" y1="582.9" x2="1127.5" y2="613.1"/>
<line x1="1121.3" y1="546.8" x2="1133.8" y2="546.8"/>
<line x1="1121.3" y1="613.1" x2="1133.8" y2="613.1"/>
<rect x="1114.8" y="558.0" width="25.5" height="24.9"/>
<line x1="1114.8" y1="570.3" x2="1140.3" y2="570.3"/>
<rect x="1125.8" y="571.8" width="3.4" height="3.4" stroke-width="0.9" fill="#fff"/>
</g>
<circle cx="1161.2" cy="575.1" r="2.9" fill="#e8429e"/>
<circle cx="1160.7" cy="574.6" r="1.15" fill="#f79ccd"/>
<circle cx="1158.4" cy="579.5" r="2.9" fill="#e8429e"/>
<circle cx="1157.9" cy="579.0" r="1.15" fill="#f79ccd"/>
<circle cx="1158.5" cy="571.5" r="2.9" fill="#e8429e"/>
<circle cx="1158.0" cy="571.0" r="1.15" fill="#f79ccd"/>
<circle cx="1157.5" cy="583.7" r="2.9" fill="#e8429e"/>
<circle cx="1157.0" cy="583.2" r="1.15" fill="#f79ccd"/>
<circle cx="1146.1" cy="606.5" r="2.9" fill="#e8429e"/>
<circle cx="1145.6" cy="606.0" r="1.15" fill="#f79ccd"/>
<circle cx="1145.7" cy="565.3" r="2.9" fill="#e8429e"/>
<circle cx="1145.2" cy="564.8" r="1.15" fill="#f79ccd"/>
<circle cx="1149.7" cy="573.2" r="2.9" fill="#e8429e"/>
<circle cx="1149.2" cy="572.7" r="1.15" fill="#f79ccd"/>
<circle cx="1150.8" cy="595.1" r="2.9" fill="#e8429e"/>
<circle cx="1150.3" cy="594.6" r="1.15" fill="#f79ccd"/>
<circle cx="1147.7" cy="561.1" r="2.9" fill="#e8429e"/>
<circle cx="1147.2" cy="560.6" r="1.15" fill="#f79ccd"/>
<circle cx="1157.0" cy="564.3" r="2.9" fill="#e8429e"/>
<circle cx="1156.5" cy="563.8" r="1.15" fill="#f79ccd"/>
<circle cx="1153.6" cy="581.4" r="2.9" fill="#e8429e"/>
<circle cx="1153.1" cy="580.9" r="1.15" fill="#f79ccd"/>
<circle cx="1159.5" cy="562.3" r="2.9" fill="#e8429e"/>
<circle cx="1159.0" cy="561.8" r="1.15" fill="#f79ccd"/>
<circle cx="1151.4" cy="583.4" r="2.9" fill="#e8429e"/>
<circle cx="1150.9" cy="582.9" r="1.15" fill="#f79ccd"/>
<circle cx="1146.1" cy="572.7" r="2.9" fill="#e8429e"/>
<circle cx="1145.6" cy="572.2" r="1.15" fill="#f79ccd"/>
<circle cx="1154.7" cy="578.0" r="2.9" fill="#e8429e"/>
<circle cx="1154.2" cy="577.5" r="1.15" fill="#f79ccd"/>
<circle cx="1146.8" cy="584.5" r="2.9" fill="#e8429e"/>
<circle cx="1146.3" cy="584.0" r="1.15" fill="#f79ccd"/>
<circle cx="1153.6" cy="550.9" r="2.9" fill="#e8429e"/>
<circle cx="1153.1" cy="550.4" r="1.15" fill="#f79ccd"/>
<circle cx="1145.4" cy="552.8" r="2.9" fill="#e8429e"/>
<circle cx="1144.9" cy="552.3" r="1.15" fill="#f79ccd"/>
<circle cx="1149.0" cy="592.8" r="2.9" fill="#e8429e"/>
<circle cx="1148.5" cy="592.3" r="1.15" fill="#f79ccd"/>
<circle cx="1158.1" cy="574.4" r="2.9" fill="#e8429e"/>
<circle cx="1157.6" cy="573.9" r="1.15" fill="#f79ccd"/>
<circle cx="1145.5" cy="547.2" r="2.9" fill="#e8429e"/>
<circle cx="1145.0" cy="546.7" r="1.15" fill="#f79ccd"/>
<circle cx="1151.2" cy="547.8" r="2.9" fill="#e8429e"/>
<circle cx="1150.7" cy="547.3" r="1.15" fill="#f79ccd"/>
<circle cx="1156.9" cy="557.8" r="2.9" fill="#e8429e"/>
<circle cx="1156.4" cy="557.3" r="1.15" fill="#f79ccd"/>
<circle cx="1153.9" cy="590.0" r="2.9" fill="#e8429e"/>
<circle cx="1153.4" cy="589.5" r="1.15" fill="#f79ccd"/>
<circle cx="1153.8" cy="561.0" r="2.9" fill="#e8429e"/>
<circle cx="1153.3" cy="560.5" r="1.15" fill="#f79ccd"/>
<circle cx="1152.3" cy="556.6" r="2.9" fill="#e8429e"/>
<circle cx="1151.8" cy="556.1" r="1.15" fill="#f79ccd"/>
<circle cx="1153.6" cy="567.8" r="2.9" fill="#e8429e"/>
<circle cx="1153.1" cy="567.3" r="1.15" fill="#f79ccd"/>
<circle cx="1153.9" cy="574.4" r="2.9" fill="#e8429e"/>
<circle cx="1153.4" cy="573.9" r="1.15" fill="#f79ccd"/>
<circle cx="1145.2" cy="581.7" r="2.9" fill="#e8429e"/>
<circle cx="1144.7" cy="581.2" r="1.15" fill="#f79ccd"/>
<circle cx="1150.2" cy="565.9" r="2.9" fill="#e8429e"/>
<circle cx="1149.7" cy="565.4" r="1.15" fill="#f79ccd"/>
<circle cx="1145.7" cy="546.8" r="2.9" fill="#e8429e"/>
<circle cx="1145.2" cy="546.3" r="1.15" fill="#f79ccd"/>
<circle cx="1145.7" cy="613.1" r="2.9" fill="#e8429e"/>
<circle cx="1145.2" cy="612.6" r="1.15" fill="#f79ccd"/>
<path d="M1144.2,512.5 L1144.28,512.50 L1144.31,514.55 L1144.37,516.60 L1144.43,518.65 L1144.53,520.70 L1144.65,522.75 L1144.82,524.81 L1145.03,526.86 L1145.30,528.91 L1145.63,530.96 L1146.05,533.01 L1146.56,535.06 L1147.17,537.11 L1147.89,539.16 L1148.71,541.21 L1149.66,543.26 L1150.71,545.31 L1151.86,547.36 L1153.09,549.42 L1154.39,551.47 L1155.73,553.52 L1157.06,555.57 L1158.37,557.62 L1159.59,559.67 L1160.71,561.72 L1161.67,563.77 L1162.45,565.82 L1163.01,567.87 L1163.32,569.92 L1163.39,571.97 L1163.21,574.03 L1162.78,576.08 L1162.11,578.13 L1161.25,580.18 L1160.21,582.23 L1159.04,584.28 L1157.77,586.33 L1156.45,588.38 L1155.11,590.43 L1153.78,592.48 L1152.51,594.53 L1151.31,596.58 L1150.21,598.64 L1149.21,600.69 L1148.32,602.74 L1147.54,604.79 L1146.88,606.84 L1146.31,608.89 L1145.85,610.94 L1145.47,612.99 L1145.16,615.04 L1144.92,617.09 L1144.73,619.14 L1144.59,621.19 L1144.48,623.25 L1144.40,625.30 L1144.34,627.35 L1144.30,629.40 L1144.27,631.45 L1144.24,633.50" fill="none" stroke="#e8429e" stroke-width="1.55"/>
<g stroke="#16b7b3" stroke-width="1.65" fill="none">
<line x1="1207.5" y1="512.9" x2="1207.5" y2="532.4"/>
<line x1="1207.5" y1="550.8" x2="1207.5" y2="578.0"/>
<line x1="1201.3" y1="512.9" x2="1213.8" y2="512.9"/>
<line x1="1201.3" y1="578.0" x2="1213.8" y2="578.0"/>
<rect x="1194.8" y="532.4" width="25.5" height="18.4"/>
<line x1="1194.8" y1="539.2" x2="1220.3" y2="539.2"/>
<rect x="1205.8" y="540.2" width="3.4" height="3.4" stroke-width="0.9" fill="#fff"/>
</g>
<circle cx="1228.0" cy="534.5" r="2.9" fill="#16b7b3"/>
<circle cx="1227.5" cy="534.0" r="1.15" fill="#86e4e0"/>
<circle cx="1239.3" cy="530.7" r="2.9" fill="#16b7b3"/>
<circle cx="1238.8" cy="530.2" r="1.15" fill="#86e4e0"/>
<circle cx="1229.3" cy="527.1" r="2.9" fill="#16b7b3"/>
<circle cx="1228.8" cy="526.6" r="1.15" fill="#86e4e0"/>
<circle cx="1232.5" cy="534.0" r="2.9" fill="#16b7b3"/>
<circle cx="1232.0" cy="533.5" r="1.15" fill="#86e4e0"/>
<circle cx="1227.0" cy="559.2" r="2.9" fill="#16b7b3"/>
<circle cx="1226.5" cy="558.7" r="1.15" fill="#86e4e0"/>
<circle cx="1231.9" cy="525.3" r="2.9" fill="#16b7b3"/>
<circle cx="1231.4" cy="524.8" r="1.15" fill="#86e4e0"/>
<circle cx="1238.9" cy="543.9" r="2.9" fill="#16b7b3"/>
<circle cx="1238.4" cy="543.4" r="1.15" fill="#86e4e0"/>
<circle cx="1237.5" cy="549.0" r="2.9" fill="#16b7b3"/>
<circle cx="1237.0" cy="548.5" r="1.15" fill="#86e4e0"/>
<circle cx="1227.7" cy="522.6" r="2.9" fill="#16b7b3"/>
<circle cx="1227.2" cy="522.1" r="1.15" fill="#86e4e0"/>
<circle cx="1229.5" cy="544.4" r="2.9" fill="#16b7b3"/>
<circle cx="1229.0" cy="543.9" r="1.15" fill="#86e4e0"/>
<circle cx="1227.7" cy="549.5" r="2.9" fill="#16b7b3"/>
<circle cx="1227.2" cy="549.0" r="1.15" fill="#86e4e0"/>
<circle cx="1228.4" cy="556.0" r="2.9" fill="#16b7b3"/>
<circle cx="1227.9" cy="555.5" r="1.15" fill="#86e4e0"/>
<circle cx="1240.6" cy="540.7" r="2.9" fill="#16b7b3"/>
<circle cx="1240.1" cy="540.2" r="1.15" fill="#86e4e0"/>
<circle cx="1225.8" cy="539.4" r="2.9" fill="#16b7b3"/>
<circle cx="1225.3" cy="538.9" r="1.15" fill="#86e4e0"/>
<circle cx="1232.4" cy="544.4" r="2.9" fill="#16b7b3"/>
<circle cx="1231.9" cy="543.9" r="1.15" fill="#86e4e0"/>
<circle cx="1227.4" cy="542.2" r="2.9" fill="#16b7b3"/>
<circle cx="1226.9" cy="541.7" r="1.15" fill="#86e4e0"/>
<circle cx="1225.7" cy="530.3" r="2.9" fill="#16b7b3"/>
<circle cx="1225.2" cy="529.8" r="1.15" fill="#86e4e0"/>
<circle cx="1234.2" cy="529.0" r="2.9" fill="#16b7b3"/>
<circle cx="1233.7" cy="528.5" r="1.15" fill="#86e4e0"/>
<circle cx="1234.2" cy="548.7" r="2.9" fill="#16b7b3"/>
<circle cx="1233.7" cy="548.2" r="1.15" fill="#86e4e0"/>
<circle cx="1225.1" cy="550.9" r="2.9" fill="#16b7b3"/>
<circle cx="1224.6" cy="550.4" r="1.15" fill="#86e4e0"/>
<circle cx="1226.3" cy="519.3" r="2.9" fill="#16b7b3"/>
<circle cx="1225.8" cy="518.8" r="1.15" fill="#86e4e0"/>
<circle cx="1230.9" cy="553.3" r="2.9" fill="#16b7b3"/>
<circle cx="1230.4" cy="552.8" r="1.15" fill="#86e4e0"/>
<circle cx="1236.2" cy="526.0" r="2.9" fill="#16b7b3"/>
<circle cx="1235.7" cy="525.5" r="1.15" fill="#86e4e0"/>
<circle cx="1233.2" cy="521.9" r="2.9" fill="#16b7b3"/>
<circle cx="1232.7" cy="521.4" r="1.15" fill="#86e4e0"/>
<circle cx="1228.5" cy="515.6" r="2.9" fill="#16b7b3"/>
<circle cx="1228.0" cy="515.1" r="1.15" fill="#86e4e0"/>
<circle cx="1236.4" cy="545.1" r="2.9" fill="#16b7b3"/>
<circle cx="1235.9" cy="544.6" r="1.15" fill="#86e4e0"/>
<circle cx="1226.9" cy="565.2" r="2.9" fill="#16b7b3"/>
<circle cx="1226.4" cy="564.7" r="1.15" fill="#86e4e0"/>
<circle cx="1234.6" cy="542.1" r="2.9" fill="#16b7b3"/>
<circle cx="1234.1" cy="541.6" r="1.15" fill="#86e4e0"/>
<circle cx="1237.1" cy="534.2" r="2.9" fill="#16b7b3"/>
<circle cx="1236.6" cy="533.7" r="1.15" fill="#86e4e0"/>
<circle cx="1230.2" cy="540.6" r="2.9" fill="#16b7b3"/>
<circle cx="1229.7" cy="540.1" r="1.15" fill="#86e4e0"/>
<circle cx="1225.7" cy="512.9" r="2.9" fill="#16b7b3"/>
<circle cx="1225.2" cy="512.4" r="1.15" fill="#86e4e0"/>
<circle cx="1225.7" cy="578.0" r="2.9" fill="#16b7b3"/>
<circle cx="1225.2" cy="577.5" r="1.15" fill="#86e4e0"/>
<path d="M1224.2,497.2 L1224.49,497.20 L1224.61,498.83 L1224.75,500.46 L1224.95,502.09 L1225.20,503.72 L1225.52,505.35 L1225.91,506.98 L1226.39,508.61 L1226.97,510.24 L1227.65,511.87 L1228.45,513.51 L1229.36,515.14 L1230.38,516.77 L1231.50,518.40 L1232.72,520.03 L1234.01,521.66 L1235.34,523.29 L1236.69,524.92 L1238.01,526.55 L1239.26,528.18 L1240.42,529.81 L1241.43,531.44 L1242.26,533.07 L1242.88,534.70 L1243.27,536.33 L1243.40,537.96 L1243.28,539.59 L1242.90,541.22 L1242.30,542.85 L1241.47,544.48 L1240.47,546.12 L1239.32,547.75 L1238.07,549.38 L1236.75,551.01 L1235.40,552.64 L1234.07,554.27 L1232.78,555.90 L1231.56,557.53 L1230.43,559.16 L1229.40,560.79 L1228.48,562.42 L1227.68,564.05 L1226.99,565.68 L1226.41,567.31 L1225.93,568.94 L1225.53,570.57 L1225.21,572.20 L1224.96,573.83 L1224.76,575.46 L1224.61,577.09 L1224.50,578.73 L1224.41,580.36 L1224.35,581.99 L1224.30,583.62 L1224.27,585.25 L1224.25,586.88 L1224.23,588.51 L1224.22,590.14 L1224.21,591.77 L1224.21,593.40" fill="none" stroke="#16b7b3" stroke-width="1.55"/>
<g stroke="#ea6b66" stroke-width="1.65" fill="none">
<line x1="1287.5" y1="538.7" x2="1287.5" y2="550.0"/>
<line x1="1287.5" y1="576.9" x2="1287.5" y2="604.9"/>
<line x1="1281.3" y1="538.7" x2="1293.8" y2="538.7"/>
<line x1="1281.3" y1="604.9" x2="1293.8" y2="604.9"/>
<rect x="1274.8" y="550.0" width="25.5" height="26.9"/>
<line x1="1274.8" y1="562.1" x2="1300.3" y2="562.1"/>
<rect x="1285.8" y="562.8" width="3.4" height="3.4" stroke-width="0.9" fill="#fff"/>
</g>
<circle cx="1312.6" cy="580.8" r="2.9" fill="#ea6b66"/>
<circle cx="1312.1" cy="580.3" r="1.15" fill="#f7b0aa"/>
<circle cx="1317.1" cy="548.9" r="2.9" fill="#ea6b66"/>
<circle cx="1316.6" cy="548.4" r="1.15" fill="#f7b0aa"/>
<circle cx="1312.3" cy="546.5" r="2.9" fill="#ea6b66"/>
<circle cx="1311.8" cy="546.0" r="1.15" fill="#f7b0aa"/>
<circle cx="1319.6" cy="555.5" r="2.9" fill="#ea6b66"/>
<circle cx="1319.1" cy="555.0" r="1.15" fill="#f7b0aa"/>
<circle cx="1316.9" cy="576.1" r="2.9" fill="#ea6b66"/>
<circle cx="1316.4" cy="575.6" r="1.15" fill="#f7b0aa"/>
<circle cx="1321.0" cy="569.6" r="2.9" fill="#ea6b66"/>
<circle cx="1320.5" cy="569.1" r="1.15" fill="#f7b0aa"/>
<circle cx="1307.3" cy="591.8" r="2.9" fill="#ea6b66"/>
<circle cx="1306.8" cy="591.3" r="1.15" fill="#f7b0aa"/>
<circle cx="1313.5" cy="551.9" r="2.9" fill="#ea6b66"/>
<circle cx="1313.0" cy="551.4" r="1.15" fill="#f7b0aa"/>
<circle cx="1313.9" cy="556.7" r="2.9" fill="#ea6b66"/>
<circle cx="1313.4" cy="556.2" r="1.15" fill="#f7b0aa"/>
<circle cx="1322.4" cy="558.5" r="2.9" fill="#ea6b66"/>
<circle cx="1321.9" cy="558.0" r="1.15" fill="#f7b0aa"/>
<circle cx="1309.5" cy="538.1" r="2.9" fill="#ea6b66"/>
<circle cx="1309.0" cy="537.6" r="1.15" fill="#f7b0aa"/>
<circle cx="1310.8" cy="578.4" r="2.9" fill="#ea6b66"/>
<circle cx="1310.3" cy="577.9" r="1.15" fill="#f7b0aa"/>
<circle cx="1314.7" cy="559.4" r="2.9" fill="#ea6b66"/>
<circle cx="1314.2" cy="558.9" r="1.15" fill="#f7b0aa"/>
<circle cx="1305.7" cy="596.6" r="2.9" fill="#ea6b66"/>
<circle cx="1305.2" cy="596.1" r="1.15" fill="#f7b0aa"/>
<circle cx="1307.6" cy="547.6" r="2.9" fill="#ea6b66"/>
<circle cx="1307.1" cy="547.1" r="1.15" fill="#f7b0aa"/>
<circle cx="1316.2" cy="563.6" r="2.9" fill="#ea6b66"/>
<circle cx="1315.7" cy="563.1" r="1.15" fill="#f7b0aa"/>
<circle cx="1318.0" cy="569.0" r="2.9" fill="#ea6b66"/>
<circle cx="1317.5" cy="568.5" r="1.15" fill="#f7b0aa"/>
<circle cx="1305.4" cy="557.7" r="2.9" fill="#ea6b66"/>
<circle cx="1304.9" cy="557.2" r="1.15" fill="#f7b0aa"/>
<circle cx="1309.9" cy="572.3" r="2.9" fill="#ea6b66"/>
<circle cx="1309.4" cy="571.8" r="1.15" fill="#f7b0aa"/>
<circle cx="1308.4" cy="575.3" r="2.9" fill="#ea6b66"/>
<circle cx="1307.9" cy="574.8" r="1.15" fill="#f7b0aa"/>
<circle cx="1309.5" cy="544.6" r="2.9" fill="#ea6b66"/>
<circle cx="1309.0" cy="544.1" r="1.15" fill="#f7b0aa"/>
<circle cx="1308.3" cy="552.2" r="2.9" fill="#ea6b66"/>
<circle cx="1307.8" cy="551.7" r="1.15" fill="#f7b0aa"/>
<circle cx="1318.0" cy="552.3" r="2.9" fill="#ea6b66"/>
<circle cx="1317.5" cy="551.8" r="1.15" fill="#f7b0aa"/>
<circle cx="1318.3" cy="572.9" r="2.9" fill="#ea6b66"/>
<circle cx="1317.8" cy="572.4" r="1.15" fill="#f7b0aa"/>
<circle cx="1308.0" cy="586.4" r="2.9" fill="#ea6b66"/>
<circle cx="1307.5" cy="585.9" r="1.15" fill="#f7b0aa"/>
<circle cx="1315.3" cy="573.0" r="2.9" fill="#ea6b66"/>
<circle cx="1314.8" cy="572.5" r="1.15" fill="#f7b0aa"/>
<circle cx="1305.3" cy="573.1" r="2.9" fill="#ea6b66"/>
<circle cx="1304.8" cy="572.6" r="1.15" fill="#f7b0aa"/>
<circle cx="1312.8" cy="584.7" r="2.9" fill="#ea6b66"/>
<circle cx="1312.3" cy="584.2" r="1.15" fill="#f7b0aa"/>
<circle cx="1312.2" cy="574.1" r="2.9" fill="#ea6b66"/>
<circle cx="1311.7" cy="573.6" r="1.15" fill="#f7b0aa"/>
<circle cx="1315.0" cy="566.2" r="2.9" fill="#ea6b66"/>
<circle cx="1314.5" cy="565.7" r="1.15" fill="#f7b0aa"/>
<circle cx="1305.7" cy="538.7" r="2.9" fill="#ea6b66"/>
<circle cx="1305.2" cy="538.2" r="1.15" fill="#f7b0aa"/>
<circle cx="1305.7" cy="604.9" r="2.9" fill="#ea6b66"/>
<circle cx="1305.2" cy="604.4" r="1.15" fill="#f7b0aa"/>
<path d="M1304.2,500.8 L1304.31,500.80 L1304.36,502.98 L1304.43,505.16 L1304.52,507.34 L1304.64,509.53 L1304.80,511.71 L1305.00,513.89 L1305.27,516.07 L1305.60,518.25 L1306.01,520.43 L1306.51,522.61 L1307.11,524.79 L1307.82,526.98 L1308.64,529.16 L1309.57,531.34 L1310.62,533.52 L1311.76,535.70 L1313.00,537.88 L1314.29,540.06 L1315.63,542.25 L1316.97,544.43 L1318.28,546.61 L1319.51,548.79 L1320.64,550.97 L1321.62,553.15 L1322.40,555.33 L1322.98,557.52 L1323.31,559.70 L1323.40,561.88 L1323.22,564.06 L1322.81,566.24 L1322.15,568.42 L1321.30,570.60 L1320.27,572.78 L1319.10,574.97 L1317.83,577.15 L1316.50,579.33 L1315.16,581.51 L1313.84,583.69 L1312.56,585.87 L1311.36,588.05 L1310.24,590.24 L1309.24,592.42 L1308.34,594.60 L1307.56,596.78 L1306.89,598.96 L1306.33,601.14 L1305.86,603.32 L1305.48,605.51 L1305.17,607.69 L1304.93,609.87 L1304.74,612.05 L1304.59,614.23 L1304.48,616.41 L1304.40,618.59 L1304.34,620.77 L1304.30,622.96 L1304.27,625.14 L1304.24,627.32 L1304.23,629.50" fill="none" stroke="#ea6b66" stroke-width="1.55"/>
<line x1="1023.5" y1="445.9" x2="1023.5" y2="704.1" stroke="#0d0d0d" stroke-width="1.3"/>
<line x1="1343.5" y1="445.9" x2="1343.5" y2="704.1" stroke="#0d0d0d" stroke-width="1.3"/>
<line x1="1023.5" y1="446.5" x2="1343.5" y2="446.5" stroke="#0d0d0d" stroke-width="1.3"/>
<line x1="1023.5" y1="703.5" x2="1343.5" y2="703.5" stroke="#0d0d0d" stroke-width="1.3"/>
<line x1="1063.5" y1="703.5" x2="1063.5" y2="708.3" stroke="#0d0d0d" stroke-width="1.1"/>
<text x="1063.5" y="728.3" font-size="22.3" text-anchor="middle" fill="#000" >Control</text>
<line x1="1143.5" y1="703.5" x2="1143.5" y2="708.3" stroke="#0d0d0d" stroke-width="1.1"/>
<text x="1143.5" y="728.3" font-size="22.3" text-anchor="middle" fill="#000" >MEA-3</text>
<line x1="1223.5" y1="703.5" x2="1223.5" y2="708.3" stroke="#0d0d0d" stroke-width="1.1"/>
<text x="1223.5" y="728.3" font-size="22.3" text-anchor="middle" fill="#000" >MEA-4</text>
<line x1="1303.5" y1="703.5" x2="1303.5" y2="708.3" stroke="#0d0d0d" stroke-width="1.1"/>
<text x="1303.5" y="728.3" font-size="22.3" text-anchor="middle" fill="#000" >MEA-5</text>
<line x1="1023.5" y1="703.5" x2="1018.7" y2="703.5" stroke="#0d0d0d" stroke-width="1.1"/>
<text x="1014.5" y="708.9" font-size="21.8" text-anchor="end" fill="#000" >5</text>
<line x1="1023.5" y1="617.8" x2="1018.7" y2="617.8" stroke="#0d0d0d" stroke-width="1.1"/>
<text x="1014.5" y="623.2" font-size="21.8" text-anchor="end" fill="#000" >6</text>
<line x1="1023.5" y1="532.2" x2="1018.7" y2="532.2" stroke="#0d0d0d" stroke-width="1.1"/>
<text x="1014.5" y="537.6" font-size="21.8" text-anchor="end" fill="#000" >7</text>
<line x1="1023.5" y1="446.5" x2="1018.7" y2="446.5" stroke="#0d0d0d" stroke-width="1.1"/>
<text x="1014.5" y="451.9" font-size="21.8" text-anchor="end" fill="#000" >8</text>
<line x1="1023.5" y1="660.7" x2="1020.9" y2="660.7" stroke="#0d0d0d" stroke-width="1.1"/>
<line x1="1023.5" y1="575.0" x2="1020.9" y2="575.0" stroke="#0d0d0d" stroke-width="1.1"/>
<line x1="1023.5" y1="489.3" x2="1020.9" y2="489.3" stroke="#0d0d0d" stroke-width="1.1"/>
<text x="0.0" y="0.0" font-size="22.5" text-anchor="middle" fill="#000" transform="translate(993.3,573.3) rotate(-90.0)" >PCE (%)</text>
</g>
<g id="panel-f">
<g stroke="#12639b" stroke-width="1.65" fill="none">
<line x1="142.6" y1="904.0" x2="142.6" y2="926.0"/>
<line x1="142.6" y1="945.9" x2="142.6" y2="967.9"/>
<line x1="136.4" y1="904.0" x2="148.8" y2="904.0"/>
<line x1="136.4" y1="967.9" x2="148.8" y2="967.9"/>
<rect x="129.8" y="926.0" width="25.5" height="19.9"/>
<line x1="129.8" y1="934.0" x2="155.3" y2="934.0"/>
<rect x="140.9" y="934.1" width="3.4" height="3.4" stroke-width="0.9" fill="#fff"/>
</g>
<circle cx="165.4" cy="915.7" r="2.9" fill="#12639b"/>
<circle cx="164.9" cy="915.2" r="1.15" fill="#5aa5d8"/>
<circle cx="162.5" cy="937.5" r="2.9" fill="#12639b"/>
<circle cx="162.0" cy="937.0" r="1.15" fill="#5aa5d8"/>
<circle cx="163.5" cy="947.1" r="2.9" fill="#12639b"/>
<circle cx="163.0" cy="946.6" r="1.15" fill="#5aa5d8"/>
<circle cx="174.7" cy="935.4" r="2.9" fill="#12639b"/>
<circle cx="174.2" cy="934.9" r="1.15" fill="#5aa5d8"/>
<circle cx="169.3" cy="928.1" r="2.9" fill="#12639b"/>
<circle cx="168.8" cy="927.6" r="1.15" fill="#5aa5d8"/>
<circle cx="162.5" cy="943.1" r="2.9" fill="#12639b"/>
<circle cx="162.0" cy="942.6" r="1.15" fill="#5aa5d8"/>
<circle cx="172.5" cy="945.6" r="2.9" fill="#12639b"/>
<circle cx="172.0" cy="945.1" r="1.15" fill="#5aa5d8"/>
<circle cx="160.4" cy="956.9" r="2.9" fill="#12639b"/>
<circle cx="159.9" cy="956.4" r="1.15" fill="#5aa5d8"/>
<circle cx="170.5" cy="943.2" r="2.9" fill="#12639b"/>
<circle cx="170.0" cy="942.7" r="1.15" fill="#5aa5d8"/>
<circle cx="173.8" cy="927.6" r="2.9" fill="#12639b"/>
<circle cx="173.3" cy="927.1" r="1.15" fill="#5aa5d8"/>
<circle cx="160.3" cy="945.8" r="2.9" fill="#12639b"/>
<circle cx="159.8" cy="945.3" r="1.15" fill="#5aa5d8"/>
<circle cx="161.6" cy="961.3" r="2.9" fill="#12639b"/>
<circle cx="161.1" cy="960.8" r="1.15" fill="#5aa5d8"/>
<circle cx="160.2" cy="965.9" r="2.9" fill="#12639b"/>
<circle cx="159.7" cy="965.4" r="1.15" fill="#5aa5d8"/>
<circle cx="167.6" cy="932.0" r="2.9" fill="#12639b"/>
<circle cx="167.1" cy="931.5" r="1.15" fill="#5aa5d8"/>
<circle cx="163.1" cy="933.1" r="2.9" fill="#12639b"/>
<circle cx="162.6" cy="932.6" r="1.15" fill="#5aa5d8"/>
<circle cx="174.3" cy="930.5" r="2.9" fill="#12639b"/>
<circle cx="173.8" cy="930.0" r="1.15" fill="#5aa5d8"/>
<circle cx="168.2" cy="923.5" r="2.9" fill="#12639b"/>
<circle cx="167.7" cy="923.0" r="1.15" fill="#5aa5d8"/>
<circle cx="167.5" cy="942.4" r="2.9" fill="#12639b"/>
<circle cx="167.0" cy="941.9" r="1.15" fill="#5aa5d8"/>
<circle cx="177.4" cy="936.6" r="2.9" fill="#12639b"/>
<circle cx="176.9" cy="936.1" r="1.15" fill="#5aa5d8"/>
<circle cx="162.8" cy="953.5" r="2.9" fill="#12639b"/>
<circle cx="162.3" cy="953.0" r="1.15" fill="#5aa5d8"/>
<circle cx="161.8" cy="927.3" r="2.9" fill="#12639b"/>
<circle cx="161.3" cy="926.8" r="1.15" fill="#5aa5d8"/>
<circle cx="162.0" cy="916.4" r="2.9" fill="#12639b"/>
<circle cx="161.5" cy="915.9" r="1.15" fill="#5aa5d8"/>
<circle cx="171.7" cy="924.3" r="2.9" fill="#12639b"/>
<circle cx="171.2" cy="923.8" r="1.15" fill="#5aa5d8"/>
<circle cx="166.6" cy="946.3" r="2.9" fill="#12639b"/>
<circle cx="166.1" cy="945.8" r="1.15" fill="#5aa5d8"/>
<circle cx="169.1" cy="938.8" r="2.9" fill="#12639b"/>
<circle cx="168.6" cy="938.3" r="1.15" fill="#5aa5d8"/>
<circle cx="167.0" cy="936.9" r="2.9" fill="#12639b"/>
<circle cx="166.5" cy="936.4" r="1.15" fill="#5aa5d8"/>
<circle cx="169.3" cy="948.0" r="2.9" fill="#12639b"/>
<circle cx="168.8" cy="947.5" r="1.15" fill="#5aa5d8"/>
<circle cx="171.4" cy="936.9" r="2.9" fill="#12639b"/>
<circle cx="170.9" cy="936.4" r="1.15" fill="#5aa5d8"/>
<circle cx="164.9" cy="939.1" r="2.9" fill="#12639b"/>
<circle cx="164.4" cy="938.6" r="1.15" fill="#5aa5d8"/>
<circle cx="174.8" cy="942.1" r="2.9" fill="#12639b"/>
<circle cx="174.3" cy="941.6" r="1.15" fill="#5aa5d8"/>
<circle cx="160.7" cy="904.0" r="2.9" fill="#12639b"/>
<circle cx="160.2" cy="903.5" r="1.15" fill="#5aa5d8"/>
<circle cx="160.7" cy="967.9" r="2.9" fill="#12639b"/>
<circle cx="160.2" cy="967.4" r="1.15" fill="#5aa5d8"/>
<path d="M159.2,878.5 L159.22,878.50 L159.24,880.26 L159.25,882.02 L159.28,883.78 L159.31,885.54 L159.36,887.30 L159.43,889.06 L159.53,890.82 L159.65,892.57 L159.81,894.33 L160.02,896.09 L160.29,897.85 L160.63,899.61 L161.04,901.37 L161.55,903.13 L162.15,904.89 L162.86,906.65 L163.69,908.41 L164.62,910.17 L165.67,911.93 L166.81,913.69 L168.04,915.45 L169.34,917.21 L170.67,918.96 L172.00,920.72 L173.30,922.48 L174.54,924.24 L175.66,926.00 L176.63,927.76 L177.41,929.52 L177.98,931.28 L178.31,933.04 L178.40,934.80 L178.23,936.56 L177.81,938.32 L177.17,940.08 L176.32,941.84 L175.29,943.59 L174.13,945.35 L172.87,947.11 L171.55,948.87 L170.21,950.63 L168.89,952.39 L167.62,954.15 L166.41,955.91 L165.30,957.67 L164.29,959.43 L163.39,961.19 L162.61,962.95 L161.93,964.71 L161.36,966.47 L160.89,968.23 L160.50,969.98 L160.19,971.74 L159.94,973.50 L159.75,975.26 L159.60,977.02 L159.49,978.78 L159.41,980.54 L159.35,982.30" fill="none" stroke="#12639b" stroke-width="1.55"/>
<g stroke="#e8429e" stroke-width="1.65" fill="none">
<line x1="222.6" y1="878.0" x2="222.6" y2="898.0"/>
<line x1="222.6" y1="919.5" x2="222.6" y2="936.8"/>
<line x1="216.4" y1="878.0" x2="228.8" y2="878.0"/>
<line x1="216.4" y1="936.8" x2="228.8" y2="936.8"/>
<rect x="209.8" y="898.0" width="25.5" height="21.5"/>
<line x1="209.8" y1="906.9" x2="235.3" y2="906.9"/>
<rect x="220.9" y="905.2" width="3.4" height="3.4" stroke-width="0.9" fill="#fff"/>
</g>
<circle cx="246.6" cy="904.6" r="2.9" fill="#e8429e"/>
<circle cx="246.1" cy="904.1" r="1.15" fill="#f79ccd"/>
<circle cx="254.3" cy="915.0" r="2.9" fill="#e8429e"/>
<circle cx="253.8" cy="914.5" r="1.15" fill="#f79ccd"/>
<circle cx="240.0" cy="927.1" r="2.9" fill="#e8429e"/>
<circle cx="239.5" cy="926.6" r="1.15" fill="#f79ccd"/>
<circle cx="250.9" cy="910.6" r="2.9" fill="#e8429e"/>
<circle cx="250.4" cy="910.1" r="1.15" fill="#f79ccd"/>
<circle cx="257.9" cy="907.0" r="2.9" fill="#e8429e"/>
<circle cx="257.4" cy="906.5" r="1.15" fill="#f79ccd"/>
<circle cx="240.3" cy="922.4" r="2.9" fill="#e8429e"/>
<circle cx="239.8" cy="921.9" r="1.15" fill="#f79ccd"/>
<circle cx="241.1" cy="882.6" r="2.9" fill="#e8429e"/>
<circle cx="240.6" cy="882.1" r="1.15" fill="#f79ccd"/>
<circle cx="247.0" cy="892.0" r="2.9" fill="#e8429e"/>
<circle cx="246.5" cy="891.5" r="1.15" fill="#f79ccd"/>
<circle cx="240.6" cy="933.2" r="2.9" fill="#e8429e"/>
<circle cx="240.1" cy="932.7" r="1.15" fill="#f79ccd"/>
<circle cx="244.4" cy="897.6" r="2.9" fill="#e8429e"/>
<circle cx="243.9" cy="897.1" r="1.15" fill="#f79ccd"/>
<circle cx="248.3" cy="899.2" r="2.9" fill="#e8429e"/>
<circle cx="247.8" cy="898.7" r="1.15" fill="#f79ccd"/>
<circle cx="242.2" cy="887.4" r="2.9" fill="#e8429e"/>
<circle cx="241.7" cy="886.9" r="1.15" fill="#f79ccd"/>
<circle cx="252.6" cy="906.2" r="2.9" fill="#e8429e"/>
<circle cx="252.1" cy="905.7" r="1.15" fill="#f79ccd"/>
<circle cx="243.5" cy="917.2" r="2.9" fill="#e8429e"/>
<circle cx="243.0" cy="916.7" r="1.15" fill="#f79ccd"/>
<circle cx="246.1" cy="923.5" r="2.9" fill="#e8429e"/>
<circle cx="245.6" cy="923.0" r="1.15" fill="#f79ccd"/>
<circle cx="256.6" cy="904.6" r="2.9" fill="#e8429e"/>
<circle cx="256.1" cy="904.1" r="1.15" fill="#f79ccd"/>
<circle cx="242.6" cy="928.4" r="2.9" fill="#e8429e"/>
<circle cx="242.1" cy="927.9" r="1.15" fill="#f79ccd"/>
<circle cx="250.1" cy="901.5" r="2.9" fill="#e8429e"/>
<circle cx="249.6" cy="901.0" r="1.15" fill="#f79ccd"/>
<circle cx="244.2" cy="893.2" r="2.9" fill="#e8429e"/>
<circle cx="243.7" cy="892.7" r="1.15" fill="#f79ccd"/>
<circle cx="253.0" cy="899.7" r="2.9" fill="#e8429e"/>
<circle cx="252.5" cy="899.2" r="1.15" fill="#f79ccd"/>
<circle cx="242.6" cy="879.2" r="2.9" fill="#e8429e"/>
<circle cx="242.1" cy="878.7" r="1.15" fill="#f79ccd"/>
<circle cx="249.4" cy="920.6" r="2.9" fill="#e8429e"/>
<circle cx="248.9" cy="920.1" r="1.15" fill="#f79ccd"/>
<circle cx="241.3" cy="891.5" r="2.9" fill="#e8429e"/>
<circle cx="240.8" cy="891.0" r="1.15" fill="#f79ccd"/>
<circle cx="244.3" cy="902.4" r="2.9" fill="#e8429e"/>
<circle cx="243.8" cy="901.9" r="1.15" fill="#f79ccd"/>
<circle cx="250.1" cy="897.1" r="2.9" fill="#e8429e"/>
<circle cx="249.6" cy="896.6" r="1.15" fill="#f79ccd"/>
<circle cx="242.4" cy="913.2" r="2.9" fill="#e8429e"/>
<circle cx="241.9" cy="912.7" r="1.15" fill="#f79ccd"/>
<circle cx="250.3" cy="916.4" r="2.9" fill="#e8429e"/>
<circle cx="249.8" cy="915.9" r="1.15" fill="#f79ccd"/>
<circle cx="243.7" cy="907.4" r="2.9" fill="#e8429e"/>
<circle cx="243.2" cy="906.9" r="1.15" fill="#f79ccd"/>
<circle cx="247.8" cy="912.3" r="2.9" fill="#e8429e"/>
<circle cx="247.3" cy="911.8" r="1.15" fill="#f79ccd"/>
<circle cx="252.8" cy="918.9" r="2.9" fill="#e8429e"/>
<circle cx="252.3" cy="918.4" r="1.15" fill="#f79ccd"/>
<circle cx="240.7" cy="878.0" r="2.9" fill="#e8429e"/>
<circle cx="240.2" cy="877.5" r="1.15" fill="#f79ccd"/>
<circle cx="240.7" cy="936.8" r="2.9" fill="#e8429e"/>
<circle cx="240.2" cy="936.3" r="1.15" fill="#f79ccd"/>
<path d="M239.2,854.2 L239.26,854.20 L239.29,855.99 L239.33,857.78 L239.38,859.57 L239.46,861.36 L239.56,863.15 L239.70,864.94 L239.88,866.73 L240.11,868.52 L240.40,870.31 L240.77,872.10 L241.21,873.89 L241.76,875.68 L242.40,877.47 L243.16,879.26 L244.03,881.05 L245.01,882.84 L246.10,884.63 L247.29,886.42 L248.55,888.21 L249.87,890.00 L251.21,891.79 L252.54,893.58 L253.83,895.37 L255.02,897.16 L256.09,898.95 L256.99,900.74 L257.68,902.53 L258.15,904.32 L258.38,906.11 L258.35,907.89 L258.07,909.68 L257.55,911.47 L256.80,913.26 L255.86,915.05 L254.76,916.84 L253.55,918.63 L252.25,920.42 L250.91,922.21 L249.57,924.00 L248.26,925.79 L247.01,927.58 L245.85,929.37 L244.78,931.16 L243.83,932.95 L242.98,934.74 L242.25,936.53 L241.63,938.32 L241.11,940.11 L240.68,941.90 L240.33,943.69 L240.05,945.48 L239.84,947.27 L239.67,949.06 L239.54,950.85 L239.44,952.64 L239.37,954.43 L239.32,956.22 L239.28,958.01 L239.26,959.80" fill="none" stroke="#e8429e" stroke-width="1.55"/>
<g stroke="#16b7b3" stroke-width="1.65" fill="none">
<line x1="302.6" y1="834.7" x2="302.6" y2="852.4"/>
<line x1="302.6" y1="870.0" x2="302.6" y2="879.8"/>
<line x1="296.4" y1="834.7" x2="308.8" y2="834.7"/>
<line x1="296.4" y1="879.8" x2="308.8" y2="879.8"/>
<rect x="289.8" y="852.4" width="25.5" height="17.6"/>
<line x1="289.8" y1="861.7" x2="315.3" y2="861.7"/>
<rect x="300.9" y="856.4" width="3.4" height="3.4" stroke-width="0.9" fill="#fff"/>
</g>
<circle cx="322.9" cy="843.3" r="2.9" fill="#16b7b3"/>
<circle cx="322.4" cy="842.8" r="1.15" fill="#86e4e0"/>
<circle cx="332.1" cy="853.3" r="2.9" fill="#16b7b3"/>
<circle cx="331.6" cy="852.8" r="1.15" fill="#86e4e0"/>
<circle cx="325.9" cy="853.2" r="2.9" fill="#16b7b3"/>
<circle cx="325.4" cy="852.7" r="1.15" fill="#86e4e0"/>
<circle cx="323.6" cy="870.3" r="2.9" fill="#16b7b3"/>
<circle cx="323.1" cy="869.8" r="1.15" fill="#86e4e0"/>
<circle cx="329.1" cy="863.9" r="2.9" fill="#16b7b3"/>
<circle cx="328.6" cy="863.4" r="1.15" fill="#86e4e0"/>
<circle cx="324.1" cy="864.7" r="2.9" fill="#16b7b3"/>
<circle cx="323.6" cy="864.2" r="1.15" fill="#86e4e0"/>
<circle cx="321.6" cy="877.6" r="2.9" fill="#16b7b3"/>
<circle cx="321.1" cy="877.1" r="1.15" fill="#86e4e0"/>
<circle cx="335.4" cy="864.4" r="2.9" fill="#16b7b3"/>
<circle cx="334.9" cy="863.9" r="1.15" fill="#86e4e0"/>
<circle cx="332.4" cy="850.0" r="2.9" fill="#16b7b3"/>
<circle cx="331.9" cy="849.5" r="1.15" fill="#86e4e0"/>
<circle cx="331.4" cy="856.4" r="2.9" fill="#16b7b3"/>
<circle cx="330.9" cy="855.9" r="1.15" fill="#86e4e0"/>
<circle cx="327.0" cy="846.8" r="2.9" fill="#16b7b3"/>
<circle cx="326.5" cy="846.3" r="1.15" fill="#86e4e0"/>
<circle cx="326.9" cy="857.9" r="2.9" fill="#16b7b3"/>
<circle cx="326.4" cy="857.4" r="1.15" fill="#86e4e0"/>
<circle cx="324.4" cy="878.3" r="2.9" fill="#16b7b3"/>
<circle cx="323.9" cy="877.8" r="1.15" fill="#86e4e0"/>
<circle cx="332.9" cy="865.5" r="2.9" fill="#16b7b3"/>
<circle cx="332.4" cy="865.0" r="1.15" fill="#86e4e0"/>
<circle cx="323.7" cy="847.6" r="2.9" fill="#16b7b3"/>
<circle cx="323.2" cy="847.1" r="1.15" fill="#86e4e0"/>
<circle cx="321.3" cy="872.5" r="2.9" fill="#16b7b3"/>
<circle cx="320.8" cy="872.0" r="1.15" fill="#86e4e0"/>
<circle cx="327.3" cy="843.4" r="2.9" fill="#16b7b3"/>
<circle cx="326.8" cy="842.9" r="1.15" fill="#86e4e0"/>
<circle cx="320.2" cy="868.0" r="2.9" fill="#16b7b3"/>
<circle cx="319.7" cy="867.5" r="1.15" fill="#86e4e0"/>
<circle cx="323.1" cy="860.2" r="2.9" fill="#16b7b3"/>
<circle cx="322.6" cy="859.7" r="1.15" fill="#86e4e0"/>
<circle cx="328.7" cy="867.4" r="2.9" fill="#16b7b3"/>
<circle cx="328.2" cy="866.9" r="1.15" fill="#86e4e0"/>
<circle cx="325.9" cy="868.7" r="2.9" fill="#16b7b3"/>
<circle cx="325.4" cy="868.2" r="1.15" fill="#86e4e0"/>
<circle cx="329.4" cy="850.8" r="2.9" fill="#16b7b3"/>
<circle cx="328.9" cy="850.3" r="1.15" fill="#86e4e0"/>
<circle cx="330.3" cy="870.1" r="2.9" fill="#16b7b3"/>
<circle cx="329.8" cy="869.6" r="1.15" fill="#86e4e0"/>
<circle cx="323.4" cy="874.7" r="2.9" fill="#16b7b3"/>
<circle cx="322.9" cy="874.2" r="1.15" fill="#86e4e0"/>
<circle cx="321.4" cy="863.6" r="2.9" fill="#16b7b3"/>
<circle cx="320.9" cy="863.1" r="1.15" fill="#86e4e0"/>
<circle cx="332.5" cy="859.2" r="2.9" fill="#16b7b3"/>
<circle cx="332.0" cy="858.7" r="1.15" fill="#86e4e0"/>
<circle cx="323.8" cy="837.7" r="2.9" fill="#16b7b3"/>
<circle cx="323.3" cy="837.2" r="1.15" fill="#86e4e0"/>
<circle cx="336.8" cy="858.0" r="2.9" fill="#16b7b3"/>
<circle cx="336.3" cy="857.5" r="1.15" fill="#86e4e0"/>
<circle cx="321.6" cy="856.3" r="2.9" fill="#16b7b3"/>
<circle cx="321.1" cy="855.8" r="1.15" fill="#86e4e0"/>
<circle cx="335.9" cy="854.6" r="2.9" fill="#16b7b3"/>
<circle cx="335.4" cy="854.1" r="1.15" fill="#86e4e0"/>
<circle cx="320.7" cy="834.7" r="2.9" fill="#16b7b3"/>
<circle cx="320.2" cy="834.2" r="1.15" fill="#86e4e0"/>
<circle cx="320.7" cy="879.8" r="2.9" fill="#16b7b3"/>
<circle cx="320.2" cy="879.3" r="1.15" fill="#86e4e0"/>
<path d="M319.2,815.3 L319.26,815.30 L319.29,816.78 L319.33,818.25 L319.38,819.73 L319.46,821.21 L319.56,822.68 L319.69,824.16 L319.87,825.63 L320.10,827.11 L320.38,828.59 L320.74,830.06 L321.19,831.54 L321.72,833.02 L322.36,834.49 L323.11,835.97 L323.97,837.44 L324.95,838.92 L326.03,840.40 L327.21,841.87 L328.47,843.35 L329.78,844.83 L331.12,846.30 L332.45,847.78 L333.74,849.25 L334.94,850.73 L336.01,852.21 L336.93,853.68 L337.64,855.16 L338.13,856.64 L338.37,858.11 L338.36,859.59 L338.10,861.06 L337.60,862.54 L336.87,864.02 L335.95,865.49 L334.86,866.97 L333.65,868.45 L332.36,869.92 L331.03,871.40 L329.69,872.87 L328.38,874.35 L327.13,875.83 L325.95,877.30 L324.88,878.78 L323.91,880.26 L323.06,881.73 L322.32,883.21 L321.68,884.68 L321.15,886.16 L320.72,887.64 L320.36,889.11 L320.08,890.59 L319.86,892.07 L319.68,893.54 L319.55,895.02 L319.45,896.49 L319.38,897.97 L319.32,899.45 L319.29,900.92 L319.26,902.40" fill="none" stroke="#16b7b3" stroke-width="1.55"/>
<g stroke="#ea6b66" stroke-width="1.65" fill="none">
<line x1="382.6" y1="872.2" x2="382.6" y2="896.0"/>
<line x1="382.6" y1="928.2" x2="382.6" y2="940.8"/>
<line x1="376.4" y1="872.2" x2="388.8" y2="872.2"/>
<line x1="376.4" y1="940.8" x2="388.8" y2="940.8"/>
<rect x="369.8" y="896.0" width="25.5" height="32.2"/>
<line x1="369.8" y1="905.6" x2="395.3" y2="905.6"/>
<rect x="380.9" y="908.1" width="3.4" height="3.4" stroke-width="0.9" fill="#fff"/>
</g>
<circle cx="400.1" cy="890.6" r="2.9" fill="#ea6b66"/>
<circle cx="399.6" cy="890.1" r="1.15" fill="#f7b0aa"/>
<circle cx="403.1" cy="895.7" r="2.9" fill="#ea6b66"/>
<circle cx="402.6" cy="895.2" r="1.15" fill="#f7b0aa"/>
<circle cx="405.4" cy="884.2" r="2.9" fill="#ea6b66"/>
<circle cx="404.9" cy="883.7" r="1.15" fill="#f7b0aa"/>
<circle cx="413.6" cy="912.3" r="2.9" fill="#ea6b66"/>
<circle cx="413.1" cy="911.8" r="1.15" fill="#f7b0aa"/>
<circle cx="414.1" cy="901.3" r="2.9" fill="#ea6b66"/>
<circle cx="413.6" cy="900.8" r="1.15" fill="#f7b0aa"/>
<circle cx="413.8" cy="922.5" r="2.9" fill="#ea6b66"/>
<circle cx="413.3" cy="922.0" r="1.15" fill="#f7b0aa"/>
<circle cx="409.6" cy="899.2" r="2.9" fill="#ea6b66"/>
<circle cx="409.1" cy="898.7" r="1.15" fill="#f7b0aa"/>
<circle cx="409.7" cy="910.5" r="2.9" fill="#ea6b66"/>
<circle cx="409.2" cy="910.0" r="1.15" fill="#f7b0aa"/>
<circle cx="406.5" cy="902.2" r="2.9" fill="#ea6b66"/>
<circle cx="406.0" cy="901.7" r="1.15" fill="#f7b0aa"/>
<circle cx="409.9" cy="918.2" r="2.9" fill="#ea6b66"/>
<circle cx="409.4" cy="917.7" r="1.15" fill="#f7b0aa"/>
<circle cx="410.0" cy="923.5" r="2.9" fill="#ea6b66"/>
<circle cx="409.5" cy="923.0" r="1.15" fill="#f7b0aa"/>
<circle cx="401.9" cy="909.3" r="2.9" fill="#ea6b66"/>
<circle cx="401.4" cy="908.8" r="1.15" fill="#f7b0aa"/>
<circle cx="409.3" cy="903.0" r="2.9" fill="#ea6b66"/>
<circle cx="408.8" cy="902.5" r="1.15" fill="#f7b0aa"/>
<circle cx="406.7" cy="923.6" r="2.9" fill="#ea6b66"/>
<circle cx="406.2" cy="923.1" r="1.15" fill="#f7b0aa"/>
<circle cx="403.4" cy="916.9" r="2.9" fill="#ea6b66"/>
<circle cx="402.9" cy="916.4" r="1.15" fill="#f7b0aa"/>
<circle cx="404.5" cy="920.3" r="2.9" fill="#ea6b66"/>
<circle cx="404.0" cy="919.8" r="1.15" fill="#f7b0aa"/>
<circle cx="405.9" cy="898.1" r="2.9" fill="#ea6b66"/>
<circle cx="405.4" cy="897.6" r="1.15" fill="#f7b0aa"/>
<circle cx="405.0" cy="929.5" r="2.9" fill="#ea6b66"/>
<circle cx="404.5" cy="929.0" r="1.15" fill="#f7b0aa"/>
<circle cx="412.0" cy="905.8" r="2.9" fill="#ea6b66"/>
<circle cx="411.5" cy="905.3" r="1.15" fill="#f7b0aa"/>
<circle cx="401.8" cy="904.6" r="2.9" fill="#ea6b66"/>
<circle cx="401.3" cy="904.1" r="1.15" fill="#f7b0aa"/>
<circle cx="418.0" cy="909.5" r="2.9" fill="#ea6b66"/>
<circle cx="417.5" cy="909.0" r="1.15" fill="#f7b0aa"/>
<circle cx="403.2" cy="938.1" r="2.9" fill="#ea6b66"/>
<circle cx="402.7" cy="937.6" r="1.15" fill="#f7b0aa"/>
<circle cx="412.2" cy="894.3" r="2.9" fill="#ea6b66"/>
<circle cx="411.7" cy="893.8" r="1.15" fill="#f7b0aa"/>
<circle cx="406.6" cy="891.1" r="2.9" fill="#ea6b66"/>
<circle cx="406.1" cy="890.6" r="1.15" fill="#f7b0aa"/>
<circle cx="405.5" cy="906.2" r="2.9" fill="#ea6b66"/>
<circle cx="405.0" cy="905.7" r="1.15" fill="#f7b0aa"/>
<circle cx="400.3" cy="895.1" r="2.9" fill="#ea6b66"/>
<circle cx="399.8" cy="894.6" r="1.15" fill="#f7b0aa"/>
<circle cx="410.8" cy="891.8" r="2.9" fill="#ea6b66"/>
<circle cx="410.3" cy="891.3" r="1.15" fill="#f7b0aa"/>
<circle cx="414.0" cy="916.9" r="2.9" fill="#ea6b66"/>
<circle cx="413.5" cy="916.4" r="1.15" fill="#f7b0aa"/>
<circle cx="400.8" cy="920.7" r="2.9" fill="#ea6b66"/>
<circle cx="400.3" cy="920.2" r="1.15" fill="#f7b0aa"/>
<circle cx="402.9" cy="911.9" r="2.9" fill="#ea6b66"/>
<circle cx="402.4" cy="911.4" r="1.15" fill="#f7b0aa"/>
<circle cx="400.7" cy="872.2" r="2.9" fill="#ea6b66"/>
<circle cx="400.2" cy="871.7" r="1.15" fill="#f7b0aa"/>
<circle cx="400.7" cy="940.8" r="2.9" fill="#ea6b66"/>
<circle cx="400.2" cy="940.3" r="1.15" fill="#f7b0aa"/>
<path d="M399.2,847.3 L399.27,847.30 L399.30,849.43 L399.34,851.55 L399.40,853.68 L399.48,855.81 L399.59,857.94 L399.74,860.06 L399.93,862.19 L400.17,864.32 L400.48,866.44 L400.86,868.57 L401.33,870.70 L401.89,872.83 L402.56,874.95 L403.33,877.08 L404.22,879.21 L405.23,881.33 L406.33,883.46 L407.53,885.59 L408.80,887.72 L410.12,889.84 L411.46,891.97 L412.78,894.10 L414.04,896.22 L415.21,898.35 L416.25,900.48 L417.11,902.61 L417.77,904.73 L418.21,906.86 L418.39,908.99 L418.33,911.11 L418.01,913.24 L417.46,915.37 L416.69,917.49 L415.73,919.62 L414.62,921.75 L413.40,923.88 L412.10,926.00 L410.76,928.13 L409.43,930.26 L408.13,932.38 L406.90,934.51 L405.75,936.64 L404.69,938.77 L403.75,940.89 L402.92,943.02 L402.20,945.15 L401.59,947.27 L401.08,949.40 L400.65,951.53 L400.31,953.66 L400.04,955.78 L399.83,957.91 L399.66,960.04 L399.53,962.16 L399.44,964.29 L399.37,966.42 L399.32,968.55 L399.28,970.67 L399.26,972.80" fill="none" stroke="#ea6b66" stroke-width="1.55"/>
<line x1="118.5" y1="788.9" x2="118.5" y2="1047.2" stroke="#0d0d0d" stroke-width="1.3"/>
<line x1="438.5" y1="788.9" x2="438.5" y2="1047.2" stroke="#0d0d0d" stroke-width="1.3"/>
<line x1="118.5" y1="789.5" x2="438.5" y2="789.5" stroke="#0d0d0d" stroke-width="1.3"/>
<line x1="118.5" y1="1046.5" x2="438.5" y2="1046.5" stroke="#0d0d0d" stroke-width="1.3"/>
<line x1="158.5" y1="1046.5" x2="158.5" y2="1051.3" stroke="#0d0d0d" stroke-width="1.1"/>
<text x="158.5" y="1071.8" font-size="22.3" text-anchor="middle" fill="#000" >Control</text>
<line x1="238.5" y1="1046.5" x2="238.5" y2="1051.3" stroke="#0d0d0d" stroke-width="1.1"/>
<text x="238.5" y="1071.8" font-size="22.3" text-anchor="middle" fill="#000" >MEA-3</text>
<line x1="318.5" y1="1046.5" x2="318.5" y2="1051.3" stroke="#0d0d0d" stroke-width="1.1"/>
<text x="318.5" y="1071.8" font-size="22.3" text-anchor="middle" fill="#000" >MEA-4</text>
<line x1="398.5" y1="1046.5" x2="398.5" y2="1051.3" stroke="#0d0d0d" stroke-width="1.1"/>
<text x="398.5" y="1071.8" font-size="22.3" text-anchor="middle" fill="#000" >MEA-5</text>
<line x1="118.5" y1="1014.4" x2="113.7" y2="1014.4" stroke="#0d0d0d" stroke-width="1.1"/>
<text x="108.7" y="1020.7" font-size="21.8" text-anchor="end" fill="#000" >0.74</text>
<line x1="118.5" y1="950.1" x2="113.7" y2="950.1" stroke="#0d0d0d" stroke-width="1.1"/>
<text x="108.7" y="956.4" font-size="21.8" text-anchor="end" fill="#000" >0.76</text>
<line x1="118.5" y1="885.9" x2="113.7" y2="885.9" stroke="#0d0d0d" stroke-width="1.1"/>
<text x="108.7" y="892.2" font-size="21.8" text-anchor="end" fill="#000" >0.78</text>
<line x1="118.5" y1="821.6" x2="113.7" y2="821.6" stroke="#0d0d0d" stroke-width="1.1"/>
<text x="108.7" y="827.9" font-size="21.8" text-anchor="end" fill="#000" >0.80</text>
<line x1="118.5" y1="1046.5" x2="115.9" y2="1046.5" stroke="#0d0d0d" stroke-width="1.1"/>
<line x1="118.5" y1="982.2" x2="115.9" y2="982.2" stroke="#0d0d0d" stroke-width="1.1"/>
<line x1="118.5" y1="918.0" x2="115.9" y2="918.0" stroke="#0d0d0d" stroke-width="1.1"/>
<line x1="118.5" y1="853.8" x2="115.9" y2="853.8" stroke="#0d0d0d" stroke-width="1.1"/>
<line x1="118.5" y1="789.5" x2="115.9" y2="789.5" stroke="#0d0d0d" stroke-width="1.1"/>
<text x="0.0" y="0.0" font-size="22.5" text-anchor="middle" fill="#000" transform="translate(53.8,916.7) rotate(-90.0)" ><tspan font-style="italic">V</tspan><tspan font-size="14.4" dy="5.5">OC</tspan><tspan dy="-5.5">&#8203;</tspan> (V)</text>
</g>
<g id="panel-g">
<g stroke="#12639b" stroke-width="1.65" fill="none">
<line x1="593.5" y1="892.1" x2="593.5" y2="918.8"/>
<line x1="593.5" y1="954.0" x2="593.5" y2="963.0"/>
<line x1="587.3" y1="892.1" x2="599.8" y2="892.1"/>
<line x1="587.3" y1="963.0" x2="599.8" y2="963.0"/>
<rect x="580.8" y="918.8" width="25.5" height="35.2"/>
<line x1="580.8" y1="935.8" x2="606.3" y2="935.8"/>
<rect x="591.8" y="933.7" width="3.4" height="3.4" stroke-width="0.9" fill="#fff"/>
</g>
<circle cx="623.4" cy="932.4" r="2.9" fill="#12639b"/>
<circle cx="622.9" cy="931.9" r="1.15" fill="#5aa5d8"/>
<circle cx="617.2" cy="961.7" r="2.9" fill="#12639b"/>
<circle cx="616.7" cy="961.2" r="1.15" fill="#5aa5d8"/>
<circle cx="613.6" cy="939.2" r="2.9" fill="#12639b"/>
<circle cx="613.1" cy="938.7" r="1.15" fill="#5aa5d8"/>
<circle cx="614.5" cy="946.2" r="2.9" fill="#12639b"/>
<circle cx="614.0" cy="945.7" r="1.15" fill="#5aa5d8"/>
<circle cx="620.7" cy="933.0" r="2.9" fill="#12639b"/>
<circle cx="620.2" cy="932.5" r="1.15" fill="#5aa5d8"/>
<circle cx="614.5" cy="924.4" r="2.9" fill="#12639b"/>
<circle cx="614.0" cy="923.9" r="1.15" fill="#5aa5d8"/>
<circle cx="625.7" cy="928.6" r="2.9" fill="#12639b"/>
<circle cx="625.2" cy="928.1" r="1.15" fill="#5aa5d8"/>
<circle cx="618.4" cy="952.7" r="2.9" fill="#12639b"/>
<circle cx="617.9" cy="952.2" r="1.15" fill="#5aa5d8"/>
<circle cx="613.1" cy="948.6" r="2.9" fill="#12639b"/>
<circle cx="612.6" cy="948.1" r="1.15" fill="#5aa5d8"/>
<circle cx="626.8" cy="935.3" r="2.9" fill="#12639b"/>
<circle cx="626.3" cy="934.8" r="1.15" fill="#5aa5d8"/>
<circle cx="623.7" cy="946.1" r="2.9" fill="#12639b"/>
<circle cx="623.2" cy="945.6" r="1.15" fill="#5aa5d8"/>
<circle cx="615.4" cy="903.2" r="2.9" fill="#12639b"/>
<circle cx="614.9" cy="902.7" r="1.15" fill="#5aa5d8"/>
<circle cx="618.3" cy="916.9" r="2.9" fill="#12639b"/>
<circle cx="617.8" cy="916.4" r="1.15" fill="#5aa5d8"/>
<circle cx="616.4" cy="941.4" r="2.9" fill="#12639b"/>
<circle cx="615.9" cy="940.9" r="1.15" fill="#5aa5d8"/>
<circle cx="618.0" cy="959.0" r="2.9" fill="#12639b"/>
<circle cx="617.5" cy="958.5" r="1.15" fill="#5aa5d8"/>
<circle cx="620.8" cy="956.7" r="2.9" fill="#12639b"/>
<circle cx="620.3" cy="956.2" r="1.15" fill="#5aa5d8"/>
<circle cx="623.6" cy="925.6" r="2.9" fill="#12639b"/>
<circle cx="623.1" cy="925.1" r="1.15" fill="#5aa5d8"/>
<circle cx="612.4" cy="912.4" r="2.9" fill="#12639b"/>
<circle cx="611.9" cy="911.9" r="1.15" fill="#5aa5d8"/>
<circle cx="613.6" cy="916.3" r="2.9" fill="#12639b"/>
<circle cx="613.1" cy="915.8" r="1.15" fill="#5aa5d8"/>
<circle cx="617.7" cy="920.2" r="2.9" fill="#12639b"/>
<circle cx="617.2" cy="919.7" r="1.15" fill="#5aa5d8"/>
<circle cx="619.4" cy="926.3" r="2.9" fill="#12639b"/>
<circle cx="618.9" cy="925.8" r="1.15" fill="#5aa5d8"/>
<circle cx="617.7" cy="935.1" r="2.9" fill="#12639b"/>
<circle cx="617.2" cy="934.6" r="1.15" fill="#5aa5d8"/>
<circle cx="614.1" cy="907.7" r="2.9" fill="#12639b"/>
<circle cx="613.6" cy="907.2" r="1.15" fill="#5aa5d8"/>
<circle cx="613.5" cy="897.1" r="2.9" fill="#12639b"/>
<circle cx="613.0" cy="896.6" r="1.15" fill="#5aa5d8"/>
<circle cx="615.2" cy="911.8" r="2.9" fill="#12639b"/>
<circle cx="614.7" cy="911.3" r="1.15" fill="#5aa5d8"/>
<circle cx="613.0" cy="919.9" r="2.9" fill="#12639b"/>
<circle cx="612.5" cy="919.4" r="1.15" fill="#5aa5d8"/>
<circle cx="614.8" cy="929.5" r="2.9" fill="#12639b"/>
<circle cx="614.3" cy="929.0" r="1.15" fill="#5aa5d8"/>
<circle cx="615.8" cy="917.8" r="2.9" fill="#12639b"/>
<circle cx="615.3" cy="917.3" r="1.15" fill="#5aa5d8"/>
<circle cx="612.2" cy="925.8" r="2.9" fill="#12639b"/>
<circle cx="611.7" cy="925.3" r="1.15" fill="#5aa5d8"/>
<circle cx="611.1" cy="940.2" r="2.9" fill="#12639b"/>
<circle cx="610.6" cy="939.7" r="1.15" fill="#5aa5d8"/>
<circle cx="611.7" cy="892.1" r="2.9" fill="#12639b"/>
<circle cx="611.2" cy="891.6" r="1.15" fill="#5aa5d8"/>
<circle cx="611.7" cy="963.0" r="2.9" fill="#12639b"/>
<circle cx="611.2" cy="962.5" r="1.15" fill="#5aa5d8"/>
<path d="M610.2,869.5 L610.41,869.50 L610.47,871.26 L610.54,873.02 L610.63,874.78 L610.74,876.54 L610.87,878.30 L611.02,880.06 L611.21,881.82 L611.43,883.57 L611.68,885.33 L611.98,887.09 L612.32,888.85 L612.71,890.61 L613.15,892.37 L613.64,894.13 L614.19,895.89 L614.80,897.65 L615.46,899.41 L616.18,901.17 L616.96,902.93 L617.78,904.69 L618.65,906.45 L619.55,908.21 L620.48,909.96 L621.43,911.72 L622.38,913.48 L623.32,915.24 L624.25,917.00 L625.14,918.76 L625.97,920.52 L626.75,922.28 L627.45,924.04 L628.05,925.80 L628.56,927.56 L628.95,929.32 L629.22,931.08 L629.37,932.84 L629.39,934.59 L629.29,936.35 L629.05,938.11 L628.70,939.87 L628.23,941.63 L627.65,943.39 L626.98,945.15 L626.23,946.91 L625.41,948.67 L624.54,950.43 L623.62,952.19 L622.68,953.95 L621.73,955.71 L620.78,957.47 L619.85,959.23 L618.93,960.98 L618.06,962.74 L617.22,964.50 L616.43,966.26 L615.69,968.02 L615.01,969.78 L614.38,971.54 L613.81,973.30" fill="none" stroke="#12639b" stroke-width="1.55"/>
<g stroke="#e8429e" stroke-width="1.65" fill="none">
<line x1="673.5" y1="869.0" x2="673.5" y2="883.0"/>
<line x1="673.5" y1="923.1" x2="673.5" y2="943.9"/>
<line x1="667.3" y1="869.0" x2="679.8" y2="869.0"/>
<line x1="667.3" y1="943.9" x2="679.8" y2="943.9"/>
<rect x="660.8" y="883.0" width="25.5" height="40.1"/>
<line x1="660.8" y1="909.2" x2="686.3" y2="909.2"/>
<rect x="671.8" y="903.9" width="3.4" height="3.4" stroke-width="0.9" fill="#fff"/>
</g>
<circle cx="696.0" cy="918.1" r="2.9" fill="#e8429e"/>
<circle cx="695.5" cy="917.6" r="1.15" fill="#f79ccd"/>
<circle cx="695.9" cy="905.8" r="2.9" fill="#e8429e"/>
<circle cx="695.4" cy="905.3" r="1.15" fill="#f79ccd"/>
<circle cx="699.2" cy="898.2" r="2.9" fill="#e8429e"/>
<circle cx="698.7" cy="897.7" r="1.15" fill="#f79ccd"/>
<circle cx="697.5" cy="900.5" r="2.9" fill="#e8429e"/>
<circle cx="697.0" cy="900.0" r="1.15" fill="#f79ccd"/>
<circle cx="700.0" cy="903.8" r="2.9" fill="#e8429e"/>
<circle cx="699.5" cy="903.3" r="1.15" fill="#f79ccd"/>
<circle cx="696.0" cy="934.2" r="2.9" fill="#e8429e"/>
<circle cx="695.5" cy="933.7" r="1.15" fill="#f79ccd"/>
<circle cx="702.9" cy="900.6" r="2.9" fill="#e8429e"/>
<circle cx="702.4" cy="900.1" r="1.15" fill="#f79ccd"/>
<circle cx="707.2" cy="911.8" r="2.9" fill="#e8429e"/>
<circle cx="706.7" cy="911.3" r="1.15" fill="#f79ccd"/>
<circle cx="703.4" cy="904.7" r="2.9" fill="#e8429e"/>
<circle cx="702.9" cy="904.2" r="1.15" fill="#f79ccd"/>
<circle cx="703.3" cy="887.6" r="2.9" fill="#e8429e"/>
<circle cx="702.8" cy="887.1" r="1.15" fill="#f79ccd"/>
<circle cx="693.2" cy="937.6" r="2.9" fill="#e8429e"/>
<circle cx="692.7" cy="937.1" r="1.15" fill="#f79ccd"/>
<circle cx="691.6" cy="921.6" r="2.9" fill="#e8429e"/>
<circle cx="691.1" cy="921.1" r="1.15" fill="#f79ccd"/>
<circle cx="704.2" cy="897.9" r="2.9" fill="#e8429e"/>
<circle cx="703.7" cy="897.4" r="1.15" fill="#f79ccd"/>
<circle cx="701.6" cy="912.1" r="2.9" fill="#e8429e"/>
<circle cx="701.1" cy="911.6" r="1.15" fill="#f79ccd"/>
<circle cx="694.3" cy="876.0" r="2.9" fill="#e8429e"/>
<circle cx="693.8" cy="875.5" r="1.15" fill="#f79ccd"/>
<circle cx="696.2" cy="909.7" r="2.9" fill="#e8429e"/>
<circle cx="695.7" cy="909.2" r="1.15" fill="#f79ccd"/>
<circle cx="705.3" cy="894.1" r="2.9" fill="#e8429e"/>
<circle cx="704.8" cy="893.6" r="1.15" fill="#f79ccd"/>
<circle cx="693.0" cy="911.1" r="2.9" fill="#e8429e"/>
<circle cx="692.5" cy="910.6" r="1.15" fill="#f79ccd"/>
<circle cx="696.3" cy="913.4" r="2.9" fill="#e8429e"/>
<circle cx="695.8" cy="912.9" r="1.15" fill="#f79ccd"/>
<circle cx="697.1" cy="891.0" r="2.9" fill="#e8429e"/>
<circle cx="696.6" cy="890.5" r="1.15" fill="#f79ccd"/>
<circle cx="699.0" cy="908.6" r="2.9" fill="#e8429e"/>
<circle cx="698.5" cy="908.1" r="1.15" fill="#f79ccd"/>
<circle cx="692.4" cy="934.4" r="2.9" fill="#e8429e"/>
<circle cx="691.9" cy="933.9" r="1.15" fill="#f79ccd"/>
<circle cx="705.0" cy="914.0" r="2.9" fill="#e8429e"/>
<circle cx="704.5" cy="913.5" r="1.15" fill="#f79ccd"/>
<circle cx="698.1" cy="883.8" r="2.9" fill="#e8429e"/>
<circle cx="697.6" cy="883.3" r="1.15" fill="#f79ccd"/>
<circle cx="706.8" cy="907.7" r="2.9" fill="#e8429e"/>
<circle cx="706.3" cy="907.2" r="1.15" fill="#f79ccd"/>
<circle cx="696.7" cy="922.0" r="2.9" fill="#e8429e"/>
<circle cx="696.2" cy="921.5" r="1.15" fill="#f79ccd"/>
<circle cx="695.5" cy="928.0" r="2.9" fill="#e8429e"/>
<circle cx="695.0" cy="927.5" r="1.15" fill="#f79ccd"/>
<circle cx="701.3" cy="890.4" r="2.9" fill="#e8429e"/>
<circle cx="700.8" cy="889.9" r="1.15" fill="#f79ccd"/>
<circle cx="701.4" cy="932.5" r="2.9" fill="#e8429e"/>
<circle cx="700.9" cy="932.0" r="1.15" fill="#f79ccd"/>
<circle cx="698.3" cy="894.6" r="2.9" fill="#e8429e"/>
<circle cx="697.8" cy="894.1" r="1.15" fill="#f79ccd"/>
<circle cx="691.7" cy="869.0" r="2.9" fill="#e8429e"/>
<circle cx="691.2" cy="868.5" r="1.15" fill="#f79ccd"/>
<circle cx="691.7" cy="943.9" r="2.9" fill="#e8429e"/>
<circle cx="691.2" cy="943.4" r="1.15" fill="#f79ccd"/>
<path d="M690.2,843.3 L691.76,843.30 L692.06,845.50 L692.40,847.71 L692.78,849.91 L693.21,852.11 L693.70,854.32 L694.23,856.52 L694.82,858.72 L695.46,860.93 L696.15,863.13 L696.89,865.33 L697.67,867.54 L698.50,869.74 L699.36,871.94 L700.25,874.15 L701.16,876.35 L702.08,878.55 L702.99,880.76 L703.89,882.96 L704.76,885.16 L705.59,887.37 L706.36,889.57 L707.08,891.77 L707.71,893.98 L708.26,896.18 L708.70,898.38 L709.04,900.59 L709.27,902.79 L709.39,904.99 L709.38,907.20 L709.26,909.40 L709.02,911.61 L708.67,913.81 L708.21,916.01 L707.66,918.22 L707.02,920.42 L706.30,922.62 L705.52,924.83 L704.68,927.03 L703.81,929.23 L702.91,931.44 L702.00,933.64 L701.08,935.84 L700.17,938.05 L699.29,940.25 L698.43,942.45 L697.60,944.66 L696.82,946.86 L696.08,949.06 L695.40,951.27 L694.76,953.47 L694.18,955.67 L693.65,957.88 L693.17,960.08 L692.75,962.28 L692.37,964.49 L692.03,966.69 L691.74,968.89 L691.49,971.10 L691.27,973.30" fill="none" stroke="#e8429e" stroke-width="1.55"/>
<g stroke="#16b7b3" stroke-width="1.65" fill="none">
<line x1="753.5" y1="858.1" x2="753.5" y2="877.6"/>
<line x1="753.5" y1="898.8" x2="753.5" y2="918.3"/>
<line x1="747.3" y1="858.1" x2="759.8" y2="858.1"/>
<line x1="747.3" y1="918.3" x2="759.8" y2="918.3"/>
<rect x="740.8" y="877.6" width="25.5" height="21.2"/>
<line x1="740.8" y1="882.7" x2="766.3" y2="882.7"/>
<rect x="751.8" y="884.6" width="3.4" height="3.4" stroke-width="0.9" fill="#fff"/>
</g>
<circle cx="779.4" cy="867.5" r="2.9" fill="#16b7b3"/>
<circle cx="778.9" cy="867.0" r="1.15" fill="#86e4e0"/>
<circle cx="785.1" cy="875.8" r="2.9" fill="#16b7b3"/>
<circle cx="784.6" cy="875.3" r="1.15" fill="#86e4e0"/>
<circle cx="780.1" cy="889.4" r="2.9" fill="#16b7b3"/>
<circle cx="779.6" cy="888.9" r="1.15" fill="#86e4e0"/>
<circle cx="785.1" cy="888.8" r="2.9" fill="#16b7b3"/>
<circle cx="784.6" cy="888.3" r="1.15" fill="#86e4e0"/>
<circle cx="784.5" cy="873.1" r="2.9" fill="#16b7b3"/>
<circle cx="784.0" cy="872.6" r="1.15" fill="#86e4e0"/>
<circle cx="776.4" cy="881.7" r="2.9" fill="#16b7b3"/>
<circle cx="775.9" cy="881.2" r="1.15" fill="#86e4e0"/>
<circle cx="771.5" cy="887.7" r="2.9" fill="#16b7b3"/>
<circle cx="771.0" cy="887.2" r="1.15" fill="#86e4e0"/>
<circle cx="784.1" cy="886.3" r="2.9" fill="#16b7b3"/>
<circle cx="783.6" cy="885.8" r="1.15" fill="#86e4e0"/>
<circle cx="779.7" cy="900.5" r="2.9" fill="#16b7b3"/>
<circle cx="779.2" cy="900.0" r="1.15" fill="#86e4e0"/>
<circle cx="783.5" cy="897.1" r="2.9" fill="#16b7b3"/>
<circle cx="783.0" cy="896.6" r="1.15" fill="#86e4e0"/>
<circle cx="781.5" cy="871.0" r="2.9" fill="#16b7b3"/>
<circle cx="781.0" cy="870.5" r="1.15" fill="#86e4e0"/>
<circle cx="784.7" cy="881.7" r="2.9" fill="#16b7b3"/>
<circle cx="784.2" cy="881.2" r="1.15" fill="#86e4e0"/>
<circle cx="772.5" cy="873.3" r="2.9" fill="#16b7b3"/>
<circle cx="772.0" cy="872.8" r="1.15" fill="#86e4e0"/>
<circle cx="775.9" cy="868.1" r="2.9" fill="#16b7b3"/>
<circle cx="775.4" cy="867.6" r="1.15" fill="#86e4e0"/>
<circle cx="779.1" cy="881.4" r="2.9" fill="#16b7b3"/>
<circle cx="778.6" cy="880.9" r="1.15" fill="#86e4e0"/>
<circle cx="771.0" cy="907.1" r="2.9" fill="#16b7b3"/>
<circle cx="770.5" cy="906.6" r="1.15" fill="#86e4e0"/>
<circle cx="775.8" cy="894.1" r="2.9" fill="#16b7b3"/>
<circle cx="775.3" cy="893.6" r="1.15" fill="#86e4e0"/>
<circle cx="787.9" cy="885.9" r="2.9" fill="#16b7b3"/>
<circle cx="787.4" cy="885.4" r="1.15" fill="#86e4e0"/>
<circle cx="772.6" cy="909.8" r="2.9" fill="#16b7b3"/>
<circle cx="772.1" cy="909.3" r="1.15" fill="#86e4e0"/>
<circle cx="773.8" cy="906.4" r="2.9" fill="#16b7b3"/>
<circle cx="773.3" cy="905.9" r="1.15" fill="#86e4e0"/>
<circle cx="773.5" cy="896.1" r="2.9" fill="#16b7b3"/>
<circle cx="773.0" cy="895.6" r="1.15" fill="#86e4e0"/>
<circle cx="774.9" cy="884.3" r="2.9" fill="#16b7b3"/>
<circle cx="774.4" cy="883.8" r="1.15" fill="#86e4e0"/>
<circle cx="778.7" cy="864.8" r="2.9" fill="#16b7b3"/>
<circle cx="778.2" cy="864.3" r="1.15" fill="#86e4e0"/>
<circle cx="780.0" cy="886.5" r="2.9" fill="#16b7b3"/>
<circle cx="779.5" cy="886.0" r="1.15" fill="#86e4e0"/>
<circle cx="782.1" cy="883.3" r="2.9" fill="#16b7b3"/>
<circle cx="781.6" cy="882.8" r="1.15" fill="#86e4e0"/>
<circle cx="773.6" cy="899.3" r="2.9" fill="#16b7b3"/>
<circle cx="773.1" cy="898.8" r="1.15" fill="#86e4e0"/>
<circle cx="771.9" cy="879.0" r="2.9" fill="#16b7b3"/>
<circle cx="771.4" cy="878.5" r="1.15" fill="#86e4e0"/>
<circle cx="782.1" cy="891.9" r="2.9" fill="#16b7b3"/>
<circle cx="781.6" cy="891.4" r="1.15" fill="#86e4e0"/>
<circle cx="773.7" cy="857.6" r="2.9" fill="#16b7b3"/>
<circle cx="773.2" cy="857.1" r="1.15" fill="#86e4e0"/>
<circle cx="781.2" cy="875.1" r="2.9" fill="#16b7b3"/>
<circle cx="780.7" cy="874.6" r="1.15" fill="#86e4e0"/>
<circle cx="771.7" cy="858.1" r="2.9" fill="#16b7b3"/>
<circle cx="771.2" cy="857.6" r="1.15" fill="#86e4e0"/>
<circle cx="771.7" cy="918.3" r="2.9" fill="#16b7b3"/>
<circle cx="771.2" cy="917.8" r="1.15" fill="#86e4e0"/>
<path d="M770.2,843.3 L770.84,843.30 L771.03,844.89 L771.27,846.48 L771.55,848.07 L771.90,849.67 L772.32,851.26 L772.81,852.85 L773.39,854.44 L774.05,856.03 L774.80,857.62 L775.63,859.22 L776.56,860.81 L777.56,862.40 L778.63,863.99 L779.76,865.58 L780.93,867.17 L782.12,868.76 L783.30,870.36 L784.45,871.95 L785.53,873.54 L786.53,875.13 L787.42,876.72 L788.17,878.31 L788.75,879.91 L789.15,881.50 L789.37,883.09 L789.38,884.68 L789.20,886.27 L788.82,887.86 L788.26,889.45 L787.54,891.05 L786.67,892.64 L785.69,894.23 L784.61,895.82 L783.47,897.41 L782.29,899.00 L781.10,900.59 L779.93,902.19 L778.80,903.78 L777.71,905.37 L776.70,906.96 L775.76,908.55 L774.91,910.14 L774.15,911.74 L773.48,913.33 L772.89,914.92 L772.39,916.51 L771.96,918.10 L771.60,919.69 L771.30,921.28 L771.06,922.88 L770.86,924.47 L770.71,926.06 L770.58,927.65 L770.49,929.24 L770.41,930.83 L770.36,932.43 L770.31,934.02 L770.28,935.61 L770.26,937.20" fill="none" stroke="#16b7b3" stroke-width="1.55"/>
<g stroke="#ea6b66" stroke-width="1.65" fill="none">
<line x1="833.5" y1="869.0" x2="833.5" y2="887.0"/>
<line x1="833.5" y1="917.7" x2="833.5" y2="930.3"/>
<line x1="827.3" y1="869.0" x2="839.8" y2="869.0"/>
<line x1="827.3" y1="930.3" x2="839.8" y2="930.3"/>
<rect x="820.8" y="887.0" width="25.5" height="30.7"/>
<line x1="820.8" y1="908.0" x2="846.3" y2="908.0"/>
<rect x="831.8" y="901.6" width="3.4" height="3.4" stroke-width="0.9" fill="#fff"/>
</g>
<circle cx="855.7" cy="881.0" r="2.9" fill="#ea6b66"/>
<circle cx="855.2" cy="880.5" r="1.15" fill="#f7b0aa"/>
<circle cx="864.2" cy="902.6" r="2.9" fill="#ea6b66"/>
<circle cx="863.7" cy="902.1" r="1.15" fill="#f7b0aa"/>
<circle cx="860.7" cy="911.1" r="2.9" fill="#ea6b66"/>
<circle cx="860.2" cy="910.6" r="1.15" fill="#f7b0aa"/>
<circle cx="856.5" cy="923.3" r="2.9" fill="#ea6b66"/>
<circle cx="856.0" cy="922.8" r="1.15" fill="#f7b0aa"/>
<circle cx="857.7" cy="907.8" r="2.9" fill="#ea6b66"/>
<circle cx="857.2" cy="907.3" r="1.15" fill="#f7b0aa"/>
<circle cx="853.8" cy="872.4" r="2.9" fill="#ea6b66"/>
<circle cx="853.3" cy="871.9" r="1.15" fill="#f7b0aa"/>
<circle cx="868.0" cy="903.1" r="2.9" fill="#ea6b66"/>
<circle cx="867.5" cy="902.6" r="1.15" fill="#f7b0aa"/>
<circle cx="855.7" cy="915.8" r="2.9" fill="#ea6b66"/>
<circle cx="855.2" cy="915.3" r="1.15" fill="#f7b0aa"/>
<circle cx="859.2" cy="887.3" r="2.9" fill="#ea6b66"/>
<circle cx="858.7" cy="886.8" r="1.15" fill="#f7b0aa"/>
<circle cx="864.3" cy="911.1" r="2.9" fill="#ea6b66"/>
<circle cx="863.8" cy="910.6" r="1.15" fill="#f7b0aa"/>
<circle cx="858.0" cy="912.5" r="2.9" fill="#ea6b66"/>
<circle cx="857.5" cy="912.0" r="1.15" fill="#f7b0aa"/>
<circle cx="852.2" cy="913.4" r="2.9" fill="#ea6b66"/>
<circle cx="851.7" cy="912.9" r="1.15" fill="#f7b0aa"/>
<circle cx="856.9" cy="904.8" r="2.9" fill="#ea6b66"/>
<circle cx="856.4" cy="904.3" r="1.15" fill="#f7b0aa"/>
<circle cx="856.3" cy="901.0" r="2.9" fill="#ea6b66"/>
<circle cx="855.8" cy="900.5" r="1.15" fill="#f7b0aa"/>
<circle cx="852.1" cy="909.0" r="2.9" fill="#ea6b66"/>
<circle cx="851.6" cy="908.5" r="1.15" fill="#f7b0aa"/>
<circle cx="851.3" cy="905.1" r="2.9" fill="#ea6b66"/>
<circle cx="850.8" cy="904.6" r="1.15" fill="#f7b0aa"/>
<circle cx="866.8" cy="906.3" r="2.9" fill="#ea6b66"/>
<circle cx="866.3" cy="905.8" r="1.15" fill="#f7b0aa"/>
<circle cx="860.7" cy="890.2" r="2.9" fill="#ea6b66"/>
<circle cx="860.2" cy="889.7" r="1.15" fill="#f7b0aa"/>
<circle cx="858.3" cy="883.0" r="2.9" fill="#ea6b66"/>
<circle cx="857.8" cy="882.5" r="1.15" fill="#f7b0aa"/>
<circle cx="861.4" cy="896.0" r="2.9" fill="#ea6b66"/>
<circle cx="860.9" cy="895.5" r="1.15" fill="#f7b0aa"/>
<circle cx="858.4" cy="898.7" r="2.9" fill="#ea6b66"/>
<circle cx="857.9" cy="898.2" r="1.15" fill="#f7b0aa"/>
<circle cx="854.0" cy="887.6" r="2.9" fill="#ea6b66"/>
<circle cx="853.5" cy="887.1" r="1.15" fill="#f7b0aa"/>
<circle cx="859.6" cy="922.5" r="2.9" fill="#ea6b66"/>
<circle cx="859.1" cy="922.0" r="1.15" fill="#f7b0aa"/>
<circle cx="852.7" cy="898.5" r="2.9" fill="#ea6b66"/>
<circle cx="852.2" cy="898.0" r="1.15" fill="#f7b0aa"/>
<circle cx="855.6" cy="926.6" r="2.9" fill="#ea6b66"/>
<circle cx="855.1" cy="926.1" r="1.15" fill="#f7b0aa"/>
<circle cx="862.5" cy="918.9" r="2.9" fill="#ea6b66"/>
<circle cx="862.0" cy="918.4" r="1.15" fill="#f7b0aa"/>
<circle cx="852.5" cy="928.3" r="2.9" fill="#ea6b66"/>
<circle cx="852.0" cy="927.8" r="1.15" fill="#f7b0aa"/>
<circle cx="852.6" cy="893.0" r="2.9" fill="#ea6b66"/>
<circle cx="852.1" cy="892.5" r="1.15" fill="#f7b0aa"/>
<circle cx="861.4" cy="905.6" r="2.9" fill="#ea6b66"/>
<circle cx="860.9" cy="905.1" r="1.15" fill="#f7b0aa"/>
<circle cx="853.0" cy="882.1" r="2.9" fill="#ea6b66"/>
<circle cx="852.5" cy="881.6" r="1.15" fill="#f7b0aa"/>
<circle cx="851.7" cy="869.0" r="2.9" fill="#ea6b66"/>
<circle cx="851.2" cy="868.5" r="1.15" fill="#f7b0aa"/>
<circle cx="851.7" cy="930.3" r="2.9" fill="#ea6b66"/>
<circle cx="851.2" cy="929.8" r="1.15" fill="#f7b0aa"/>
<path d="M850.2,843.3 L850.27,843.30 L850.30,845.34 L850.35,847.37 L850.41,849.41 L850.49,851.44 L850.60,853.48 L850.75,855.51 L850.94,857.55 L851.18,859.58 L851.49,861.62 L851.87,863.66 L852.33,865.69 L852.90,867.73 L853.56,869.76 L854.33,871.80 L855.22,873.83 L856.21,875.87 L857.31,877.91 L858.50,879.94 L859.76,881.98 L861.07,884.01 L862.40,886.05 L863.71,888.08 L864.98,890.12 L866.15,892.15 L867.19,894.19 L868.06,896.23 L868.73,898.26 L869.18,900.30 L869.39,902.33 L869.34,904.37 L869.05,906.40 L868.52,908.44 L867.78,910.47 L866.85,912.51 L865.76,914.55 L864.55,916.58 L863.27,918.62 L861.94,920.65 L860.61,922.69 L859.32,924.72 L858.08,926.76 L856.92,928.79 L855.86,930.83 L854.90,932.87 L854.05,934.90 L853.32,936.94 L852.69,938.97 L852.16,941.01 L851.73,943.04 L851.37,945.08 L851.09,947.12 L850.87,949.15 L850.69,951.19 L850.56,953.22 L850.46,955.26 L850.38,957.29 L850.33,959.33 L850.29,961.36 L850.26,963.40" fill="none" stroke="#ea6b66" stroke-width="1.55"/>
<line x1="569.5" y1="788.9" x2="569.5" y2="1047.2" stroke="#0d0d0d" stroke-width="1.3"/>
<line x1="889.5" y1="788.9" x2="889.5" y2="1047.2" stroke="#0d0d0d" stroke-width="1.3"/>
<line x1="569.5" y1="789.5" x2="889.5" y2="789.5" stroke="#0d0d0d" stroke-width="1.3"/>
<line x1="569.5" y1="1046.5" x2="889.5" y2="1046.5" stroke="#0d0d0d" stroke-width="1.3"/>
<line x1="609.5" y1="1046.5" x2="609.5" y2="1051.3" stroke="#0d0d0d" stroke-width="1.1"/>
<text x="609.5" y="1071.8" font-size="22.3" text-anchor="middle" fill="#000" >Control</text>
<line x1="689.5" y1="1046.5" x2="689.5" y2="1051.3" stroke="#0d0d0d" stroke-width="1.1"/>
<text x="689.5" y="1071.8" font-size="22.3" text-anchor="middle" fill="#000" >MEA-3</text>
<line x1="769.5" y1="1046.5" x2="769.5" y2="1051.3" stroke="#0d0d0d" stroke-width="1.1"/>
<text x="769.5" y="1071.8" font-size="22.3" text-anchor="middle" fill="#000" >MEA-4</text>
<line x1="849.5" y1="1046.5" x2="849.5" y2="1051.3" stroke="#0d0d0d" stroke-width="1.1"/>
<text x="849.5" y="1071.8" font-size="22.3" text-anchor="middle" fill="#000" >MEA-5</text>
<line x1="569.5" y1="1009.8" x2="564.7" y2="1009.8" stroke="#0d0d0d" stroke-width="1.1"/>
<text x="560.4" y="1015.4" font-size="21.8" text-anchor="end" fill="#000" >12</text>
<line x1="569.5" y1="936.4" x2="564.7" y2="936.4" stroke="#0d0d0d" stroke-width="1.1"/>
<text x="560.4" y="942.0" font-size="21.8" text-anchor="end" fill="#000" >14</text>
<line x1="569.5" y1="862.9" x2="564.7" y2="862.9" stroke="#0d0d0d" stroke-width="1.1"/>
<text x="560.4" y="868.5" font-size="21.8" text-anchor="end" fill="#000" >16</text>
<line x1="569.5" y1="789.5" x2="564.7" y2="789.5" stroke="#0d0d0d" stroke-width="1.1"/>
<text x="560.4" y="795.1" font-size="21.8" text-anchor="end" fill="#000" >18</text>
<line x1="569.5" y1="1046.5" x2="566.9" y2="1046.5" stroke="#0d0d0d" stroke-width="1.1"/>
<line x1="569.5" y1="973.1" x2="566.9" y2="973.1" stroke="#0d0d0d" stroke-width="1.1"/>
<line x1="569.5" y1="899.6" x2="566.9" y2="899.6" stroke="#0d0d0d" stroke-width="1.1"/>
<line x1="569.5" y1="826.2" x2="566.9" y2="826.2" stroke="#0d0d0d" stroke-width="1.1"/>
<text x="0.0" y="0.0" font-size="22.5" text-anchor="middle" fill="#000" transform="translate(523.2,917.5) rotate(-90.0)" ><tspan font-style="italic">J</tspan><tspan font-size="14.4" dy="5.5">SC</tspan><tspan dy="-5.5">&#8203;</tspan> (mA cm<tspan font-size="13.5" dy="-8.7">-2</tspan><tspan dy="8.7">&#8203;</tspan>)</text>
</g>
<g id="panel-h">
<g stroke="#12639b" stroke-width="1.65" fill="none">
<line x1="1047.5" y1="879.8" x2="1047.5" y2="902.0"/>
<line x1="1047.5" y1="925.8" x2="1047.5" y2="961.9"/>
<line x1="1041.3" y1="879.8" x2="1053.8" y2="879.8"/>
<line x1="1041.3" y1="961.9" x2="1053.8" y2="961.9"/>
<rect x="1034.8" y="902.0" width="25.5" height="23.8"/>
<line x1="1034.8" y1="918.3" x2="1060.3" y2="918.3"/>
<rect x="1045.8" y="914.7" width="3.4" height="3.4" stroke-width="0.9" fill="#fff"/>
</g>
<circle cx="1071.7" cy="938.3" r="2.9" fill="#12639b"/>
<circle cx="1071.2" cy="937.8" r="1.15" fill="#5aa5d8"/>
<circle cx="1076.9" cy="933.6" r="2.9" fill="#12639b"/>
<circle cx="1076.4" cy="933.1" r="1.15" fill="#5aa5d8"/>
<circle cx="1078.3" cy="913.6" r="2.9" fill="#12639b"/>
<circle cx="1077.8" cy="913.1" r="1.15" fill="#5aa5d8"/>
<circle cx="1074.6" cy="929.7" r="2.9" fill="#12639b"/>
<circle cx="1074.1" cy="929.2" r="1.15" fill="#5aa5d8"/>
<circle cx="1071.6" cy="906.2" r="2.9" fill="#12639b"/>
<circle cx="1071.1" cy="905.7" r="1.15" fill="#5aa5d8"/>
<circle cx="1071.3" cy="942.3" r="2.9" fill="#12639b"/>
<circle cx="1070.8" cy="941.8" r="1.15" fill="#5aa5d8"/>
<circle cx="1079.8" cy="925.3" r="2.9" fill="#12639b"/>
<circle cx="1079.3" cy="924.8" r="1.15" fill="#5aa5d8"/>
<circle cx="1071.0" cy="924.5" r="2.9" fill="#12639b"/>
<circle cx="1070.5" cy="924.0" r="1.15" fill="#5aa5d8"/>
<circle cx="1065.7" cy="949.2" r="2.9" fill="#12639b"/>
<circle cx="1065.2" cy="948.7" r="1.15" fill="#5aa5d8"/>
<circle cx="1066.4" cy="889.3" r="2.9" fill="#12639b"/>
<circle cx="1065.9" cy="888.8" r="1.15" fill="#5aa5d8"/>
<circle cx="1075.9" cy="906.7" r="2.9" fill="#12639b"/>
<circle cx="1075.4" cy="906.2" r="1.15" fill="#5aa5d8"/>
<circle cx="1066.3" cy="927.6" r="2.9" fill="#12639b"/>
<circle cx="1065.8" cy="927.1" r="1.15" fill="#5aa5d8"/>
<circle cx="1072.9" cy="912.9" r="2.9" fill="#12639b"/>
<circle cx="1072.4" cy="912.4" r="1.15" fill="#5aa5d8"/>
<circle cx="1069.6" cy="885.9" r="2.9" fill="#12639b"/>
<circle cx="1069.1" cy="885.4" r="1.15" fill="#5aa5d8"/>
<circle cx="1066.9" cy="893.0" r="2.9" fill="#12639b"/>
<circle cx="1066.4" cy="892.5" r="1.15" fill="#5aa5d8"/>
<circle cx="1066.4" cy="901.4" r="2.9" fill="#12639b"/>
<circle cx="1065.9" cy="900.9" r="1.15" fill="#5aa5d8"/>
<circle cx="1067.7" cy="931.4" r="2.9" fill="#12639b"/>
<circle cx="1067.2" cy="930.9" r="1.15" fill="#5aa5d8"/>
<circle cx="1071.2" cy="899.6" r="2.9" fill="#12639b"/>
<circle cx="1070.7" cy="899.1" r="1.15" fill="#5aa5d8"/>
<circle cx="1073.7" cy="922.1" r="2.9" fill="#12639b"/>
<circle cx="1073.2" cy="921.6" r="1.15" fill="#5aa5d8"/>
<circle cx="1070.0" cy="918.9" r="2.9" fill="#12639b"/>
<circle cx="1069.5" cy="918.4" r="1.15" fill="#5aa5d8"/>
<circle cx="1065.5" cy="908.1" r="2.9" fill="#12639b"/>
<circle cx="1065.0" cy="907.6" r="1.15" fill="#5aa5d8"/>
<circle cx="1073.2" cy="919.0" r="2.9" fill="#12639b"/>
<circle cx="1072.7" cy="918.5" r="1.15" fill="#5aa5d8"/>
<circle cx="1072.0" cy="895.5" r="2.9" fill="#12639b"/>
<circle cx="1071.5" cy="895.0" r="1.15" fill="#5aa5d8"/>
<circle cx="1066.7" cy="917.4" r="2.9" fill="#12639b"/>
<circle cx="1066.2" cy="916.9" r="1.15" fill="#5aa5d8"/>
<circle cx="1077.9" cy="901.9" r="2.9" fill="#12639b"/>
<circle cx="1077.4" cy="901.4" r="1.15" fill="#5aa5d8"/>
<circle cx="1082.0" cy="917.7" r="2.9" fill="#12639b"/>
<circle cx="1081.5" cy="917.2" r="1.15" fill="#5aa5d8"/>
<circle cx="1076.6" cy="925.0" r="2.9" fill="#12639b"/>
<circle cx="1076.1" cy="924.5" r="1.15" fill="#5aa5d8"/>
<circle cx="1068.1" cy="935.4" r="2.9" fill="#12639b"/>
<circle cx="1067.6" cy="934.9" r="1.15" fill="#5aa5d8"/>
<circle cx="1076.2" cy="911.6" r="2.9" fill="#12639b"/>
<circle cx="1075.7" cy="911.1" r="1.15" fill="#5aa5d8"/>
<circle cx="1072.4" cy="926.9" r="2.9" fill="#12639b"/>
<circle cx="1071.9" cy="926.4" r="1.15" fill="#5aa5d8"/>
<circle cx="1065.7" cy="879.8" r="2.9" fill="#12639b"/>
<circle cx="1065.2" cy="879.3" r="1.15" fill="#5aa5d8"/>
<circle cx="1065.7" cy="961.9" r="2.9" fill="#12639b"/>
<circle cx="1065.2" cy="961.4" r="1.15" fill="#5aa5d8"/>
<path d="M1064.2,840.6 L1064.26,840.60 L1064.28,842.86 L1064.32,845.13 L1064.36,847.39 L1064.42,849.66 L1064.49,851.92 L1064.60,854.19 L1064.72,856.45 L1064.89,858.72 L1065.09,860.98 L1065.34,863.24 L1065.65,865.51 L1066.03,867.77 L1066.47,870.04 L1066.99,872.30 L1067.60,874.57 L1068.30,876.83 L1069.08,879.09 L1069.96,881.36 L1070.92,883.62 L1071.96,885.89 L1073.07,888.15 L1074.22,890.42 L1075.41,892.68 L1076.61,894.95 L1077.79,897.21 L1078.93,899.47 L1079.99,901.74 L1080.95,904.00 L1081.78,906.27 L1082.46,908.53 L1082.97,910.80 L1083.28,913.06 L1083.40,915.33 L1083.31,917.59 L1083.03,919.85 L1082.55,922.12 L1081.90,924.38 L1081.09,926.65 L1080.14,928.91 L1079.10,931.18 L1077.97,933.44 L1076.79,935.71 L1075.60,937.97 L1074.41,940.23 L1073.24,942.50 L1072.13,944.76 L1071.08,947.03 L1070.10,949.29 L1069.21,951.56 L1068.41,953.82 L1067.70,956.08 L1067.08,958.35 L1066.55,960.61 L1066.09,962.88 L1065.71,965.14 L1065.39,967.41 L1065.13,969.67 L1064.92,971.94 L1064.75,974.20" fill="none" stroke="#12639b" stroke-width="1.55"/>
<g stroke="#e8429e" stroke-width="1.65" fill="none">
<line x1="1127.5" y1="847.8" x2="1127.5" y2="873.1"/>
<line x1="1127.5" y1="890.8" x2="1127.5" y2="917.9"/>
<line x1="1121.3" y1="847.8" x2="1133.8" y2="847.8"/>
<line x1="1121.3" y1="917.9" x2="1133.8" y2="917.9"/>
<rect x="1114.8" y="873.1" width="25.5" height="17.7"/>
<line x1="1114.8" y1="884.9" x2="1140.3" y2="884.9"/>
<rect x="1125.8" y="880.4" width="3.4" height="3.4" stroke-width="0.9" fill="#fff"/>
</g>
<circle cx="1145.6" cy="882.9" r="2.9" fill="#e8429e"/>
<circle cx="1145.1" cy="882.4" r="1.15" fill="#f79ccd"/>
<circle cx="1148.9" cy="898.1" r="2.9" fill="#e8429e"/>
<circle cx="1148.4" cy="897.6" r="1.15" fill="#f79ccd"/>
<circle cx="1147.6" cy="903.0" r="2.9" fill="#e8429e"/>
<circle cx="1147.1" cy="902.5" r="1.15" fill="#f79ccd"/>
<circle cx="1161.9" cy="881.4" r="2.9" fill="#e8429e"/>
<circle cx="1161.4" cy="880.9" r="1.15" fill="#f79ccd"/>
<circle cx="1145.6" cy="876.4" r="2.9" fill="#e8429e"/>
<circle cx="1145.1" cy="875.9" r="1.15" fill="#f79ccd"/>
<circle cx="1147.3" cy="892.3" r="2.9" fill="#e8429e"/>
<circle cx="1146.8" cy="891.8" r="1.15" fill="#f79ccd"/>
<circle cx="1160.6" cy="886.9" r="2.9" fill="#e8429e"/>
<circle cx="1160.1" cy="886.4" r="1.15" fill="#f79ccd"/>
<circle cx="1155.2" cy="884.5" r="2.9" fill="#e8429e"/>
<circle cx="1154.7" cy="884.0" r="1.15" fill="#f79ccd"/>
<circle cx="1152.6" cy="869.4" r="2.9" fill="#e8429e"/>
<circle cx="1152.1" cy="868.9" r="1.15" fill="#f79ccd"/>
<circle cx="1148.5" cy="906.8" r="2.9" fill="#e8429e"/>
<circle cx="1148.0" cy="906.3" r="1.15" fill="#f79ccd"/>
<circle cx="1158.4" cy="874.7" r="2.9" fill="#e8429e"/>
<circle cx="1157.9" cy="874.2" r="1.15" fill="#f79ccd"/>
<circle cx="1153.1" cy="894.3" r="2.9" fill="#e8429e"/>
<circle cx="1152.6" cy="893.8" r="1.15" fill="#f79ccd"/>
<circle cx="1145.6" cy="917.9" r="2.9" fill="#e8429e"/>
<circle cx="1145.1" cy="917.4" r="1.15" fill="#f79ccd"/>
<circle cx="1148.6" cy="882.9" r="2.9" fill="#e8429e"/>
<circle cx="1148.1" cy="882.4" r="1.15" fill="#f79ccd"/>
<circle cx="1156.6" cy="890.4" r="2.9" fill="#e8429e"/>
<circle cx="1156.1" cy="889.9" r="1.15" fill="#f79ccd"/>
<circle cx="1152.4" cy="890.8" r="2.9" fill="#e8429e"/>
<circle cx="1151.9" cy="890.3" r="1.15" fill="#f79ccd"/>
<circle cx="1147.5" cy="864.5" r="2.9" fill="#e8429e"/>
<circle cx="1147.0" cy="864.0" r="1.15" fill="#f79ccd"/>
<circle cx="1148.7" cy="876.6" r="2.9" fill="#e8429e"/>
<circle cx="1148.2" cy="876.1" r="1.15" fill="#f79ccd"/>
<circle cx="1147.6" cy="887.0" r="2.9" fill="#e8429e"/>
<circle cx="1147.1" cy="886.5" r="1.15" fill="#f79ccd"/>
<circle cx="1157.1" cy="882.2" r="2.9" fill="#e8429e"/>
<circle cx="1156.6" cy="881.7" r="1.15" fill="#f79ccd"/>
<circle cx="1149.8" cy="870.5" r="2.9" fill="#e8429e"/>
<circle cx="1149.3" cy="870.0" r="1.15" fill="#f79ccd"/>
<circle cx="1155.0" cy="866.3" r="2.9" fill="#e8429e"/>
<circle cx="1154.5" cy="865.8" r="1.15" fill="#f79ccd"/>
<circle cx="1145.7" cy="873.1" r="2.9" fill="#e8429e"/>
<circle cx="1145.2" cy="872.6" r="1.15" fill="#f79ccd"/>
<circle cx="1149.8" cy="867.8" r="2.9" fill="#e8429e"/>
<circle cx="1149.3" cy="867.3" r="1.15" fill="#f79ccd"/>
<circle cx="1154.7" cy="900.1" r="2.9" fill="#e8429e"/>
<circle cx="1154.2" cy="899.6" r="1.15" fill="#f79ccd"/>
<circle cx="1152.9" cy="904.2" r="2.9" fill="#e8429e"/>
<circle cx="1152.4" cy="903.7" r="1.15" fill="#f79ccd"/>
<circle cx="1153.2" cy="882.3" r="2.9" fill="#e8429e"/>
<circle cx="1152.7" cy="881.8" r="1.15" fill="#f79ccd"/>
<circle cx="1162.7" cy="884.0" r="2.9" fill="#e8429e"/>
<circle cx="1162.2" cy="883.5" r="1.15" fill="#f79ccd"/>
<circle cx="1145.0" cy="905.9" r="2.9" fill="#e8429e"/>
<circle cx="1144.5" cy="905.4" r="1.15" fill="#f79ccd"/>
<circle cx="1159.7" cy="894.3" r="2.9" fill="#e8429e"/>
<circle cx="1159.2" cy="893.8" r="1.15" fill="#f79ccd"/>
<circle cx="1145.7" cy="847.8" r="2.9" fill="#e8429e"/>
<circle cx="1145.2" cy="847.3" r="1.15" fill="#f79ccd"/>
<circle cx="1145.7" cy="917.9" r="2.9" fill="#e8429e"/>
<circle cx="1145.2" cy="917.4" r="1.15" fill="#f79ccd"/>
<path d="M1144.2,826.7 L1144.29,826.70 L1144.33,828.71 L1144.39,830.71 L1144.47,832.72 L1144.58,834.72 L1144.72,836.73 L1144.90,838.73 L1145.14,840.74 L1145.44,842.74 L1145.81,844.75 L1146.26,846.75 L1146.82,848.76 L1147.47,850.76 L1148.23,852.77 L1149.11,854.77 L1150.10,856.78 L1151.20,858.78 L1152.39,860.79 L1153.66,862.79 L1154.97,864.80 L1156.31,866.80 L1157.64,868.81 L1158.92,870.81 L1160.10,872.82 L1161.15,874.82 L1162.04,876.83 L1162.72,878.83 L1163.18,880.84 L1163.39,882.84 L1163.34,884.85 L1163.05,886.85 L1162.51,888.86 L1161.76,890.86 L1160.81,892.87 L1159.71,894.87 L1158.49,896.88 L1157.19,898.88 L1155.85,900.89 L1154.52,902.89 L1153.21,904.90 L1151.97,906.90 L1150.81,908.91 L1149.75,910.91 L1148.80,912.92 L1147.96,914.92 L1147.23,916.93 L1146.61,918.93 L1146.10,920.94 L1145.67,922.94 L1145.32,924.95 L1145.05,926.95 L1144.83,928.96 L1144.67,930.96 L1144.54,932.97 L1144.44,934.97 L1144.37,936.98 L1144.32,938.98 L1144.28,940.99 L1144.26,942.99 L1144.24,945.00" fill="none" stroke="#e8429e" stroke-width="1.55"/>
<g stroke="#16b7b3" stroke-width="1.65" fill="none">
<line x1="1207.5" y1="846.0" x2="1207.5" y2="852.9"/>
<line x1="1207.5" y1="880.3" x2="1207.5" y2="911.9"/>
<line x1="1201.3" y1="846.0" x2="1213.8" y2="846.0"/>
<line x1="1201.3" y1="911.9" x2="1213.8" y2="911.9"/>
<rect x="1194.8" y="852.9" width="25.5" height="27.4"/>
<line x1="1194.8" y1="872.8" x2="1220.3" y2="872.8"/>
<rect x="1205.8" y="868.3" width="3.4" height="3.4" stroke-width="0.9" fill="#fff"/>
</g>
<circle cx="1241.9" cy="869.8" r="2.9" fill="#16b7b3"/>
<circle cx="1241.4" cy="869.3" r="1.15" fill="#86e4e0"/>
<circle cx="1227.6" cy="890.8" r="2.9" fill="#16b7b3"/>
<circle cx="1227.1" cy="890.3" r="1.15" fill="#86e4e0"/>
<circle cx="1229.9" cy="855.1" r="2.9" fill="#16b7b3"/>
<circle cx="1229.4" cy="854.6" r="1.15" fill="#86e4e0"/>
<circle cx="1225.3" cy="852.7" r="2.9" fill="#16b7b3"/>
<circle cx="1224.8" cy="852.2" r="1.15" fill="#86e4e0"/>
<circle cx="1225.5" cy="895.1" r="2.9" fill="#16b7b3"/>
<circle cx="1225.0" cy="894.6" r="1.15" fill="#86e4e0"/>
<circle cx="1241.1" cy="863.6" r="2.9" fill="#16b7b3"/>
<circle cx="1240.6" cy="863.1" r="1.15" fill="#86e4e0"/>
<circle cx="1226.9" cy="845.6" r="2.9" fill="#16b7b3"/>
<circle cx="1226.4" cy="845.1" r="1.15" fill="#86e4e0"/>
<circle cx="1240.9" cy="866.3" r="2.9" fill="#16b7b3"/>
<circle cx="1240.4" cy="865.8" r="1.15" fill="#86e4e0"/>
<circle cx="1232.3" cy="882.7" r="2.9" fill="#16b7b3"/>
<circle cx="1231.8" cy="882.2" r="1.15" fill="#86e4e0"/>
<circle cx="1238.4" cy="875.9" r="2.9" fill="#16b7b3"/>
<circle cx="1237.9" cy="875.4" r="1.15" fill="#86e4e0"/>
<circle cx="1233.8" cy="852.6" r="2.9" fill="#16b7b3"/>
<circle cx="1233.3" cy="852.1" r="1.15" fill="#86e4e0"/>
<circle cx="1231.3" cy="879.2" r="2.9" fill="#16b7b3"/>
<circle cx="1230.8" cy="878.7" r="1.15" fill="#86e4e0"/>
<circle cx="1233.5" cy="873.1" r="2.9" fill="#16b7b3"/>
<circle cx="1233.0" cy="872.6" r="1.15" fill="#86e4e0"/>
<circle cx="1226.6" cy="858.0" r="2.9" fill="#16b7b3"/>
<circle cx="1226.1" cy="857.5" r="1.15" fill="#86e4e0"/>
<circle cx="1228.2" cy="880.2" r="2.9" fill="#16b7b3"/>
<circle cx="1227.7" cy="879.7" r="1.15" fill="#86e4e0"/>
<circle cx="1225.3" cy="884.1" r="2.9" fill="#16b7b3"/>
<circle cx="1224.8" cy="883.6" r="1.15" fill="#86e4e0"/>
<circle cx="1234.9" cy="861.0" r="2.9" fill="#16b7b3"/>
<circle cx="1234.4" cy="860.5" r="1.15" fill="#86e4e0"/>
<circle cx="1235.9" cy="874.3" r="2.9" fill="#16b7b3"/>
<circle cx="1235.4" cy="873.8" r="1.15" fill="#86e4e0"/>
<circle cx="1231.7" cy="867.6" r="2.9" fill="#16b7b3"/>
<circle cx="1231.2" cy="867.1" r="1.15" fill="#86e4e0"/>
<circle cx="1235.1" cy="881.7" r="2.9" fill="#16b7b3"/>
<circle cx="1234.6" cy="881.2" r="1.15" fill="#86e4e0"/>
<circle cx="1237.6" cy="861.2" r="2.9" fill="#16b7b3"/>
<circle cx="1237.1" cy="860.7" r="1.15" fill="#86e4e0"/>
<circle cx="1233.3" cy="886.5" r="2.9" fill="#16b7b3"/>
<circle cx="1232.8" cy="886.0" r="1.15" fill="#86e4e0"/>
<circle cx="1234.3" cy="865.6" r="2.9" fill="#16b7b3"/>
<circle cx="1233.8" cy="865.1" r="1.15" fill="#86e4e0"/>
<circle cx="1225.4" cy="897.8" r="2.9" fill="#16b7b3"/>
<circle cx="1224.9" cy="897.3" r="1.15" fill="#86e4e0"/>
<circle cx="1228.6" cy="850.5" r="2.9" fill="#16b7b3"/>
<circle cx="1228.1" cy="850.0" r="1.15" fill="#86e4e0"/>
<circle cx="1236.4" cy="867.4" r="2.9" fill="#16b7b3"/>
<circle cx="1235.9" cy="866.9" r="1.15" fill="#86e4e0"/>
<circle cx="1228.6" cy="894.1" r="2.9" fill="#16b7b3"/>
<circle cx="1228.1" cy="893.6" r="1.15" fill="#86e4e0"/>
<circle cx="1227.4" cy="872.3" r="2.9" fill="#16b7b3"/>
<circle cx="1226.9" cy="871.8" r="1.15" fill="#86e4e0"/>
<circle cx="1235.0" cy="856.8" r="2.9" fill="#16b7b3"/>
<circle cx="1234.5" cy="856.3" r="1.15" fill="#86e4e0"/>
<circle cx="1228.3" cy="876.4" r="2.9" fill="#16b7b3"/>
<circle cx="1227.8" cy="875.9" r="1.15" fill="#86e4e0"/>
<circle cx="1225.7" cy="846.0" r="2.9" fill="#16b7b3"/>
<circle cx="1225.2" cy="845.5" r="1.15" fill="#86e4e0"/>
<circle cx="1225.7" cy="911.9" r="2.9" fill="#16b7b3"/>
<circle cx="1225.2" cy="911.4" r="1.15" fill="#86e4e0"/>
<path d="M1224.2,826.2 L1224.52,826.20 L1224.64,827.96 L1224.80,829.73 L1225.01,831.49 L1225.27,833.26 L1225.61,835.02 L1226.02,836.79 L1226.52,838.55 L1227.12,840.32 L1227.83,842.08 L1228.65,843.84 L1229.59,845.61 L1230.63,847.37 L1231.78,849.14 L1233.01,850.90 L1234.31,852.67 L1235.64,854.43 L1236.98,856.19 L1238.29,857.96 L1239.52,859.72 L1240.65,861.49 L1241.62,863.25 L1242.41,865.02 L1242.98,866.78 L1243.31,868.55 L1243.40,870.31 L1243.22,872.07 L1242.81,873.84 L1242.15,875.60 L1241.30,877.37 L1240.27,879.13 L1239.10,880.90 L1237.83,882.66 L1236.51,884.43 L1235.17,886.19 L1233.84,887.95 L1232.57,889.72 L1231.36,891.48 L1230.25,893.25 L1229.25,895.01 L1228.35,896.78 L1227.57,898.54 L1226.90,900.31 L1226.33,902.07 L1225.87,903.83 L1225.48,905.60 L1225.17,907.36 L1224.93,909.13 L1224.74,910.89 L1224.59,912.66 L1224.48,914.42 L1224.40,916.18 L1224.34,917.95 L1224.30,919.71 L1224.27,921.48 L1224.25,923.24 L1224.23,925.01 L1224.22,926.77 L1224.21,928.54 L1224.21,930.30" fill="none" stroke="#16b7b3" stroke-width="1.55"/>
<g stroke="#ea6b66" stroke-width="1.65" fill="none">
<line x1="1287.5" y1="852.7" x2="1287.5" y2="883.4"/>
<line x1="1287.5" y1="906.2" x2="1287.5" y2="929.6"/>
<line x1="1281.3" y1="852.7" x2="1293.8" y2="852.7"/>
<line x1="1281.3" y1="929.6" x2="1293.8" y2="929.6"/>
<rect x="1274.8" y="883.4" width="25.5" height="22.8"/>
<line x1="1274.8" y1="884.9" x2="1300.3" y2="884.9"/>
<rect x="1285.8" y="889.8" width="3.4" height="3.4" stroke-width="0.9" fill="#fff"/>
</g>
<circle cx="1318.7" cy="884.2" r="2.9" fill="#ea6b66"/>
<circle cx="1318.2" cy="883.7" r="1.15" fill="#f7b0aa"/>
<circle cx="1306.8" cy="910.8" r="2.9" fill="#ea6b66"/>
<circle cx="1306.3" cy="910.3" r="1.15" fill="#f7b0aa"/>
<circle cx="1308.7" cy="908.1" r="2.9" fill="#ea6b66"/>
<circle cx="1308.2" cy="907.6" r="1.15" fill="#f7b0aa"/>
<circle cx="1312.8" cy="885.5" r="2.9" fill="#ea6b66"/>
<circle cx="1312.3" cy="885.0" r="1.15" fill="#f7b0aa"/>
<circle cx="1306.4" cy="892.6" r="2.9" fill="#ea6b66"/>
<circle cx="1305.9" cy="892.1" r="1.15" fill="#f7b0aa"/>
<circle cx="1309.8" cy="865.0" r="2.9" fill="#ea6b66"/>
<circle cx="1309.3" cy="864.5" r="1.15" fill="#f7b0aa"/>
<circle cx="1315.3" cy="894.2" r="2.9" fill="#ea6b66"/>
<circle cx="1314.8" cy="893.7" r="1.15" fill="#f7b0aa"/>
<circle cx="1308.1" cy="879.7" r="2.9" fill="#ea6b66"/>
<circle cx="1307.6" cy="879.2" r="1.15" fill="#f7b0aa"/>
<circle cx="1311.5" cy="910.8" r="2.9" fill="#ea6b66"/>
<circle cx="1311.0" cy="910.3" r="1.15" fill="#f7b0aa"/>
<circle cx="1312.9" cy="901.2" r="2.9" fill="#ea6b66"/>
<circle cx="1312.4" cy="900.7" r="1.15" fill="#f7b0aa"/>
<circle cx="1306.3" cy="920.6" r="2.9" fill="#ea6b66"/>
<circle cx="1305.8" cy="920.1" r="1.15" fill="#f7b0aa"/>
<circle cx="1305.8" cy="875.4" r="2.9" fill="#ea6b66"/>
<circle cx="1305.3" cy="874.9" r="1.15" fill="#f7b0aa"/>
<circle cx="1316.7" cy="903.0" r="2.9" fill="#ea6b66"/>
<circle cx="1316.2" cy="902.5" r="1.15" fill="#f7b0aa"/>
<circle cx="1322.5" cy="887.2" r="2.9" fill="#ea6b66"/>
<circle cx="1322.0" cy="886.7" r="1.15" fill="#f7b0aa"/>
<circle cx="1314.0" cy="905.3" r="2.9" fill="#ea6b66"/>
<circle cx="1313.5" cy="904.8" r="1.15" fill="#f7b0aa"/>
<circle cx="1305.3" cy="886.4" r="2.9" fill="#ea6b66"/>
<circle cx="1304.8" cy="885.9" r="1.15" fill="#f7b0aa"/>
<circle cx="1308.3" cy="902.6" r="2.9" fill="#ea6b66"/>
<circle cx="1307.8" cy="902.1" r="1.15" fill="#f7b0aa"/>
<circle cx="1320.6" cy="881.4" r="2.9" fill="#ea6b66"/>
<circle cx="1320.1" cy="880.9" r="1.15" fill="#f7b0aa"/>
<circle cx="1312.5" cy="893.6" r="2.9" fill="#ea6b66"/>
<circle cx="1312.0" cy="893.1" r="1.15" fill="#f7b0aa"/>
<circle cx="1311.8" cy="874.5" r="2.9" fill="#ea6b66"/>
<circle cx="1311.3" cy="874.0" r="1.15" fill="#f7b0aa"/>
<circle cx="1306.7" cy="856.0" r="2.9" fill="#ea6b66"/>
<circle cx="1306.2" cy="855.5" r="1.15" fill="#f7b0aa"/>
<circle cx="1307.3" cy="867.8" r="2.9" fill="#ea6b66"/>
<circle cx="1306.8" cy="867.3" r="1.15" fill="#f7b0aa"/>
<circle cx="1309.2" cy="883.7" r="2.9" fill="#ea6b66"/>
<circle cx="1308.7" cy="883.2" r="1.15" fill="#f7b0aa"/>
<circle cx="1306.9" cy="898.0" r="2.9" fill="#ea6b66"/>
<circle cx="1306.4" cy="897.5" r="1.15" fill="#f7b0aa"/>
<circle cx="1308.7" cy="890.4" r="2.9" fill="#ea6b66"/>
<circle cx="1308.2" cy="889.9" r="1.15" fill="#f7b0aa"/>
<circle cx="1305.2" cy="889.3" r="2.9" fill="#ea6b66"/>
<circle cx="1304.7" cy="888.8" r="1.15" fill="#f7b0aa"/>
<circle cx="1316.0" cy="900.1" r="2.9" fill="#ea6b66"/>
<circle cx="1315.5" cy="899.6" r="1.15" fill="#f7b0aa"/>
<circle cx="1313.3" cy="879.0" r="2.9" fill="#ea6b66"/>
<circle cx="1312.8" cy="878.5" r="1.15" fill="#f7b0aa"/>
<circle cx="1305.7" cy="926.5" r="2.9" fill="#ea6b66"/>
<circle cx="1305.2" cy="926.0" r="1.15" fill="#f7b0aa"/>
<circle cx="1320.4" cy="890.0" r="2.9" fill="#ea6b66"/>
<circle cx="1319.9" cy="889.5" r="1.15" fill="#f7b0aa"/>
<circle cx="1305.7" cy="852.7" r="2.9" fill="#ea6b66"/>
<circle cx="1305.2" cy="852.2" r="1.15" fill="#f7b0aa"/>
<circle cx="1305.7" cy="929.6" r="2.9" fill="#ea6b66"/>
<circle cx="1305.2" cy="929.1" r="1.15" fill="#f7b0aa"/>
<path d="M1304.2,833.4 L1304.29,833.40 L1304.33,835.37 L1304.38,837.34 L1304.46,839.30 L1304.56,841.27 L1304.69,843.24 L1304.87,845.21 L1305.10,847.17 L1305.39,849.14 L1305.74,851.11 L1306.19,853.08 L1306.72,855.05 L1307.36,857.01 L1308.11,858.98 L1308.96,860.95 L1309.93,862.92 L1311.01,864.88 L1312.19,866.85 L1313.44,868.82 L1314.75,870.79 L1316.09,872.76 L1317.42,874.72 L1318.70,876.69 L1319.90,878.66 L1320.98,880.63 L1321.90,882.59 L1322.62,884.56 L1323.11,886.53 L1323.37,888.50 L1323.37,890.47 L1323.12,892.43 L1322.63,894.40 L1321.91,896.37 L1321.00,898.34 L1319.93,900.31 L1318.73,902.27 L1317.44,904.24 L1316.11,906.21 L1314.77,908.18 L1313.46,910.14 L1312.21,912.11 L1311.03,914.08 L1309.95,916.05 L1308.98,918.02 L1308.12,919.98 L1307.37,921.95 L1306.73,923.92 L1306.20,925.89 L1305.75,927.85 L1305.39,929.82 L1305.10,931.79 L1304.87,933.76 L1304.70,935.73 L1304.56,937.69 L1304.46,939.66 L1304.38,941.63 L1304.33,943.60 L1304.29,945.56 L1304.26,947.53 L1304.24,949.50" fill="none" stroke="#ea6b66" stroke-width="1.55"/>
<line x1="1023.5" y1="789.9" x2="1023.5" y2="1047.2" stroke="#0d0d0d" stroke-width="1.3"/>
<line x1="1343.5" y1="789.9" x2="1343.5" y2="1047.2" stroke="#0d0d0d" stroke-width="1.3"/>
<line x1="1023.5" y1="790.5" x2="1343.5" y2="790.5" stroke="#0d0d0d" stroke-width="1.3"/>
<line x1="1023.5" y1="1046.5" x2="1343.5" y2="1046.5" stroke="#0d0d0d" stroke-width="1.3"/>
<line x1="1063.5" y1="1046.5" x2="1063.5" y2="1051.3" stroke="#0d0d0d" stroke-width="1.1"/>
<text x="1063.5" y="1071.8" font-size="22.3" text-anchor="middle" fill="#000" >Control</text>
<line x1="1143.5" y1="1046.5" x2="1143.5" y2="1051.3" stroke="#0d0d0d" stroke-width="1.1"/>
<text x="1143.5" y="1071.8" font-size="22.3" text-anchor="middle" fill="#000" >MEA-3</text>
<line x1="1223.5" y1="1046.5" x2="1223.5" y2="1051.3" stroke="#0d0d0d" stroke-width="1.1"/>
<text x="1223.5" y="1071.8" font-size="22.3" text-anchor="middle" fill="#000" >MEA-4</text>
<line x1="1303.5" y1="1046.5" x2="1303.5" y2="1051.3" stroke="#0d0d0d" stroke-width="1.1"/>
<text x="1303.5" y="1071.8" font-size="22.3" text-anchor="middle" fill="#000" >MEA-5</text>
<line x1="1023.5" y1="1009.9" x2="1018.7" y2="1009.9" stroke="#0d0d0d" stroke-width="1.1"/>
<text x="1014.5" y="1015.3" font-size="21.8" text-anchor="end" fill="#000" >48</text>
<line x1="1023.5" y1="936.8" x2="1018.7" y2="936.8" stroke="#0d0d0d" stroke-width="1.1"/>
<text x="1014.5" y="942.2" font-size="21.8" text-anchor="end" fill="#000" >52</text>
<line x1="1023.5" y1="863.6" x2="1018.7" y2="863.6" stroke="#0d0d0d" stroke-width="1.1"/>
<text x="1014.5" y="869.0" font-size="21.8" text-anchor="end" fill="#000" >56</text>
<line x1="1023.5" y1="790.5" x2="1018.7" y2="790.5" stroke="#0d0d0d" stroke-width="1.1"/>
<text x="1014.5" y="795.9" font-size="21.8" text-anchor="end" fill="#000" >60</text>
<line x1="1023.5" y1="1046.5" x2="1020.9" y2="1046.5" stroke="#0d0d0d" stroke-width="1.1"/>
<line x1="1023.5" y1="973.4" x2="1020.9" y2="973.4" stroke="#0d0d0d" stroke-width="1.1"/>
<line x1="1023.5" y1="900.2" x2="1020.9" y2="900.2" stroke="#0d0d0d" stroke-width="1.1"/>
<line x1="1023.5" y1="827.1" x2="1020.9" y2="827.1" stroke="#0d0d0d" stroke-width="1.1"/>
<text x="0.0" y="0.0" font-size="22.5" text-anchor="middle" fill="#000" transform="translate(983.0,917.8) rotate(-90.0)" >FF (%)</text>
</g>
<text x="33.0" y="48.0" font-size="36.0" text-anchor="start" fill="#000" font-weight="bold" >a</text>
<text x="699.0" y="48.5" font-size="36.0" text-anchor="start" fill="#000" font-weight="bold" >b</text>
<text x="24.0" y="455.5" font-size="36.0" text-anchor="start" fill="#000" font-weight="bold" >c</text>
<text x="486.0" y="454.5" font-size="36.0" text-anchor="start" fill="#000" font-weight="bold" >d</text>
<text x="948.0" y="454.3" font-size="36.0" text-anchor="start" fill="#000" font-weight="bold" >e</text>
<text x="22.5" y="790.5" font-size="36.0" text-anchor="start" fill="#000" font-weight="bold" >f</text>
<text x="491.2" y="788.5" font-size="36.0" text-anchor="start" fill="#000" font-weight="bold" >g</text>
<text x="947.2" y="787.0" font-size="36.0" text-anchor="start" fill="#000" font-weight="bold" >h</text>
</svg>
</body></html>
